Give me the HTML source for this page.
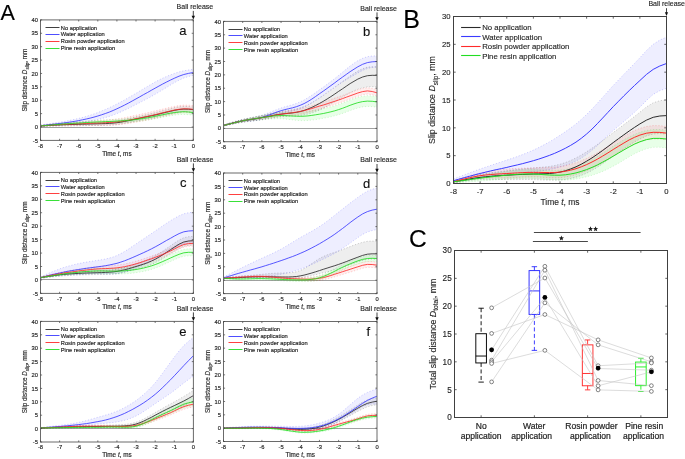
<!DOCTYPE html><html><head><meta charset="utf-8"><style>html,body{margin:0;padding:0;background:#fff;overflow:hidden}svg{display:block;will-change:transform}text{font-family:"Liberation Sans", sans-serif}</style></head><body>
<svg width="685" height="459" viewBox="0 0 685 459">
<rect width="685" height="459" fill="#fff"/>
<text x="0.60" y="19.50" font-size="21.50" text-anchor="start" fill="#000" stroke="#000" stroke-width="0.13">A</text>
<text x="403.20" y="27.80" font-size="25.00" text-anchor="start" fill="#000" stroke="#000" stroke-width="0.13">B</text>
<text x="409.00" y="246.50" font-size="24.50" text-anchor="start" fill="#000" stroke="#000" stroke-width="0.13">C</text>
<line x1="40.50" y1="127.50" x2="193.30" y2="127.50" stroke="#888" stroke-width="0.8"/>
<clipPath id="clipa"><rect x="40.50" y="19.90" width="152.80" height="120.50"/></clipPath>
<g clip-path="url(#clipa)">
<path d="M40.5,125.4 L44.3,125.0 L48.1,124.7 L52.0,124.4 L55.8,124.1 L59.6,123.8 L63.4,123.6 L67.2,123.4 L71.1,123.3 L74.9,123.1 L78.7,123.0 L82.5,122.8 L86.3,122.7 L90.2,122.5 L94.0,122.3 L97.8,122.2 L101.6,122.0 L105.4,121.9 L109.3,121.6 L113.1,121.3 L116.9,120.9 L120.7,120.2 L124.5,119.5 L128.4,118.6 L132.2,117.7 L136.0,116.8 L139.8,116.0 L143.6,115.2 L147.5,114.3 L151.3,113.5 L155.1,112.6 L158.9,111.6 L162.7,110.6 L166.6,109.6 L170.4,108.6 L174.2,107.7 L179.0,106.8 L183.8,106.4 L188.5,106.5 L193.3,106.9 L193.3,112.3 L188.5,111.8 L183.8,111.7 L179.0,112.2 L174.2,113.1 L170.4,113.9 L166.6,114.8 L162.7,115.6 L158.9,116.5 L155.1,117.4 L151.3,118.2 L147.5,118.9 L143.6,119.6 L139.8,120.4 L136.0,121.1 L132.2,121.9 L128.4,122.7 L124.5,123.4 L120.7,124.1 L116.9,124.6 L113.1,125.0 L109.3,125.2 L105.4,125.3 L101.6,125.4 L97.8,125.4 L94.0,125.4 L90.2,125.5 L86.3,125.6 L82.5,125.6 L78.7,125.7 L74.9,125.7 L71.1,125.8 L67.2,125.8 L63.4,125.9 L59.6,125.9 L55.8,126.0 L52.0,126.1 L48.1,126.2 L44.3,126.4 L40.5,126.5 Z" fill="rgba(0,0,0,0.065)" stroke="none"/>
<path d="M40.5,124.9 L44.3,124.4 L48.1,123.9 L52.0,123.3 L55.8,122.8 L59.6,122.2 L63.4,121.6 L67.2,120.9 L71.1,120.1 L74.9,119.3 L78.7,118.4 L82.5,117.5 L86.3,116.4 L90.2,115.2 L94.0,113.9 L97.8,112.6 L101.6,111.0 L105.4,109.4 L109.3,107.7 L113.1,105.9 L116.9,104.0 L120.7,102.0 L124.5,99.9 L128.4,97.7 L132.2,95.5 L136.0,93.3 L139.8,91.0 L143.6,88.7 L147.5,86.4 L151.3,84.2 L155.1,82.0 L158.9,80.0 L162.7,78.2 L166.6,76.4 L170.4,74.9 L174.2,73.5 L179.0,71.9 L183.8,70.8 L188.5,70.0 L193.3,69.4 L193.3,75.3 L188.5,76.5 L183.8,78.0 L179.0,80.2 L174.2,82.8 L170.4,85.1 L166.6,87.4 L162.7,89.8 L158.9,92.1 L155.1,94.3 L151.3,96.5 L147.5,98.6 L143.6,100.6 L139.8,102.6 L136.0,104.5 L132.2,106.5 L128.4,108.4 L124.5,110.2 L120.7,112.0 L116.9,113.6 L113.1,115.1 L109.3,116.4 L105.4,117.6 L101.6,118.6 L97.8,119.5 L94.0,120.3 L90.2,121.0 L86.3,121.6 L82.5,122.2 L78.7,122.7 L74.9,123.2 L71.1,123.7 L67.2,124.1 L63.4,124.5 L59.6,124.9 L55.8,125.2 L52.0,125.6 L48.1,125.9 L44.3,126.2 L40.5,126.5 Z" fill="rgba(0,0,255,0.065)" stroke="none"/>
<path d="M40.5,125.4 L44.3,124.9 L48.1,124.5 L52.0,124.0 L55.8,123.6 L59.6,123.3 L63.4,122.9 L67.2,122.7 L71.1,122.4 L74.9,122.2 L78.7,121.9 L82.5,121.7 L86.3,121.4 L90.2,121.1 L94.0,120.8 L97.8,120.6 L101.6,120.3 L105.4,120.1 L109.3,119.8 L113.1,119.4 L116.9,119.0 L120.7,118.4 L124.5,117.7 L128.4,116.9 L132.2,116.1 L136.0,115.2 L139.8,114.4 L143.6,113.6 L147.5,112.7 L151.3,111.8 L155.1,110.9 L158.9,110.0 L162.7,109.1 L166.6,108.1 L170.4,107.2 L174.2,106.4 L179.0,105.5 L183.8,105.1 L188.5,105.2 L193.3,105.6 L193.3,113.1 L188.5,112.7 L183.8,112.6 L179.0,113.0 L174.2,113.9 L170.4,114.7 L166.6,115.6 L162.7,116.6 L158.9,117.5 L155.1,118.4 L151.3,119.3 L147.5,120.1 L143.6,120.8 L139.8,121.5 L136.0,122.2 L132.2,122.8 L128.4,123.5 L124.5,124.0 L120.7,124.5 L116.9,124.9 L113.1,125.1 L109.3,125.3 L105.4,125.3 L101.6,125.4 L97.8,125.4 L94.0,125.4 L90.2,125.5 L86.3,125.6 L82.5,125.6 L78.7,125.7 L74.9,125.7 L71.1,125.8 L67.2,125.8 L63.4,125.9 L59.6,125.9 L55.8,126.0 L52.0,126.1 L48.1,126.2 L44.3,126.4 L40.5,126.5 Z" fill="rgba(255,0,0,0.065)" stroke="none"/>
<path d="M40.5,125.4 L44.3,125.0 L48.1,124.5 L52.0,124.1 L55.8,123.7 L59.6,123.3 L63.4,122.9 L67.2,122.6 L71.1,122.3 L74.9,121.9 L78.7,121.7 L82.5,121.4 L86.3,121.1 L90.2,120.8 L94.0,120.6 L97.8,120.3 L101.6,120.1 L105.4,119.9 L109.3,119.7 L113.1,119.5 L116.9,119.2 L120.7,119.0 L124.5,118.7 L128.4,118.3 L132.2,117.9 L136.0,117.4 L139.8,116.8 L143.6,116.2 L147.5,115.5 L151.3,114.7 L155.1,113.9 L158.9,113.0 L162.7,112.2 L166.6,111.3 L170.4,110.5 L174.2,109.9 L179.0,109.3 L183.8,109.1 L188.5,109.3 L193.3,109.9 L193.3,115.2 L188.5,114.7 L183.8,114.4 L179.0,114.6 L174.2,115.2 L170.4,115.8 L166.6,116.5 L162.7,117.2 L158.9,118.0 L155.1,118.7 L151.3,119.4 L147.5,120.1 L143.6,120.7 L139.8,121.2 L136.0,121.7 L132.2,122.0 L128.4,122.4 L124.5,122.6 L120.7,122.8 L116.9,123.0 L113.1,123.1 L109.3,123.2 L105.4,123.3 L101.6,123.4 L97.8,123.5 L94.0,123.7 L90.2,123.8 L86.3,124.0 L82.5,124.1 L78.7,124.3 L74.9,124.5 L71.1,124.7 L67.2,125.0 L63.4,125.2 L59.6,125.4 L55.8,125.6 L52.0,125.8 L48.1,126.1 L44.3,126.3 L40.5,126.5 Z" fill="rgba(0,255,0,0.09)" stroke="none"/>
<path d="M40.5,125.4 L44.3,125.0 L48.1,124.7 L52.0,124.4 L55.8,124.1 L59.6,123.8 L63.4,123.6 L67.2,123.4 L71.1,123.3 L74.9,123.1 L78.7,123.0 L82.5,122.8 L86.3,122.7 L90.2,122.5 L94.0,122.3 L97.8,122.2 L101.6,122.0 L105.4,121.9 L109.3,121.6 L113.1,121.3 L116.9,120.9 L120.7,120.2 L124.5,119.5 L128.4,118.6 L132.2,117.7 L136.0,116.8 L139.8,116.0 L143.6,115.2 L147.5,114.3 L151.3,113.5 L155.1,112.6 L158.9,111.6 L162.7,110.6 L166.6,109.6 L170.4,108.6 L174.2,107.7 L179.0,106.8 L183.8,106.4 L188.5,106.5 L193.3,106.9" fill="none" stroke="rgba(0,0,0,0.3)" stroke-width="0.6" stroke-dasharray="1.2,1.8"/>
<path d="M40.5,126.5 L44.3,126.4 L48.1,126.2 L52.0,126.1 L55.8,126.0 L59.6,125.9 L63.4,125.9 L67.2,125.8 L71.1,125.8 L74.9,125.7 L78.7,125.7 L82.5,125.6 L86.3,125.6 L90.2,125.5 L94.0,125.4 L97.8,125.4 L101.6,125.4 L105.4,125.3 L109.3,125.2 L113.1,125.0 L116.9,124.6 L120.7,124.1 L124.5,123.4 L128.4,122.7 L132.2,121.9 L136.0,121.1 L139.8,120.4 L143.6,119.6 L147.5,118.9 L151.3,118.2 L155.1,117.4 L158.9,116.5 L162.7,115.6 L166.6,114.8 L170.4,113.9 L174.2,113.1 L179.0,112.2 L183.8,111.7 L188.5,111.8 L193.3,112.3" fill="none" stroke="rgba(0,0,0,0.3)" stroke-width="0.6" stroke-dasharray="1.2,1.8"/>
<path d="M40.5,124.9 L44.3,124.4 L48.1,123.9 L52.0,123.3 L55.8,122.8 L59.6,122.2 L63.4,121.6 L67.2,120.9 L71.1,120.1 L74.9,119.3 L78.7,118.4 L82.5,117.5 L86.3,116.4 L90.2,115.2 L94.0,113.9 L97.8,112.6 L101.6,111.0 L105.4,109.4 L109.3,107.7 L113.1,105.9 L116.9,104.0 L120.7,102.0 L124.5,99.9 L128.4,97.7 L132.2,95.5 L136.0,93.3 L139.8,91.0 L143.6,88.7 L147.5,86.4 L151.3,84.2 L155.1,82.0 L158.9,80.0 L162.7,78.2 L166.6,76.4 L170.4,74.9 L174.2,73.5 L179.0,71.9 L183.8,70.8 L188.5,70.0 L193.3,69.4" fill="none" stroke="rgba(0,0,255,0.3)" stroke-width="0.6" stroke-dasharray="1.2,1.8"/>
<path d="M40.5,126.5 L44.3,126.2 L48.1,125.9 L52.0,125.6 L55.8,125.2 L59.6,124.9 L63.4,124.5 L67.2,124.1 L71.1,123.7 L74.9,123.2 L78.7,122.7 L82.5,122.2 L86.3,121.6 L90.2,121.0 L94.0,120.3 L97.8,119.5 L101.6,118.6 L105.4,117.6 L109.3,116.4 L113.1,115.1 L116.9,113.6 L120.7,112.0 L124.5,110.2 L128.4,108.4 L132.2,106.5 L136.0,104.5 L139.8,102.6 L143.6,100.6 L147.5,98.6 L151.3,96.5 L155.1,94.3 L158.9,92.1 L162.7,89.8 L166.6,87.4 L170.4,85.1 L174.2,82.8 L179.0,80.2 L183.8,78.0 L188.5,76.5 L193.3,75.3" fill="none" stroke="rgba(0,0,255,0.3)" stroke-width="0.6" stroke-dasharray="1.2,1.8"/>
<path d="M40.5,125.4 L44.3,124.9 L48.1,124.5 L52.0,124.0 L55.8,123.6 L59.6,123.3 L63.4,122.9 L67.2,122.7 L71.1,122.4 L74.9,122.2 L78.7,121.9 L82.5,121.7 L86.3,121.4 L90.2,121.1 L94.0,120.8 L97.8,120.6 L101.6,120.3 L105.4,120.1 L109.3,119.8 L113.1,119.4 L116.9,119.0 L120.7,118.4 L124.5,117.7 L128.4,116.9 L132.2,116.1 L136.0,115.2 L139.8,114.4 L143.6,113.6 L147.5,112.7 L151.3,111.8 L155.1,110.9 L158.9,110.0 L162.7,109.1 L166.6,108.1 L170.4,107.2 L174.2,106.4 L179.0,105.5 L183.8,105.1 L188.5,105.2 L193.3,105.6" fill="none" stroke="rgba(255,0,0,0.3)" stroke-width="0.6" stroke-dasharray="1.2,1.8"/>
<path d="M40.5,126.5 L44.3,126.4 L48.1,126.2 L52.0,126.1 L55.8,126.0 L59.6,125.9 L63.4,125.9 L67.2,125.8 L71.1,125.8 L74.9,125.7 L78.7,125.7 L82.5,125.6 L86.3,125.6 L90.2,125.5 L94.0,125.4 L97.8,125.4 L101.6,125.4 L105.4,125.3 L109.3,125.3 L113.1,125.1 L116.9,124.9 L120.7,124.5 L124.5,124.0 L128.4,123.5 L132.2,122.8 L136.0,122.2 L139.8,121.5 L143.6,120.8 L147.5,120.1 L151.3,119.3 L155.1,118.4 L158.9,117.5 L162.7,116.6 L166.6,115.6 L170.4,114.7 L174.2,113.9 L179.0,113.0 L183.8,112.6 L188.5,112.7 L193.3,113.1" fill="none" stroke="rgba(255,0,0,0.3)" stroke-width="0.6" stroke-dasharray="1.2,1.8"/>
<path d="M40.5,125.4 L44.3,125.0 L48.1,124.5 L52.0,124.1 L55.8,123.7 L59.6,123.3 L63.4,122.9 L67.2,122.6 L71.1,122.3 L74.9,121.9 L78.7,121.7 L82.5,121.4 L86.3,121.1 L90.2,120.8 L94.0,120.6 L97.8,120.3 L101.6,120.1 L105.4,119.9 L109.3,119.7 L113.1,119.5 L116.9,119.2 L120.7,119.0 L124.5,118.7 L128.4,118.3 L132.2,117.9 L136.0,117.4 L139.8,116.8 L143.6,116.2 L147.5,115.5 L151.3,114.7 L155.1,113.9 L158.9,113.0 L162.7,112.2 L166.6,111.3 L170.4,110.5 L174.2,109.9 L179.0,109.3 L183.8,109.1 L188.5,109.3 L193.3,109.9" fill="none" stroke="rgba(0,200,0,0.25)" stroke-width="0.6" stroke-dasharray="1.2,1.8"/>
<path d="M40.5,126.5 L44.3,126.3 L48.1,126.1 L52.0,125.8 L55.8,125.6 L59.6,125.4 L63.4,125.2 L67.2,125.0 L71.1,124.7 L74.9,124.5 L78.7,124.3 L82.5,124.1 L86.3,124.0 L90.2,123.8 L94.0,123.7 L97.8,123.5 L101.6,123.4 L105.4,123.3 L109.3,123.2 L113.1,123.1 L116.9,123.0 L120.7,122.8 L124.5,122.6 L128.4,122.4 L132.2,122.0 L136.0,121.7 L139.8,121.2 L143.6,120.7 L147.5,120.1 L151.3,119.4 L155.1,118.7 L158.9,118.0 L162.7,117.2 L166.6,116.5 L170.4,115.8 L174.2,115.2 L179.0,114.6 L183.8,114.4 L188.5,114.7 L193.3,115.2" fill="none" stroke="rgba(0,200,0,0.25)" stroke-width="0.6" stroke-dasharray="1.2,1.8"/>
<path d="M40.5,125.9 L44.3,125.7 L48.1,125.5 L52.0,125.2 L55.8,125.0 L59.6,124.9 L63.4,124.7 L67.2,124.6 L71.1,124.5 L74.9,124.4 L78.7,124.3 L82.5,124.2 L86.3,124.1 L90.2,124.0 L94.0,123.9 L97.8,123.8 L101.6,123.7 L105.4,123.6 L109.3,123.4 L113.1,123.1 L116.9,122.7 L120.7,122.2 L124.5,121.4 L128.4,120.7 L132.2,119.8 L136.0,119.0 L139.8,118.2 L143.6,117.4 L147.5,116.6 L151.3,115.8 L155.1,115.0 L158.9,114.1 L162.7,113.1 L166.6,112.2 L170.4,111.3 L174.2,110.4 L179.0,109.5 L183.8,109.1 L188.5,109.2 L193.3,109.6" fill="none" stroke="#2a2a2a" stroke-width="0.85" stroke-linejoin="round"/>
<path d="M40.5,125.7 L44.3,125.3 L48.1,124.9 L52.0,124.4 L55.8,124.0 L59.6,123.5 L63.4,123.0 L67.2,122.5 L71.1,121.9 L74.9,121.3 L78.7,120.6 L82.5,119.8 L86.3,119.0 L90.2,118.1 L94.0,117.1 L97.8,116.0 L101.6,114.8 L105.4,113.5 L109.3,112.1 L113.1,110.5 L116.9,108.8 L120.7,107.0 L124.5,105.1 L128.4,103.1 L132.2,101.0 L136.0,98.9 L139.8,96.8 L143.6,94.6 L147.5,92.5 L151.3,90.3 L155.1,88.2 L158.9,86.1 L162.7,84.0 L166.6,82.0 L170.4,80.1 L174.2,78.3 L179.0,76.2 L183.8,74.5 L188.5,73.4 L193.3,72.5" fill="none" stroke="#3a3aff" stroke-width="0.85" stroke-linejoin="round"/>
<path d="M40.5,125.9 L44.3,125.6 L48.1,125.4 L52.0,125.1 L55.8,124.8 L59.6,124.6 L63.4,124.4 L67.2,124.2 L71.1,124.1 L74.9,123.9 L78.7,123.8 L82.5,123.6 L86.3,123.5 L90.2,123.3 L94.0,123.1 L97.8,123.0 L101.6,122.9 L105.4,122.7 L109.3,122.5 L113.1,122.3 L116.9,121.9 L120.7,121.4 L124.5,120.9 L128.4,120.2 L132.2,119.5 L136.0,118.7 L139.8,118.0 L143.6,117.2 L147.5,116.4 L151.3,115.6 L155.1,114.7 L158.9,113.8 L162.7,112.8 L166.6,111.9 L170.4,111.0 L174.2,110.1 L179.0,109.3 L183.8,108.8 L188.5,108.9 L193.3,109.3" fill="none" stroke="#ff2a2a" stroke-width="0.85" stroke-linejoin="round"/>
<path d="M40.5,125.9 L44.3,125.6 L48.1,125.3 L52.0,125.0 L55.8,124.6 L59.6,124.3 L63.4,124.0 L67.2,123.8 L71.1,123.5 L74.9,123.2 L78.7,123.0 L82.5,122.8 L86.3,122.5 L90.2,122.3 L94.0,122.1 L97.8,121.9 L101.6,121.8 L105.4,121.6 L109.3,121.5 L113.1,121.3 L116.9,121.1 L120.7,120.9 L124.5,120.6 L128.4,120.3 L132.2,120.0 L136.0,119.5 L139.8,119.0 L143.6,118.4 L147.5,117.8 L151.3,117.1 L155.1,116.3 L158.9,115.5 L162.7,114.7 L166.6,113.9 L170.4,113.2 L174.2,112.6 L179.0,112.0 L183.8,111.7 L188.5,112.0 L193.3,112.6" fill="none" stroke="#22dd22" stroke-width="0.85" stroke-linejoin="round"/>
</g>
<line x1="45.50" y1="27.50" x2="59.50" y2="27.50" stroke="#2a2a2a" stroke-width="0.9"/>
<text x="60.80" y="29.60" font-size="5.72" text-anchor="start" fill="#262626" stroke="#262626" stroke-width="0.16">No application</text>
<line x1="45.50" y1="34.50" x2="59.50" y2="34.50" stroke="#3a3aff" stroke-width="0.9"/>
<text x="60.80" y="36.45" font-size="5.72" text-anchor="start" fill="#262626" stroke="#262626" stroke-width="0.16">Water application</text>
<line x1="45.50" y1="41.50" x2="59.50" y2="41.50" stroke="#ff2a2a" stroke-width="0.9"/>
<text x="60.80" y="43.30" font-size="5.72" text-anchor="start" fill="#262626" stroke="#262626" stroke-width="0.16">Rosin powder application</text>
<line x1="45.50" y1="48.50" x2="59.50" y2="48.50" stroke="#22dd22" stroke-width="0.9"/>
<text x="60.80" y="50.15" font-size="5.72" text-anchor="start" fill="#262626" stroke="#262626" stroke-width="0.16">Pine resin application</text>
<rect x="40.50" y="19.90" width="152.80" height="120.50" fill="none" stroke="#6a6a6a" stroke-width="1.0"/>
<line x1="40.50" y1="140.40" x2="40.50" y2="138.80" stroke="#404040" stroke-width="0.7"/>
<line x1="40.50" y1="19.90" x2="40.50" y2="21.50" stroke="#404040" stroke-width="0.7"/>
<text x="40.50" y="147.80" font-size="5.80" text-anchor="middle" fill="#262626" stroke="#262626" stroke-width="0.16">-8</text>
<line x1="59.60" y1="140.40" x2="59.60" y2="138.80" stroke="#404040" stroke-width="0.7"/>
<line x1="59.60" y1="19.90" x2="59.60" y2="21.50" stroke="#404040" stroke-width="0.7"/>
<text x="59.60" y="147.80" font-size="5.80" text-anchor="middle" fill="#262626" stroke="#262626" stroke-width="0.16">-7</text>
<line x1="78.70" y1="140.40" x2="78.70" y2="138.80" stroke="#404040" stroke-width="0.7"/>
<line x1="78.70" y1="19.90" x2="78.70" y2="21.50" stroke="#404040" stroke-width="0.7"/>
<text x="78.70" y="147.80" font-size="5.80" text-anchor="middle" fill="#262626" stroke="#262626" stroke-width="0.16">-6</text>
<line x1="97.80" y1="140.40" x2="97.80" y2="138.80" stroke="#404040" stroke-width="0.7"/>
<line x1="97.80" y1="19.90" x2="97.80" y2="21.50" stroke="#404040" stroke-width="0.7"/>
<text x="97.80" y="147.80" font-size="5.80" text-anchor="middle" fill="#262626" stroke="#262626" stroke-width="0.16">-5</text>
<line x1="116.90" y1="140.40" x2="116.90" y2="138.80" stroke="#404040" stroke-width="0.7"/>
<line x1="116.90" y1="19.90" x2="116.90" y2="21.50" stroke="#404040" stroke-width="0.7"/>
<text x="116.90" y="147.80" font-size="5.80" text-anchor="middle" fill="#262626" stroke="#262626" stroke-width="0.16">-4</text>
<line x1="136.00" y1="140.40" x2="136.00" y2="138.80" stroke="#404040" stroke-width="0.7"/>
<line x1="136.00" y1="19.90" x2="136.00" y2="21.50" stroke="#404040" stroke-width="0.7"/>
<text x="136.00" y="147.80" font-size="5.80" text-anchor="middle" fill="#262626" stroke="#262626" stroke-width="0.16">-3</text>
<line x1="155.10" y1="140.40" x2="155.10" y2="138.80" stroke="#404040" stroke-width="0.7"/>
<line x1="155.10" y1="19.90" x2="155.10" y2="21.50" stroke="#404040" stroke-width="0.7"/>
<text x="155.10" y="147.80" font-size="5.80" text-anchor="middle" fill="#262626" stroke="#262626" stroke-width="0.16">-2</text>
<line x1="174.20" y1="140.40" x2="174.20" y2="138.80" stroke="#404040" stroke-width="0.7"/>
<line x1="174.20" y1="19.90" x2="174.20" y2="21.50" stroke="#404040" stroke-width="0.7"/>
<text x="174.20" y="147.80" font-size="5.80" text-anchor="middle" fill="#262626" stroke="#262626" stroke-width="0.16">-1</text>
<line x1="193.30" y1="140.40" x2="193.30" y2="138.80" stroke="#404040" stroke-width="0.7"/>
<line x1="193.30" y1="19.90" x2="193.30" y2="21.50" stroke="#404040" stroke-width="0.7"/>
<text x="193.30" y="147.80" font-size="5.80" text-anchor="middle" fill="#262626" stroke="#262626" stroke-width="0.16">0</text>
<line x1="40.50" y1="140.40" x2="42.10" y2="140.40" stroke="#404040" stroke-width="0.7"/>
<line x1="193.30" y1="140.40" x2="191.70" y2="140.40" stroke="#404040" stroke-width="0.7"/>
<text x="38.00" y="142.50" font-size="5.80" text-anchor="end" fill="#262626" stroke="#262626" stroke-width="0.16">-5</text>
<line x1="40.50" y1="127.01" x2="42.10" y2="127.01" stroke="#404040" stroke-width="0.7"/>
<line x1="193.30" y1="127.01" x2="191.70" y2="127.01" stroke="#404040" stroke-width="0.7"/>
<text x="38.00" y="129.11" font-size="5.80" text-anchor="end" fill="#262626" stroke="#262626" stroke-width="0.16">0</text>
<line x1="40.50" y1="113.62" x2="42.10" y2="113.62" stroke="#404040" stroke-width="0.7"/>
<line x1="193.30" y1="113.62" x2="191.70" y2="113.62" stroke="#404040" stroke-width="0.7"/>
<text x="38.00" y="115.72" font-size="5.80" text-anchor="end" fill="#262626" stroke="#262626" stroke-width="0.16">5</text>
<line x1="40.50" y1="100.23" x2="42.10" y2="100.23" stroke="#404040" stroke-width="0.7"/>
<line x1="193.30" y1="100.23" x2="191.70" y2="100.23" stroke="#404040" stroke-width="0.7"/>
<text x="38.00" y="102.33" font-size="5.80" text-anchor="end" fill="#262626" stroke="#262626" stroke-width="0.16">10</text>
<line x1="40.50" y1="86.84" x2="42.10" y2="86.84" stroke="#404040" stroke-width="0.7"/>
<line x1="193.30" y1="86.84" x2="191.70" y2="86.84" stroke="#404040" stroke-width="0.7"/>
<text x="38.00" y="88.94" font-size="5.80" text-anchor="end" fill="#262626" stroke="#262626" stroke-width="0.16">15</text>
<line x1="40.50" y1="73.46" x2="42.10" y2="73.46" stroke="#404040" stroke-width="0.7"/>
<line x1="193.30" y1="73.46" x2="191.70" y2="73.46" stroke="#404040" stroke-width="0.7"/>
<text x="38.00" y="75.56" font-size="5.80" text-anchor="end" fill="#262626" stroke="#262626" stroke-width="0.16">20</text>
<line x1="40.50" y1="60.07" x2="42.10" y2="60.07" stroke="#404040" stroke-width="0.7"/>
<line x1="193.30" y1="60.07" x2="191.70" y2="60.07" stroke="#404040" stroke-width="0.7"/>
<text x="38.00" y="62.17" font-size="5.80" text-anchor="end" fill="#262626" stroke="#262626" stroke-width="0.16">25</text>
<line x1="40.50" y1="46.68" x2="42.10" y2="46.68" stroke="#404040" stroke-width="0.7"/>
<line x1="193.30" y1="46.68" x2="191.70" y2="46.68" stroke="#404040" stroke-width="0.7"/>
<text x="38.00" y="48.78" font-size="5.80" text-anchor="end" fill="#262626" stroke="#262626" stroke-width="0.16">30</text>
<line x1="40.50" y1="33.29" x2="42.10" y2="33.29" stroke="#404040" stroke-width="0.7"/>
<line x1="193.30" y1="33.29" x2="191.70" y2="33.29" stroke="#404040" stroke-width="0.7"/>
<text x="38.00" y="35.39" font-size="5.80" text-anchor="end" fill="#262626" stroke="#262626" stroke-width="0.16">35</text>
<line x1="40.50" y1="19.90" x2="42.10" y2="19.90" stroke="#404040" stroke-width="0.7"/>
<line x1="193.30" y1="19.90" x2="191.70" y2="19.90" stroke="#404040" stroke-width="0.7"/>
<text x="38.00" y="22.00" font-size="5.80" text-anchor="end" fill="#262626" stroke="#262626" stroke-width="0.16">40</text>
<text x="116.90" y="155.80" font-size="6.35" text-anchor="middle" fill="#262626" stroke="#262626" stroke-width="0.16">Time <tspan font-style="italic">t</tspan>, ms</text>
<text transform="translate(26.70,80.15) rotate(-90)" font-size="6.3" text-anchor="middle" fill="#262626" stroke="#262626" stroke-width="0.13">Slip distance <tspan font-style="italic">D</tspan><tspan font-size="4.6" dy="2.0">slip</tspan><tspan dy="-2.0">, mm</tspan></text>
<text x="186.50" y="34.50" font-size="13.00" text-anchor="end" fill="#111" stroke="#111" stroke-width="0.13">a</text>
<text x="194.90" y="9.20" font-size="7.00" text-anchor="middle" fill="#262626" stroke="#262626" stroke-width="0.13">Ball release</text>
<line x1="193.30" y1="10.90" x2="193.30" y2="16.90" stroke="#111" stroke-width="0.8"/>
<path d="M191.60,15.70 L195.00,15.70 L193.30,19.60 Z" fill="#111"/>
<line x1="223.50" y1="128.50" x2="377.00" y2="128.50" stroke="#888" stroke-width="0.8"/>
<clipPath id="clipb"><rect x="223.50" y="21.40" width="153.50" height="120.30"/></clipPath>
<g clip-path="url(#clipb)">
<path d="M223.5,125.0 L227.3,123.8 L231.2,122.7 L235.0,121.5 L238.8,120.5 L242.7,119.5 L246.5,118.6 L250.4,117.8 L254.2,117.0 L258.0,116.3 L261.9,115.5 L265.7,114.7 L269.6,113.8 L273.4,113.0 L277.2,112.2 L281.1,111.5 L284.9,110.9 L288.7,110.3 L292.6,109.6 L296.4,108.8 L300.2,107.7 L304.1,106.4 L307.9,104.7 L311.8,102.7 L315.6,100.5 L319.4,98.1 L323.3,95.6 L327.1,92.9 L330.9,90.2 L334.8,87.4 L338.6,84.5 L342.5,81.6 L346.3,78.8 L350.1,76.0 L354.0,73.5 L357.8,71.1 L362.6,68.7 L367.4,67.1 L372.2,66.7 L377.0,66.8 L377.0,86.9 L372.2,86.7 L367.4,86.9 L362.6,87.8 L357.8,89.3 L354.0,90.9 L350.1,92.8 L346.3,94.9 L342.5,97.1 L338.6,99.5 L334.8,101.8 L330.9,104.1 L327.1,106.3 L323.3,108.3 L319.4,110.2 L315.6,111.7 L311.8,113.0 L307.9,114.1 L304.1,114.9 L300.2,115.5 L296.4,115.9 L292.6,116.1 L288.7,116.3 L284.9,116.5 L281.1,116.8 L277.2,117.3 L273.4,117.9 L269.6,118.5 L265.7,119.2 L261.9,119.8 L258.0,120.3 L254.2,120.7 L250.4,121.2 L246.5,121.7 L242.7,122.2 L238.8,122.8 L235.0,123.6 L231.2,124.4 L227.3,125.2 L223.5,126.1 Z" fill="rgba(0,0,0,0.065)" stroke="none"/>
<path d="M223.5,125.0 L227.3,123.8 L231.2,122.6 L235.0,121.5 L238.8,120.4 L242.7,119.5 L246.5,118.7 L250.4,118.0 L254.2,117.2 L258.0,116.3 L261.9,115.2 L265.7,113.9 L269.6,112.5 L273.4,110.9 L277.2,109.4 L281.1,108.0 L284.9,106.8 L288.7,105.8 L292.6,104.7 L296.4,103.4 L300.2,101.9 L304.1,100.0 L307.9,97.7 L311.8,95.2 L315.6,92.6 L319.4,89.8 L323.3,87.1 L327.1,84.3 L330.9,81.4 L334.8,78.5 L338.6,75.4 L342.5,72.2 L346.3,69.1 L350.1,66.0 L354.0,63.2 L357.8,60.7 L362.6,58.3 L367.4,56.7 L372.2,56.0 L377.0,55.9 L377.0,67.1 L372.2,67.5 L367.4,68.5 L362.6,70.4 L357.8,73.0 L354.0,75.2 L350.1,77.4 L346.3,79.7 L342.5,82.0 L338.6,84.5 L334.8,87.1 L330.9,89.7 L327.1,92.4 L323.3,95.2 L319.4,97.9 L315.6,100.5 L311.8,103.0 L307.9,105.2 L304.1,107.2 L300.2,108.8 L296.4,110.0 L292.6,110.9 L288.7,111.7 L284.9,112.5 L281.1,113.4 L277.2,114.5 L273.4,115.8 L269.6,117.2 L265.7,118.4 L261.9,119.5 L258.0,120.3 L254.2,120.9 L250.4,121.3 L246.5,121.7 L242.7,122.2 L238.8,122.8 L235.0,123.5 L231.2,124.3 L227.3,125.2 L223.5,126.1 Z" fill="rgba(0,0,255,0.065)" stroke="none"/>
<path d="M223.5,125.0 L227.3,123.9 L231.2,122.8 L235.0,121.7 L238.8,120.7 L242.7,119.8 L246.5,119.0 L250.4,118.2 L254.2,117.5 L258.0,116.8 L261.9,116.0 L265.7,115.2 L269.6,114.4 L273.4,113.6 L277.2,112.8 L281.1,112.0 L284.9,111.4 L288.7,110.8 L292.6,110.2 L296.4,109.6 L300.2,108.8 L304.1,107.9 L307.9,106.8 L311.8,105.7 L315.6,104.5 L319.4,103.2 L323.3,102.0 L327.1,100.7 L330.9,99.4 L334.8,98.1 L338.6,96.8 L342.5,95.4 L346.3,94.0 L350.1,92.6 L354.0,91.2 L357.8,89.8 L362.6,88.4 L367.4,87.7 L372.2,88.3 L377.0,89.6 L377.0,96.0 L372.2,94.7 L367.4,94.1 L362.6,94.8 L357.8,96.3 L354.0,97.6 L350.1,99.0 L346.3,100.4 L342.5,101.9 L338.6,103.2 L334.8,104.5 L330.9,105.7 L327.1,106.8 L323.3,107.9 L319.4,109.1 L315.6,110.2 L311.8,111.4 L307.9,112.4 L304.1,113.4 L300.2,114.2 L296.4,114.8 L292.6,115.2 L288.7,115.6 L284.9,115.9 L281.1,116.3 L277.2,116.8 L273.4,117.4 L269.6,118.0 L265.7,118.6 L261.9,119.2 L258.0,119.8 L254.2,120.3 L250.4,120.8 L246.5,121.3 L242.7,121.9 L238.8,122.6 L235.0,123.4 L231.2,124.3 L227.3,125.1 L223.5,126.1 Z" fill="rgba(255,0,0,0.065)" stroke="none"/>
<path d="M223.5,125.0 L227.3,123.8 L231.2,122.7 L235.0,121.5 L238.8,120.5 L242.7,119.5 L246.5,118.6 L250.4,117.8 L254.2,117.0 L258.0,116.3 L261.9,115.5 L265.7,114.7 L269.6,113.9 L273.4,113.3 L277.2,112.7 L281.1,112.3 L284.9,112.1 L288.7,112.1 L292.6,112.1 L296.4,112.1 L300.2,112.0 L304.1,111.7 L307.9,111.3 L311.8,110.7 L315.6,110.1 L319.4,109.4 L323.3,108.6 L327.1,107.8 L330.9,106.8 L334.8,105.8 L338.6,104.5 L342.5,103.1 L346.3,101.6 L350.1,100.0 L354.0,98.6 L357.8,97.3 L362.6,96.2 L367.4,95.7 L372.2,95.9 L377.0,96.5 L377.0,107.2 L372.2,106.6 L367.4,106.4 L362.6,106.9 L357.8,108.0 L354.0,109.2 L350.1,110.6 L346.3,112.0 L342.5,113.4 L338.6,114.7 L334.8,115.8 L330.9,116.8 L327.1,117.6 L323.3,118.3 L319.4,119.0 L315.6,119.6 L311.8,120.1 L307.9,120.4 L304.1,120.6 L300.2,120.6 L296.4,120.3 L292.6,119.9 L288.7,119.4 L284.9,119.0 L281.1,118.7 L277.2,118.6 L273.4,118.8 L269.6,119.0 L265.7,119.4 L261.9,119.8 L258.0,120.2 L254.2,120.6 L250.4,121.1 L246.5,121.6 L242.7,122.2 L238.8,122.9 L235.0,123.6 L231.2,124.4 L227.3,125.2 L223.5,126.1 Z" fill="rgba(0,255,0,0.09)" stroke="none"/>
<path d="M223.5,125.0 L227.3,123.8 L231.2,122.7 L235.0,121.5 L238.8,120.5 L242.7,119.5 L246.5,118.6 L250.4,117.8 L254.2,117.0 L258.0,116.3 L261.9,115.5 L265.7,114.7 L269.6,113.8 L273.4,113.0 L277.2,112.2 L281.1,111.5 L284.9,110.9 L288.7,110.3 L292.6,109.6 L296.4,108.8 L300.2,107.7 L304.1,106.4 L307.9,104.7 L311.8,102.7 L315.6,100.5 L319.4,98.1 L323.3,95.6 L327.1,92.9 L330.9,90.2 L334.8,87.4 L338.6,84.5 L342.5,81.6 L346.3,78.8 L350.1,76.0 L354.0,73.5 L357.8,71.1 L362.6,68.7 L367.4,67.1 L372.2,66.7 L377.0,66.8" fill="none" stroke="rgba(0,0,0,0.3)" stroke-width="0.6" stroke-dasharray="1.2,1.8"/>
<path d="M223.5,126.1 L227.3,125.2 L231.2,124.4 L235.0,123.6 L238.8,122.8 L242.7,122.2 L246.5,121.7 L250.4,121.2 L254.2,120.7 L258.0,120.3 L261.9,119.8 L265.7,119.2 L269.6,118.5 L273.4,117.9 L277.2,117.3 L281.1,116.8 L284.9,116.5 L288.7,116.3 L292.6,116.1 L296.4,115.9 L300.2,115.5 L304.1,114.9 L307.9,114.1 L311.8,113.0 L315.6,111.7 L319.4,110.2 L323.3,108.3 L327.1,106.3 L330.9,104.1 L334.8,101.8 L338.6,99.5 L342.5,97.1 L346.3,94.9 L350.1,92.8 L354.0,90.9 L357.8,89.3 L362.6,87.8 L367.4,86.9 L372.2,86.7 L377.0,86.9" fill="none" stroke="rgba(0,0,0,0.3)" stroke-width="0.6" stroke-dasharray="1.2,1.8"/>
<path d="M223.5,125.0 L227.3,123.8 L231.2,122.6 L235.0,121.5 L238.8,120.4 L242.7,119.5 L246.5,118.7 L250.4,118.0 L254.2,117.2 L258.0,116.3 L261.9,115.2 L265.7,113.9 L269.6,112.5 L273.4,110.9 L277.2,109.4 L281.1,108.0 L284.9,106.8 L288.7,105.8 L292.6,104.7 L296.4,103.4 L300.2,101.9 L304.1,100.0 L307.9,97.7 L311.8,95.2 L315.6,92.6 L319.4,89.8 L323.3,87.1 L327.1,84.3 L330.9,81.4 L334.8,78.5 L338.6,75.4 L342.5,72.2 L346.3,69.1 L350.1,66.0 L354.0,63.2 L357.8,60.7 L362.6,58.3 L367.4,56.7 L372.2,56.0 L377.0,55.9" fill="none" stroke="rgba(0,0,255,0.3)" stroke-width="0.6" stroke-dasharray="1.2,1.8"/>
<path d="M223.5,126.1 L227.3,125.2 L231.2,124.3 L235.0,123.5 L238.8,122.8 L242.7,122.2 L246.5,121.7 L250.4,121.3 L254.2,120.9 L258.0,120.3 L261.9,119.5 L265.7,118.4 L269.6,117.2 L273.4,115.8 L277.2,114.5 L281.1,113.4 L284.9,112.5 L288.7,111.7 L292.6,110.9 L296.4,110.0 L300.2,108.8 L304.1,107.2 L307.9,105.2 L311.8,103.0 L315.6,100.5 L319.4,97.9 L323.3,95.2 L327.1,92.4 L330.9,89.7 L334.8,87.1 L338.6,84.5 L342.5,82.0 L346.3,79.7 L350.1,77.4 L354.0,75.2 L357.8,73.0 L362.6,70.4 L367.4,68.5 L372.2,67.5 L377.0,67.1" fill="none" stroke="rgba(0,0,255,0.3)" stroke-width="0.6" stroke-dasharray="1.2,1.8"/>
<path d="M223.5,125.0 L227.3,123.9 L231.2,122.8 L235.0,121.7 L238.8,120.7 L242.7,119.8 L246.5,119.0 L250.4,118.2 L254.2,117.5 L258.0,116.8 L261.9,116.0 L265.7,115.2 L269.6,114.4 L273.4,113.6 L277.2,112.8 L281.1,112.0 L284.9,111.4 L288.7,110.8 L292.6,110.2 L296.4,109.6 L300.2,108.8 L304.1,107.9 L307.9,106.8 L311.8,105.7 L315.6,104.5 L319.4,103.2 L323.3,102.0 L327.1,100.7 L330.9,99.4 L334.8,98.1 L338.6,96.8 L342.5,95.4 L346.3,94.0 L350.1,92.6 L354.0,91.2 L357.8,89.8 L362.6,88.4 L367.4,87.7 L372.2,88.3 L377.0,89.6" fill="none" stroke="rgba(255,0,0,0.3)" stroke-width="0.6" stroke-dasharray="1.2,1.8"/>
<path d="M223.5,126.1 L227.3,125.1 L231.2,124.3 L235.0,123.4 L238.8,122.6 L242.7,121.9 L246.5,121.3 L250.4,120.8 L254.2,120.3 L258.0,119.8 L261.9,119.2 L265.7,118.6 L269.6,118.0 L273.4,117.4 L277.2,116.8 L281.1,116.3 L284.9,115.9 L288.7,115.6 L292.6,115.2 L296.4,114.8 L300.2,114.2 L304.1,113.4 L307.9,112.4 L311.8,111.4 L315.6,110.2 L319.4,109.1 L323.3,107.9 L327.1,106.8 L330.9,105.7 L334.8,104.5 L338.6,103.2 L342.5,101.9 L346.3,100.4 L350.1,99.0 L354.0,97.6 L357.8,96.3 L362.6,94.8 L367.4,94.1 L372.2,94.7 L377.0,96.0" fill="none" stroke="rgba(255,0,0,0.3)" stroke-width="0.6" stroke-dasharray="1.2,1.8"/>
<path d="M223.5,125.0 L227.3,123.8 L231.2,122.7 L235.0,121.5 L238.8,120.5 L242.7,119.5 L246.5,118.6 L250.4,117.8 L254.2,117.0 L258.0,116.3 L261.9,115.5 L265.7,114.7 L269.6,113.9 L273.4,113.3 L277.2,112.7 L281.1,112.3 L284.9,112.1 L288.7,112.1 L292.6,112.1 L296.4,112.1 L300.2,112.0 L304.1,111.7 L307.9,111.3 L311.8,110.7 L315.6,110.1 L319.4,109.4 L323.3,108.6 L327.1,107.8 L330.9,106.8 L334.8,105.8 L338.6,104.5 L342.5,103.1 L346.3,101.6 L350.1,100.0 L354.0,98.6 L357.8,97.3 L362.6,96.2 L367.4,95.7 L372.2,95.9 L377.0,96.5" fill="none" stroke="rgba(0,200,0,0.25)" stroke-width="0.6" stroke-dasharray="1.2,1.8"/>
<path d="M223.5,126.1 L227.3,125.2 L231.2,124.4 L235.0,123.6 L238.8,122.9 L242.7,122.2 L246.5,121.6 L250.4,121.1 L254.2,120.6 L258.0,120.2 L261.9,119.8 L265.7,119.4 L269.6,119.0 L273.4,118.8 L277.2,118.6 L281.1,118.7 L284.9,119.0 L288.7,119.4 L292.6,119.9 L296.4,120.3 L300.2,120.6 L304.1,120.6 L307.9,120.4 L311.8,120.1 L315.6,119.6 L319.4,119.0 L323.3,118.3 L327.1,117.6 L330.9,116.8 L334.8,115.8 L338.6,114.7 L342.5,113.4 L346.3,112.0 L350.1,110.6 L354.0,109.2 L357.8,108.0 L362.6,106.9 L367.4,106.4 L372.2,106.6 L377.0,107.2" fill="none" stroke="rgba(0,200,0,0.25)" stroke-width="0.6" stroke-dasharray="1.2,1.8"/>
<path d="M223.5,125.5 L227.3,124.5 L231.2,123.5 L235.0,122.5 L238.8,121.7 L242.7,120.8 L246.5,120.1 L250.4,119.5 L254.2,118.9 L258.0,118.3 L261.9,117.6 L265.7,116.9 L269.6,116.2 L273.4,115.4 L277.2,114.7 L281.1,114.2 L284.9,113.7 L288.7,113.3 L292.6,112.9 L296.4,112.3 L300.2,111.5 L304.1,110.4 L307.9,109.0 L311.8,107.4 L315.6,105.5 L319.4,103.5 L323.3,101.3 L327.1,99.0 L330.9,96.6 L334.8,94.0 L338.6,91.4 L342.5,88.8 L346.3,86.2 L350.1,83.6 L354.0,81.3 L357.8,79.1 L362.6,77.0 L367.4,75.7 L372.2,75.3 L377.0,75.4" fill="none" stroke="#2a2a2a" stroke-width="0.85" stroke-linejoin="round"/>
<path d="M223.5,125.5 L227.3,124.5 L231.2,123.5 L235.0,122.5 L238.8,121.6 L242.7,120.8 L246.5,120.2 L250.4,119.6 L254.2,119.0 L258.0,118.3 L261.9,117.4 L265.7,116.2 L269.6,114.8 L273.4,113.4 L277.2,111.9 L281.1,110.7 L284.9,109.6 L288.7,108.7 L292.6,107.8 L296.4,106.7 L300.2,105.3 L304.1,103.6 L307.9,101.5 L311.8,99.1 L315.6,96.5 L319.4,93.8 L323.3,91.1 L327.1,88.4 L330.9,85.6 L334.8,82.8 L338.6,79.9 L342.5,77.1 L346.3,74.4 L350.1,71.7 L354.0,69.2 L357.8,66.8 L362.6,64.3 L367.4,62.6 L372.2,61.8 L377.0,61.5" fill="none" stroke="#3a3aff" stroke-width="0.85" stroke-linejoin="round"/>
<path d="M223.5,125.5 L227.3,124.5 L231.2,123.5 L235.0,122.5 L238.8,121.7 L242.7,120.8 L246.5,120.1 L250.4,119.5 L254.2,118.9 L258.0,118.3 L261.9,117.6 L265.7,116.9 L269.6,116.2 L273.4,115.5 L277.2,114.8 L281.1,114.2 L284.9,113.6 L288.7,113.2 L292.6,112.7 L296.4,112.2 L300.2,111.5 L304.1,110.6 L307.9,109.6 L311.8,108.5 L315.6,107.3 L319.4,106.1 L323.3,105.0 L327.1,103.8 L330.9,102.5 L334.8,101.3 L338.6,100.0 L342.5,98.6 L346.3,97.2 L350.1,95.8 L354.0,94.4 L357.8,93.0 L362.6,91.6 L367.4,90.9 L372.2,91.5 L377.0,92.8" fill="none" stroke="#ff2a2a" stroke-width="0.85" stroke-linejoin="round"/>
<path d="M223.5,125.5 L227.3,124.5 L231.2,123.5 L235.0,122.6 L238.8,121.7 L242.7,120.8 L246.5,120.1 L250.4,119.4 L254.2,118.8 L258.0,118.2 L261.9,117.6 L265.7,117.0 L269.6,116.5 L273.4,116.0 L277.2,115.7 L281.1,115.5 L284.9,115.6 L288.7,115.8 L292.6,116.0 L296.4,116.2 L300.2,116.3 L304.1,116.2 L307.9,115.9 L311.8,115.4 L315.6,114.8 L319.4,114.2 L323.3,113.5 L327.1,112.7 L330.9,111.8 L334.8,110.8 L338.6,109.6 L342.5,108.3 L346.3,106.8 L350.1,105.3 L354.0,103.9 L357.8,102.7 L362.6,101.6 L367.4,101.1 L372.2,101.3 L377.0,101.9" fill="none" stroke="#22dd22" stroke-width="0.85" stroke-linejoin="round"/>
</g>
<line x1="228.50" y1="29.50" x2="242.50" y2="29.50" stroke="#2a2a2a" stroke-width="0.9"/>
<text x="243.80" y="31.10" font-size="5.72" text-anchor="start" fill="#262626" stroke="#262626" stroke-width="0.16">No application</text>
<line x1="228.50" y1="35.50" x2="242.50" y2="35.50" stroke="#3a3aff" stroke-width="0.9"/>
<text x="243.80" y="37.95" font-size="5.72" text-anchor="start" fill="#262626" stroke="#262626" stroke-width="0.16">Water application</text>
<line x1="228.50" y1="42.50" x2="242.50" y2="42.50" stroke="#ff2a2a" stroke-width="0.9"/>
<text x="243.80" y="44.80" font-size="5.72" text-anchor="start" fill="#262626" stroke="#262626" stroke-width="0.16">Rosin powder application</text>
<line x1="228.50" y1="49.50" x2="242.50" y2="49.50" stroke="#22dd22" stroke-width="0.9"/>
<text x="243.80" y="51.65" font-size="5.72" text-anchor="start" fill="#262626" stroke="#262626" stroke-width="0.16">Pine resin application</text>
<rect x="223.50" y="21.40" width="153.50" height="120.30" fill="none" stroke="#6a6a6a" stroke-width="1.0"/>
<line x1="223.50" y1="141.70" x2="223.50" y2="140.10" stroke="#404040" stroke-width="0.7"/>
<line x1="223.50" y1="21.40" x2="223.50" y2="23.00" stroke="#404040" stroke-width="0.7"/>
<text x="223.50" y="149.10" font-size="5.80" text-anchor="middle" fill="#262626" stroke="#262626" stroke-width="0.16">-8</text>
<line x1="242.69" y1="141.70" x2="242.69" y2="140.10" stroke="#404040" stroke-width="0.7"/>
<line x1="242.69" y1="21.40" x2="242.69" y2="23.00" stroke="#404040" stroke-width="0.7"/>
<text x="242.69" y="149.10" font-size="5.80" text-anchor="middle" fill="#262626" stroke="#262626" stroke-width="0.16">-7</text>
<line x1="261.88" y1="141.70" x2="261.88" y2="140.10" stroke="#404040" stroke-width="0.7"/>
<line x1="261.88" y1="21.40" x2="261.88" y2="23.00" stroke="#404040" stroke-width="0.7"/>
<text x="261.88" y="149.10" font-size="5.80" text-anchor="middle" fill="#262626" stroke="#262626" stroke-width="0.16">-6</text>
<line x1="281.06" y1="141.70" x2="281.06" y2="140.10" stroke="#404040" stroke-width="0.7"/>
<line x1="281.06" y1="21.40" x2="281.06" y2="23.00" stroke="#404040" stroke-width="0.7"/>
<text x="281.06" y="149.10" font-size="5.80" text-anchor="middle" fill="#262626" stroke="#262626" stroke-width="0.16">-5</text>
<line x1="300.25" y1="141.70" x2="300.25" y2="140.10" stroke="#404040" stroke-width="0.7"/>
<line x1="300.25" y1="21.40" x2="300.25" y2="23.00" stroke="#404040" stroke-width="0.7"/>
<text x="300.25" y="149.10" font-size="5.80" text-anchor="middle" fill="#262626" stroke="#262626" stroke-width="0.16">-4</text>
<line x1="319.44" y1="141.70" x2="319.44" y2="140.10" stroke="#404040" stroke-width="0.7"/>
<line x1="319.44" y1="21.40" x2="319.44" y2="23.00" stroke="#404040" stroke-width="0.7"/>
<text x="319.44" y="149.10" font-size="5.80" text-anchor="middle" fill="#262626" stroke="#262626" stroke-width="0.16">-3</text>
<line x1="338.62" y1="141.70" x2="338.62" y2="140.10" stroke="#404040" stroke-width="0.7"/>
<line x1="338.62" y1="21.40" x2="338.62" y2="23.00" stroke="#404040" stroke-width="0.7"/>
<text x="338.62" y="149.10" font-size="5.80" text-anchor="middle" fill="#262626" stroke="#262626" stroke-width="0.16">-2</text>
<line x1="357.81" y1="141.70" x2="357.81" y2="140.10" stroke="#404040" stroke-width="0.7"/>
<line x1="357.81" y1="21.40" x2="357.81" y2="23.00" stroke="#404040" stroke-width="0.7"/>
<text x="357.81" y="149.10" font-size="5.80" text-anchor="middle" fill="#262626" stroke="#262626" stroke-width="0.16">-1</text>
<line x1="377.00" y1="141.70" x2="377.00" y2="140.10" stroke="#404040" stroke-width="0.7"/>
<line x1="377.00" y1="21.40" x2="377.00" y2="23.00" stroke="#404040" stroke-width="0.7"/>
<text x="377.00" y="149.10" font-size="5.80" text-anchor="middle" fill="#262626" stroke="#262626" stroke-width="0.16">0</text>
<line x1="223.50" y1="141.70" x2="225.10" y2="141.70" stroke="#404040" stroke-width="0.7"/>
<line x1="377.00" y1="141.70" x2="375.40" y2="141.70" stroke="#404040" stroke-width="0.7"/>
<text x="221.00" y="143.80" font-size="5.80" text-anchor="end" fill="#262626" stroke="#262626" stroke-width="0.16">-5</text>
<line x1="223.50" y1="128.33" x2="225.10" y2="128.33" stroke="#404040" stroke-width="0.7"/>
<line x1="377.00" y1="128.33" x2="375.40" y2="128.33" stroke="#404040" stroke-width="0.7"/>
<text x="221.00" y="130.43" font-size="5.80" text-anchor="end" fill="#262626" stroke="#262626" stroke-width="0.16">0</text>
<line x1="223.50" y1="114.97" x2="225.10" y2="114.97" stroke="#404040" stroke-width="0.7"/>
<line x1="377.00" y1="114.97" x2="375.40" y2="114.97" stroke="#404040" stroke-width="0.7"/>
<text x="221.00" y="117.07" font-size="5.80" text-anchor="end" fill="#262626" stroke="#262626" stroke-width="0.16">5</text>
<line x1="223.50" y1="101.60" x2="225.10" y2="101.60" stroke="#404040" stroke-width="0.7"/>
<line x1="377.00" y1="101.60" x2="375.40" y2="101.60" stroke="#404040" stroke-width="0.7"/>
<text x="221.00" y="103.70" font-size="5.80" text-anchor="end" fill="#262626" stroke="#262626" stroke-width="0.16">10</text>
<line x1="223.50" y1="88.23" x2="225.10" y2="88.23" stroke="#404040" stroke-width="0.7"/>
<line x1="377.00" y1="88.23" x2="375.40" y2="88.23" stroke="#404040" stroke-width="0.7"/>
<text x="221.00" y="90.33" font-size="5.80" text-anchor="end" fill="#262626" stroke="#262626" stroke-width="0.16">15</text>
<line x1="223.50" y1="74.87" x2="225.10" y2="74.87" stroke="#404040" stroke-width="0.7"/>
<line x1="377.00" y1="74.87" x2="375.40" y2="74.87" stroke="#404040" stroke-width="0.7"/>
<text x="221.00" y="76.97" font-size="5.80" text-anchor="end" fill="#262626" stroke="#262626" stroke-width="0.16">20</text>
<line x1="223.50" y1="61.50" x2="225.10" y2="61.50" stroke="#404040" stroke-width="0.7"/>
<line x1="377.00" y1="61.50" x2="375.40" y2="61.50" stroke="#404040" stroke-width="0.7"/>
<text x="221.00" y="63.60" font-size="5.80" text-anchor="end" fill="#262626" stroke="#262626" stroke-width="0.16">25</text>
<line x1="223.50" y1="48.13" x2="225.10" y2="48.13" stroke="#404040" stroke-width="0.7"/>
<line x1="377.00" y1="48.13" x2="375.40" y2="48.13" stroke="#404040" stroke-width="0.7"/>
<text x="221.00" y="50.23" font-size="5.80" text-anchor="end" fill="#262626" stroke="#262626" stroke-width="0.16">30</text>
<line x1="223.50" y1="34.77" x2="225.10" y2="34.77" stroke="#404040" stroke-width="0.7"/>
<line x1="377.00" y1="34.77" x2="375.40" y2="34.77" stroke="#404040" stroke-width="0.7"/>
<text x="221.00" y="36.87" font-size="5.80" text-anchor="end" fill="#262626" stroke="#262626" stroke-width="0.16">35</text>
<line x1="223.50" y1="21.40" x2="225.10" y2="21.40" stroke="#404040" stroke-width="0.7"/>
<line x1="377.00" y1="21.40" x2="375.40" y2="21.40" stroke="#404040" stroke-width="0.7"/>
<text x="221.00" y="23.50" font-size="5.80" text-anchor="end" fill="#262626" stroke="#262626" stroke-width="0.16">40</text>
<text x="300.25" y="157.10" font-size="6.35" text-anchor="middle" fill="#262626" stroke="#262626" stroke-width="0.16">Time <tspan font-style="italic">t</tspan>, ms</text>
<text transform="translate(209.70,81.55) rotate(-90)" font-size="6.3" text-anchor="middle" fill="#262626" stroke="#262626" stroke-width="0.13">Slip distance <tspan font-style="italic">D</tspan><tspan font-size="4.6" dy="2.0">slip</tspan><tspan dy="-2.0">, mm</tspan></text>
<text x="370.20" y="36.00" font-size="13.00" text-anchor="end" fill="#111" stroke="#111" stroke-width="0.13">b</text>
<text x="378.60" y="10.70" font-size="7.00" text-anchor="middle" fill="#262626" stroke="#262626" stroke-width="0.13">Ball release</text>
<line x1="377.00" y1="12.40" x2="377.00" y2="18.40" stroke="#111" stroke-width="0.8"/>
<path d="M375.30,17.20 L378.70,17.20 L377.00,21.10 Z" fill="#111"/>
<line x1="40.50" y1="279.50" x2="193.40" y2="279.50" stroke="#888" stroke-width="0.8"/>
<clipPath id="clipc"><rect x="40.50" y="172.40" width="152.90" height="121.00"/></clipPath>
<g clip-path="url(#clipc)">
<path d="M40.5,277.1 L44.3,276.3 L48.1,275.5 L52.0,274.8 L55.8,274.1 L59.6,273.5 L63.4,273.0 L67.3,272.6 L71.1,272.3 L74.9,272.0 L78.7,271.8 L82.5,271.5 L86.4,271.3 L90.2,271.1 L94.0,271.0 L97.8,270.8 L101.7,270.7 L105.5,270.5 L109.3,270.2 L113.1,269.8 L117.0,269.2 L120.8,268.4 L124.6,267.4 L128.4,266.3 L132.2,265.1 L136.1,263.8 L139.9,262.5 L143.7,261.1 L147.5,259.5 L151.4,257.7 L155.2,255.8 L159.0,253.5 L162.8,251.0 L166.6,248.4 L170.5,245.8 L174.3,243.1 L179.1,240.0 L183.8,237.7 L188.6,236.7 L193.4,236.4 L193.4,245.0 L188.6,245.4 L183.8,246.3 L179.1,248.4 L174.3,251.2 L170.5,253.6 L166.6,256.1 L162.8,258.5 L159.0,260.7 L155.2,262.7 L151.4,264.4 L147.5,265.9 L143.7,267.1 L139.9,268.2 L136.1,269.2 L132.2,270.2 L128.4,271.2 L124.6,272.1 L120.8,272.9 L117.0,273.5 L113.1,274.0 L109.3,274.2 L105.5,274.4 L101.7,274.5 L97.8,274.6 L94.0,274.6 L90.2,274.7 L86.4,274.8 L82.5,274.9 L78.7,275.0 L74.9,275.1 L71.1,275.3 L67.3,275.6 L63.4,275.9 L59.6,276.2 L55.8,276.5 L52.0,276.9 L48.1,277.3 L44.3,277.8 L40.5,278.2 Z" fill="rgba(0,0,0,0.065)" stroke="none"/>
<path d="M40.5,276.9 L44.3,275.2 L48.1,273.5 L52.0,271.9 L55.8,270.4 L59.6,268.9 L63.4,267.6 L67.3,266.4 L71.1,265.4 L74.9,264.4 L78.7,263.6 L82.5,262.8 L86.4,262.1 L90.2,261.5 L94.0,260.9 L97.8,260.3 L101.7,259.7 L105.5,259.0 L109.3,258.1 L113.1,257.0 L117.0,255.5 L120.8,253.6 L124.6,251.5 L128.4,249.1 L132.2,246.5 L136.1,243.9 L139.9,241.3 L143.7,238.8 L147.5,236.2 L151.4,233.6 L155.2,231.0 L159.0,228.4 L162.8,225.8 L166.6,223.2 L170.5,220.7 L174.3,218.4 L179.1,215.8 L183.8,213.8 L188.6,212.7 L193.4,212.2 L193.4,242.8 L188.6,243.1 L183.8,243.9 L179.1,245.8 L174.3,248.2 L170.5,250.4 L166.6,252.5 L162.8,254.7 L159.0,256.9 L155.2,259.0 L151.4,261.0 L147.5,262.9 L143.7,264.8 L139.9,266.5 L136.1,268.1 L132.2,269.7 L128.4,271.0 L124.6,272.2 L120.8,273.1 L117.0,273.8 L113.1,274.1 L109.3,274.1 L105.5,274.0 L101.7,273.9 L97.8,273.8 L94.0,273.8 L90.2,273.9 L86.4,274.1 L82.5,274.4 L78.7,274.6 L74.9,274.8 L71.1,274.9 L67.3,275.1 L63.4,275.3 L59.6,275.7 L55.8,276.1 L52.0,276.6 L48.1,277.2 L44.3,277.8 L40.5,278.5 Z" fill="rgba(0,0,255,0.065)" stroke="none"/>
<path d="M40.5,277.1 L44.3,276.1 L48.1,275.1 L52.0,274.2 L55.8,273.3 L59.6,272.4 L63.4,271.7 L67.3,271.0 L71.1,270.3 L74.9,269.7 L78.7,269.1 L82.5,268.5 L86.4,267.9 L90.2,267.4 L94.0,266.9 L97.8,266.5 L101.7,266.2 L105.5,266.0 L109.3,265.8 L113.1,265.5 L117.0,265.2 L120.8,264.6 L124.6,264.0 L128.4,263.1 L132.2,262.2 L136.1,261.1 L139.9,260.0 L143.7,258.8 L147.5,257.5 L151.4,256.1 L155.2,254.7 L159.0,253.2 L162.8,251.7 L166.6,250.1 L170.5,248.3 L174.3,246.3 L179.1,243.8 L183.8,241.8 L188.6,240.9 L193.4,240.7 L193.4,246.1 L188.6,246.3 L183.8,247.2 L179.1,249.2 L174.3,251.7 L170.5,253.7 L166.6,255.4 L162.8,257.1 L159.0,258.6 L155.2,260.1 L151.4,261.5 L147.5,262.8 L143.7,264.1 L139.9,265.4 L136.1,266.5 L132.2,267.6 L128.4,268.5 L124.6,269.4 L120.8,270.0 L117.0,270.5 L113.1,270.9 L109.3,271.1 L105.5,271.2 L101.7,271.2 L97.8,271.4 L94.0,271.5 L90.2,271.8 L86.4,272.1 L82.5,272.4 L78.7,272.8 L74.9,273.2 L71.1,273.7 L67.3,274.1 L63.4,274.6 L59.6,275.1 L55.8,275.7 L52.0,276.3 L48.1,276.9 L44.3,277.6 L40.5,278.2 Z" fill="rgba(255,0,0,0.065)" stroke="none"/>
<path d="M40.5,277.1 L44.3,276.3 L48.1,275.5 L52.0,274.8 L55.8,274.0 L59.6,273.2 L63.4,272.5 L67.3,271.8 L71.1,271.2 L74.9,270.6 L78.7,270.0 L82.5,269.5 L86.4,269.1 L90.2,268.7 L94.0,268.4 L97.8,268.3 L101.7,268.2 L105.5,268.2 L109.3,268.2 L113.1,268.2 L117.0,268.1 L120.8,268.0 L124.6,267.7 L128.4,267.3 L132.2,266.8 L136.1,266.2 L139.9,265.5 L143.7,264.6 L147.5,263.6 L151.4,262.5 L155.2,261.1 L159.0,259.6 L162.8,258.0 L166.6,256.3 L170.5,254.5 L174.3,252.8 L179.1,250.8 L183.8,249.3 L188.6,248.8 L193.4,248.8 L193.4,255.8 L188.6,255.8 L183.8,256.3 L179.1,257.7 L174.3,259.8 L170.5,261.6 L166.6,263.3 L162.8,265.0 L159.0,266.7 L155.2,268.1 L151.4,269.4 L147.5,270.5 L143.7,271.4 L139.9,272.1 L136.1,272.7 L132.2,273.2 L128.4,273.6 L124.6,273.8 L120.8,274.0 L117.0,274.0 L113.1,274.0 L109.3,273.9 L105.5,273.8 L101.7,273.7 L97.8,273.6 L94.0,273.7 L90.2,273.7 L86.4,273.9 L82.5,274.1 L78.7,274.3 L74.9,274.6 L71.1,274.9 L67.3,275.2 L63.4,275.5 L59.6,275.9 L55.8,276.3 L52.0,276.8 L48.1,277.2 L44.3,277.7 L40.5,278.2 Z" fill="rgba(0,255,0,0.09)" stroke="none"/>
<path d="M40.5,277.1 L44.3,276.3 L48.1,275.5 L52.0,274.8 L55.8,274.1 L59.6,273.5 L63.4,273.0 L67.3,272.6 L71.1,272.3 L74.9,272.0 L78.7,271.8 L82.5,271.5 L86.4,271.3 L90.2,271.1 L94.0,271.0 L97.8,270.8 L101.7,270.7 L105.5,270.5 L109.3,270.2 L113.1,269.8 L117.0,269.2 L120.8,268.4 L124.6,267.4 L128.4,266.3 L132.2,265.1 L136.1,263.8 L139.9,262.5 L143.7,261.1 L147.5,259.5 L151.4,257.7 L155.2,255.8 L159.0,253.5 L162.8,251.0 L166.6,248.4 L170.5,245.8 L174.3,243.1 L179.1,240.0 L183.8,237.7 L188.6,236.7 L193.4,236.4" fill="none" stroke="rgba(0,0,0,0.3)" stroke-width="0.6" stroke-dasharray="1.2,1.8"/>
<path d="M40.5,278.2 L44.3,277.8 L48.1,277.3 L52.0,276.9 L55.8,276.5 L59.6,276.2 L63.4,275.9 L67.3,275.6 L71.1,275.3 L74.9,275.1 L78.7,275.0 L82.5,274.9 L86.4,274.8 L90.2,274.7 L94.0,274.6 L97.8,274.6 L101.7,274.5 L105.5,274.4 L109.3,274.2 L113.1,274.0 L117.0,273.5 L120.8,272.9 L124.6,272.1 L128.4,271.2 L132.2,270.2 L136.1,269.2 L139.9,268.2 L143.7,267.1 L147.5,265.9 L151.4,264.4 L155.2,262.7 L159.0,260.7 L162.8,258.5 L166.6,256.1 L170.5,253.6 L174.3,251.2 L179.1,248.4 L183.8,246.3 L188.6,245.4 L193.4,245.0" fill="none" stroke="rgba(0,0,0,0.3)" stroke-width="0.6" stroke-dasharray="1.2,1.8"/>
<path d="M40.5,276.9 L44.3,275.2 L48.1,273.5 L52.0,271.9 L55.8,270.4 L59.6,268.9 L63.4,267.6 L67.3,266.4 L71.1,265.4 L74.9,264.4 L78.7,263.6 L82.5,262.8 L86.4,262.1 L90.2,261.5 L94.0,260.9 L97.8,260.3 L101.7,259.7 L105.5,259.0 L109.3,258.1 L113.1,257.0 L117.0,255.5 L120.8,253.6 L124.6,251.5 L128.4,249.1 L132.2,246.5 L136.1,243.9 L139.9,241.3 L143.7,238.8 L147.5,236.2 L151.4,233.6 L155.2,231.0 L159.0,228.4 L162.8,225.8 L166.6,223.2 L170.5,220.7 L174.3,218.4 L179.1,215.8 L183.8,213.8 L188.6,212.7 L193.4,212.2" fill="none" stroke="rgba(0,0,255,0.3)" stroke-width="0.6" stroke-dasharray="1.2,1.8"/>
<path d="M40.5,278.5 L44.3,277.8 L48.1,277.2 L52.0,276.6 L55.8,276.1 L59.6,275.7 L63.4,275.3 L67.3,275.1 L71.1,274.9 L74.9,274.8 L78.7,274.6 L82.5,274.4 L86.4,274.1 L90.2,273.9 L94.0,273.8 L97.8,273.8 L101.7,273.9 L105.5,274.0 L109.3,274.1 L113.1,274.1 L117.0,273.8 L120.8,273.1 L124.6,272.2 L128.4,271.0 L132.2,269.7 L136.1,268.1 L139.9,266.5 L143.7,264.8 L147.5,262.9 L151.4,261.0 L155.2,259.0 L159.0,256.9 L162.8,254.7 L166.6,252.5 L170.5,250.4 L174.3,248.2 L179.1,245.8 L183.8,243.9 L188.6,243.1 L193.4,242.8" fill="none" stroke="rgba(0,0,255,0.3)" stroke-width="0.6" stroke-dasharray="1.2,1.8"/>
<path d="M40.5,277.1 L44.3,276.1 L48.1,275.1 L52.0,274.2 L55.8,273.3 L59.6,272.4 L63.4,271.7 L67.3,271.0 L71.1,270.3 L74.9,269.7 L78.7,269.1 L82.5,268.5 L86.4,267.9 L90.2,267.4 L94.0,266.9 L97.8,266.5 L101.7,266.2 L105.5,266.0 L109.3,265.8 L113.1,265.5 L117.0,265.2 L120.8,264.6 L124.6,264.0 L128.4,263.1 L132.2,262.2 L136.1,261.1 L139.9,260.0 L143.7,258.8 L147.5,257.5 L151.4,256.1 L155.2,254.7 L159.0,253.2 L162.8,251.7 L166.6,250.1 L170.5,248.3 L174.3,246.3 L179.1,243.8 L183.8,241.8 L188.6,240.9 L193.4,240.7" fill="none" stroke="rgba(255,0,0,0.3)" stroke-width="0.6" stroke-dasharray="1.2,1.8"/>
<path d="M40.5,278.2 L44.3,277.6 L48.1,276.9 L52.0,276.3 L55.8,275.7 L59.6,275.1 L63.4,274.6 L67.3,274.1 L71.1,273.7 L74.9,273.2 L78.7,272.8 L82.5,272.4 L86.4,272.1 L90.2,271.8 L94.0,271.5 L97.8,271.4 L101.7,271.2 L105.5,271.2 L109.3,271.1 L113.1,270.9 L117.0,270.5 L120.8,270.0 L124.6,269.4 L128.4,268.5 L132.2,267.6 L136.1,266.5 L139.9,265.4 L143.7,264.1 L147.5,262.8 L151.4,261.5 L155.2,260.1 L159.0,258.6 L162.8,257.1 L166.6,255.4 L170.5,253.7 L174.3,251.7 L179.1,249.2 L183.8,247.2 L188.6,246.3 L193.4,246.1" fill="none" stroke="rgba(255,0,0,0.3)" stroke-width="0.6" stroke-dasharray="1.2,1.8"/>
<path d="M40.5,277.1 L44.3,276.3 L48.1,275.5 L52.0,274.8 L55.8,274.0 L59.6,273.2 L63.4,272.5 L67.3,271.8 L71.1,271.2 L74.9,270.6 L78.7,270.0 L82.5,269.5 L86.4,269.1 L90.2,268.7 L94.0,268.4 L97.8,268.3 L101.7,268.2 L105.5,268.2 L109.3,268.2 L113.1,268.2 L117.0,268.1 L120.8,268.0 L124.6,267.7 L128.4,267.3 L132.2,266.8 L136.1,266.2 L139.9,265.5 L143.7,264.6 L147.5,263.6 L151.4,262.5 L155.2,261.1 L159.0,259.6 L162.8,258.0 L166.6,256.3 L170.5,254.5 L174.3,252.8 L179.1,250.8 L183.8,249.3 L188.6,248.8 L193.4,248.8" fill="none" stroke="rgba(0,200,0,0.25)" stroke-width="0.6" stroke-dasharray="1.2,1.8"/>
<path d="M40.5,278.2 L44.3,277.7 L48.1,277.2 L52.0,276.8 L55.8,276.3 L59.6,275.9 L63.4,275.5 L67.3,275.2 L71.1,274.9 L74.9,274.6 L78.7,274.3 L82.5,274.1 L86.4,273.9 L90.2,273.7 L94.0,273.7 L97.8,273.6 L101.7,273.7 L105.5,273.8 L109.3,273.9 L113.1,274.0 L117.0,274.0 L120.8,274.0 L124.6,273.8 L128.4,273.6 L132.2,273.2 L136.1,272.7 L139.9,272.1 L143.7,271.4 L147.5,270.5 L151.4,269.4 L155.2,268.1 L159.0,266.7 L162.8,265.0 L166.6,263.3 L170.5,261.6 L174.3,259.8 L179.1,257.7 L183.8,256.3 L188.6,255.8 L193.4,255.8" fill="none" stroke="rgba(0,200,0,0.25)" stroke-width="0.6" stroke-dasharray="1.2,1.8"/>
<path d="M40.5,277.7 L44.3,277.0 L48.1,276.4 L52.0,275.9 L55.8,275.3 L59.6,274.8 L63.4,274.4 L67.3,274.1 L71.1,273.8 L74.9,273.6 L78.7,273.4 L82.5,273.2 L86.4,273.0 L90.2,272.9 L94.0,272.8 L97.8,272.7 L101.7,272.6 L105.5,272.4 L109.3,272.2 L113.1,271.9 L117.0,271.4 L120.8,270.6 L124.6,269.8 L128.4,268.8 L132.2,267.7 L136.1,266.5 L139.9,265.3 L143.7,264.1 L147.5,262.7 L151.4,261.1 L155.2,259.3 L159.0,257.1 L162.8,254.8 L166.6,252.3 L170.5,249.7 L174.3,247.2 L179.1,244.2 L183.8,242.0 L188.6,241.0 L193.4,240.7" fill="none" stroke="#2a2a2a" stroke-width="0.85" stroke-linejoin="round"/>
<path d="M40.5,277.7 L44.3,276.7 L48.1,275.7 L52.0,274.7 L55.8,273.8 L59.6,273.0 L63.4,272.2 L67.3,271.4 L71.1,270.7 L74.9,270.1 L78.7,269.5 L82.5,268.9 L86.4,268.3 L90.2,267.8 L94.0,267.3 L97.8,266.8 L101.7,266.3 L105.5,265.7 L109.3,265.0 L113.1,264.2 L117.0,263.3 L120.8,262.1 L124.6,260.8 L128.4,259.3 L132.2,257.7 L136.1,256.0 L139.9,254.3 L143.7,252.6 L147.5,250.8 L151.4,248.9 L155.2,246.9 L159.0,244.8 L162.8,242.6 L166.6,240.4 L170.5,238.3 L174.3,236.1 L179.1,233.6 L183.8,231.8 L188.6,231.0 L193.4,230.7" fill="none" stroke="#3a3aff" stroke-width="0.85" stroke-linejoin="round"/>
<path d="M40.5,277.7 L44.3,276.8 L48.1,276.0 L52.0,275.2 L55.8,274.5 L59.6,273.8 L63.4,273.1 L67.3,272.5 L71.1,272.0 L74.9,271.5 L78.7,270.9 L82.5,270.5 L86.4,270.0 L90.2,269.6 L94.0,269.2 L97.8,268.9 L101.7,268.7 L105.5,268.6 L109.3,268.4 L113.1,268.2 L117.0,267.9 L120.8,267.3 L124.6,266.7 L128.4,265.8 L132.2,264.9 L136.1,263.8 L139.9,262.7 L143.7,261.4 L147.5,260.1 L151.4,258.8 L155.2,257.4 L159.0,255.9 L162.8,254.4 L166.6,252.7 L170.5,251.0 L174.3,249.0 L179.1,246.5 L183.8,244.5 L188.6,243.6 L193.4,243.4" fill="none" stroke="#ff2a2a" stroke-width="0.85" stroke-linejoin="round"/>
<path d="M40.5,277.7 L44.3,277.0 L48.1,276.4 L52.0,275.8 L55.8,275.2 L59.6,274.6 L63.4,274.0 L67.3,273.5 L71.1,273.0 L74.9,272.6 L78.7,272.2 L82.5,271.8 L86.4,271.5 L90.2,271.2 L94.0,271.0 L97.8,270.9 L101.7,270.9 L105.5,271.0 L109.3,271.1 L113.1,271.1 L117.0,271.1 L120.8,271.0 L124.6,270.8 L128.4,270.4 L132.2,270.0 L136.1,269.5 L139.9,268.8 L143.7,268.0 L147.5,267.0 L151.4,265.9 L155.2,264.6 L159.0,263.1 L162.8,261.5 L166.6,259.8 L170.5,258.0 L174.3,256.3 L179.1,254.3 L183.8,252.8 L188.6,252.3 L193.4,252.3" fill="none" stroke="#22dd22" stroke-width="0.85" stroke-linejoin="round"/>
</g>
<line x1="45.50" y1="180.50" x2="59.50" y2="180.50" stroke="#2a2a2a" stroke-width="0.9"/>
<text x="60.80" y="182.10" font-size="5.72" text-anchor="start" fill="#262626" stroke="#262626" stroke-width="0.16">No application</text>
<line x1="45.50" y1="186.50" x2="59.50" y2="186.50" stroke="#3a3aff" stroke-width="0.9"/>
<text x="60.80" y="188.95" font-size="5.72" text-anchor="start" fill="#262626" stroke="#262626" stroke-width="0.16">Water application</text>
<line x1="45.50" y1="193.50" x2="59.50" y2="193.50" stroke="#ff2a2a" stroke-width="0.9"/>
<text x="60.80" y="195.80" font-size="5.72" text-anchor="start" fill="#262626" stroke="#262626" stroke-width="0.16">Rosin powder application</text>
<line x1="45.50" y1="200.50" x2="59.50" y2="200.50" stroke="#22dd22" stroke-width="0.9"/>
<text x="60.80" y="202.65" font-size="5.72" text-anchor="start" fill="#262626" stroke="#262626" stroke-width="0.16">Pine resin application</text>
<rect x="40.50" y="172.40" width="152.90" height="121.00" fill="none" stroke="#6a6a6a" stroke-width="1.0"/>
<line x1="40.50" y1="293.40" x2="40.50" y2="291.80" stroke="#404040" stroke-width="0.7"/>
<line x1="40.50" y1="172.40" x2="40.50" y2="174.00" stroke="#404040" stroke-width="0.7"/>
<text x="40.50" y="300.80" font-size="5.80" text-anchor="middle" fill="#262626" stroke="#262626" stroke-width="0.16">-8</text>
<line x1="59.61" y1="293.40" x2="59.61" y2="291.80" stroke="#404040" stroke-width="0.7"/>
<line x1="59.61" y1="172.40" x2="59.61" y2="174.00" stroke="#404040" stroke-width="0.7"/>
<text x="59.61" y="300.80" font-size="5.80" text-anchor="middle" fill="#262626" stroke="#262626" stroke-width="0.16">-7</text>
<line x1="78.72" y1="293.40" x2="78.72" y2="291.80" stroke="#404040" stroke-width="0.7"/>
<line x1="78.72" y1="172.40" x2="78.72" y2="174.00" stroke="#404040" stroke-width="0.7"/>
<text x="78.72" y="300.80" font-size="5.80" text-anchor="middle" fill="#262626" stroke="#262626" stroke-width="0.16">-6</text>
<line x1="97.84" y1="293.40" x2="97.84" y2="291.80" stroke="#404040" stroke-width="0.7"/>
<line x1="97.84" y1="172.40" x2="97.84" y2="174.00" stroke="#404040" stroke-width="0.7"/>
<text x="97.84" y="300.80" font-size="5.80" text-anchor="middle" fill="#262626" stroke="#262626" stroke-width="0.16">-5</text>
<line x1="116.95" y1="293.40" x2="116.95" y2="291.80" stroke="#404040" stroke-width="0.7"/>
<line x1="116.95" y1="172.40" x2="116.95" y2="174.00" stroke="#404040" stroke-width="0.7"/>
<text x="116.95" y="300.80" font-size="5.80" text-anchor="middle" fill="#262626" stroke="#262626" stroke-width="0.16">-4</text>
<line x1="136.06" y1="293.40" x2="136.06" y2="291.80" stroke="#404040" stroke-width="0.7"/>
<line x1="136.06" y1="172.40" x2="136.06" y2="174.00" stroke="#404040" stroke-width="0.7"/>
<text x="136.06" y="300.80" font-size="5.80" text-anchor="middle" fill="#262626" stroke="#262626" stroke-width="0.16">-3</text>
<line x1="155.18" y1="293.40" x2="155.18" y2="291.80" stroke="#404040" stroke-width="0.7"/>
<line x1="155.18" y1="172.40" x2="155.18" y2="174.00" stroke="#404040" stroke-width="0.7"/>
<text x="155.18" y="300.80" font-size="5.80" text-anchor="middle" fill="#262626" stroke="#262626" stroke-width="0.16">-2</text>
<line x1="174.29" y1="293.40" x2="174.29" y2="291.80" stroke="#404040" stroke-width="0.7"/>
<line x1="174.29" y1="172.40" x2="174.29" y2="174.00" stroke="#404040" stroke-width="0.7"/>
<text x="174.29" y="300.80" font-size="5.80" text-anchor="middle" fill="#262626" stroke="#262626" stroke-width="0.16">-1</text>
<line x1="193.40" y1="293.40" x2="193.40" y2="291.80" stroke="#404040" stroke-width="0.7"/>
<line x1="193.40" y1="172.40" x2="193.40" y2="174.00" stroke="#404040" stroke-width="0.7"/>
<text x="193.40" y="300.80" font-size="5.80" text-anchor="middle" fill="#262626" stroke="#262626" stroke-width="0.16">0</text>
<line x1="40.50" y1="293.40" x2="42.10" y2="293.40" stroke="#404040" stroke-width="0.7"/>
<line x1="193.40" y1="293.40" x2="191.80" y2="293.40" stroke="#404040" stroke-width="0.7"/>
<text x="38.00" y="295.50" font-size="5.80" text-anchor="end" fill="#262626" stroke="#262626" stroke-width="0.16">-5</text>
<line x1="40.50" y1="279.96" x2="42.10" y2="279.96" stroke="#404040" stroke-width="0.7"/>
<line x1="193.40" y1="279.96" x2="191.80" y2="279.96" stroke="#404040" stroke-width="0.7"/>
<text x="38.00" y="282.06" font-size="5.80" text-anchor="end" fill="#262626" stroke="#262626" stroke-width="0.16">0</text>
<line x1="40.50" y1="266.51" x2="42.10" y2="266.51" stroke="#404040" stroke-width="0.7"/>
<line x1="193.40" y1="266.51" x2="191.80" y2="266.51" stroke="#404040" stroke-width="0.7"/>
<text x="38.00" y="268.61" font-size="5.80" text-anchor="end" fill="#262626" stroke="#262626" stroke-width="0.16">5</text>
<line x1="40.50" y1="253.07" x2="42.10" y2="253.07" stroke="#404040" stroke-width="0.7"/>
<line x1="193.40" y1="253.07" x2="191.80" y2="253.07" stroke="#404040" stroke-width="0.7"/>
<text x="38.00" y="255.17" font-size="5.80" text-anchor="end" fill="#262626" stroke="#262626" stroke-width="0.16">10</text>
<line x1="40.50" y1="239.62" x2="42.10" y2="239.62" stroke="#404040" stroke-width="0.7"/>
<line x1="193.40" y1="239.62" x2="191.80" y2="239.62" stroke="#404040" stroke-width="0.7"/>
<text x="38.00" y="241.72" font-size="5.80" text-anchor="end" fill="#262626" stroke="#262626" stroke-width="0.16">15</text>
<line x1="40.50" y1="226.18" x2="42.10" y2="226.18" stroke="#404040" stroke-width="0.7"/>
<line x1="193.40" y1="226.18" x2="191.80" y2="226.18" stroke="#404040" stroke-width="0.7"/>
<text x="38.00" y="228.28" font-size="5.80" text-anchor="end" fill="#262626" stroke="#262626" stroke-width="0.16">20</text>
<line x1="40.50" y1="212.73" x2="42.10" y2="212.73" stroke="#404040" stroke-width="0.7"/>
<line x1="193.40" y1="212.73" x2="191.80" y2="212.73" stroke="#404040" stroke-width="0.7"/>
<text x="38.00" y="214.83" font-size="5.80" text-anchor="end" fill="#262626" stroke="#262626" stroke-width="0.16">25</text>
<line x1="40.50" y1="199.29" x2="42.10" y2="199.29" stroke="#404040" stroke-width="0.7"/>
<line x1="193.40" y1="199.29" x2="191.80" y2="199.29" stroke="#404040" stroke-width="0.7"/>
<text x="38.00" y="201.39" font-size="5.80" text-anchor="end" fill="#262626" stroke="#262626" stroke-width="0.16">30</text>
<line x1="40.50" y1="185.84" x2="42.10" y2="185.84" stroke="#404040" stroke-width="0.7"/>
<line x1="193.40" y1="185.84" x2="191.80" y2="185.84" stroke="#404040" stroke-width="0.7"/>
<text x="38.00" y="187.94" font-size="5.80" text-anchor="end" fill="#262626" stroke="#262626" stroke-width="0.16">35</text>
<line x1="40.50" y1="172.40" x2="42.10" y2="172.40" stroke="#404040" stroke-width="0.7"/>
<line x1="193.40" y1="172.40" x2="191.80" y2="172.40" stroke="#404040" stroke-width="0.7"/>
<text x="38.00" y="174.50" font-size="5.80" text-anchor="end" fill="#262626" stroke="#262626" stroke-width="0.16">40</text>
<text x="116.95" y="308.80" font-size="6.35" text-anchor="middle" fill="#262626" stroke="#262626" stroke-width="0.16">Time <tspan font-style="italic">t</tspan>, ms</text>
<text transform="translate(26.70,232.90) rotate(-90)" font-size="6.3" text-anchor="middle" fill="#262626" stroke="#262626" stroke-width="0.13">Slip distance <tspan font-style="italic">D</tspan><tspan font-size="4.6" dy="2.0">slip</tspan><tspan dy="-2.0">, mm</tspan></text>
<text x="186.60" y="187.00" font-size="13.00" text-anchor="end" fill="#111" stroke="#111" stroke-width="0.13">c</text>
<text x="195.00" y="161.70" font-size="7.00" text-anchor="middle" fill="#262626" stroke="#262626" stroke-width="0.13">Ball release</text>
<line x1="193.40" y1="163.40" x2="193.40" y2="169.40" stroke="#111" stroke-width="0.8"/>
<path d="M191.70,168.20 L195.10,168.20 L193.40,172.10 Z" fill="#111"/>
<line x1="223.50" y1="280.50" x2="377.00" y2="280.50" stroke="#888" stroke-width="0.8"/>
<clipPath id="clipd"><rect x="223.50" y="173.00" width="153.50" height="120.60"/></clipPath>
<g clip-path="url(#clipd)">
<path d="M223.5,277.8 L227.3,277.4 L231.2,277.1 L235.0,276.7 L238.8,276.4 L242.7,276.0 L246.5,275.7 L250.4,275.4 L254.2,275.0 L258.0,274.7 L261.9,274.3 L265.7,273.9 L269.6,273.6 L273.4,273.3 L277.2,273.1 L281.1,273.0 L284.9,272.9 L288.7,272.8 L292.6,272.5 L296.4,271.8 L300.2,270.6 L304.1,268.6 L307.9,266.2 L311.8,263.6 L315.6,260.9 L319.4,258.5 L323.3,256.5 L327.1,254.9 L330.9,253.5 L334.8,252.3 L338.6,251.0 L342.5,249.6 L346.3,248.1 L350.1,246.6 L354.0,245.1 L357.8,243.8 L362.6,242.3 L367.4,241.3 L372.2,241.1 L377.0,241.3 L377.0,259.3 L372.2,259.0 L367.4,259.3 L362.6,260.4 L357.8,262.0 L354.0,263.4 L350.1,264.7 L346.3,266.1 L342.5,267.4 L338.6,268.7 L334.8,269.8 L330.9,270.9 L327.1,271.9 L323.3,272.8 L319.4,273.8 L315.6,274.7 L311.8,275.6 L307.9,276.5 L304.1,277.2 L300.2,277.8 L296.4,278.2 L292.6,278.4 L288.7,278.4 L284.9,278.4 L281.1,278.3 L277.2,278.2 L273.4,278.1 L269.6,277.9 L265.7,277.8 L261.9,277.8 L258.0,277.8 L254.2,277.8 L250.4,277.9 L246.5,278.1 L242.7,278.2 L238.8,278.3 L235.0,278.5 L231.2,278.6 L227.3,278.7 L223.5,278.9 Z" fill="rgba(0,0,0,0.065)" stroke="none"/>
<path d="M223.5,277.1 L227.3,275.1 L231.2,273.2 L235.0,271.2 L238.8,269.3 L242.7,267.3 L246.5,265.4 L250.4,263.6 L254.2,261.8 L258.0,260.0 L261.9,258.2 L265.7,256.5 L269.6,254.8 L273.4,253.0 L277.2,251.1 L281.1,249.1 L284.9,246.9 L288.7,244.6 L292.6,242.2 L296.4,239.9 L300.2,237.6 L304.1,235.4 L307.9,233.3 L311.8,231.2 L315.6,229.0 L319.4,226.6 L323.3,224.0 L327.1,221.2 L330.9,218.2 L334.8,215.2 L338.6,212.1 L342.5,209.1 L346.3,206.1 L350.1,203.1 L354.0,200.2 L357.8,197.4 L362.6,194.0 L367.4,191.2 L372.2,189.3 L377.0,188.0 L377.0,229.5 L372.2,230.5 L367.4,232.0 L362.6,234.4 L357.8,237.6 L354.0,240.3 L350.1,243.1 L346.3,245.8 L342.5,248.5 L338.6,251.0 L334.8,253.3 L330.9,255.3 L327.1,257.3 L323.3,259.1 L319.4,260.9 L315.6,262.7 L311.8,264.5 L307.9,266.2 L304.1,267.8 L300.2,269.2 L296.4,270.5 L292.6,271.6 L288.7,272.6 L284.9,273.5 L281.1,274.3 L277.2,275.0 L273.4,275.7 L269.6,276.2 L265.7,276.5 L261.9,276.7 L258.0,276.7 L254.2,276.5 L250.4,276.3 L246.5,276.2 L242.7,276.2 L238.8,276.4 L235.0,276.8 L231.2,277.4 L227.3,278.0 L223.5,278.7 Z" fill="rgba(0,0,255,0.065)" stroke="none"/>
<path d="M223.5,277.8 L227.3,277.5 L231.2,277.1 L235.0,276.8 L238.8,276.5 L242.7,276.2 L246.5,275.9 L250.4,275.7 L254.2,275.5 L258.0,275.4 L261.9,275.4 L265.7,275.5 L269.6,275.7 L273.4,276.0 L277.2,276.3 L281.1,276.6 L284.9,276.8 L288.7,277.0 L292.6,277.2 L296.4,277.3 L300.2,277.4 L304.1,277.4 L307.9,277.4 L311.8,277.2 L315.6,276.8 L319.4,276.2 L323.3,275.3 L327.1,274.2 L330.9,273.0 L334.8,271.6 L338.6,270.3 L342.5,269.0 L346.3,267.7 L350.1,266.4 L354.0,265.1 L357.8,263.9 L362.6,262.3 L367.4,261.4 L372.2,261.5 L377.0,262.2 L377.0,268.1 L372.2,267.4 L367.4,267.3 L362.6,268.3 L357.8,269.7 L354.0,271.0 L350.1,272.2 L346.3,273.3 L342.5,274.5 L338.6,275.6 L334.8,276.8 L330.9,277.9 L327.1,279.0 L323.3,279.8 L319.4,280.5 L315.6,280.8 L311.8,281.0 L307.9,281.0 L304.1,280.8 L300.2,280.6 L296.4,280.4 L292.6,280.1 L288.7,279.9 L284.9,279.6 L281.1,279.3 L277.2,278.9 L273.4,278.5 L269.6,278.1 L265.7,277.8 L261.9,277.5 L258.0,277.4 L254.2,277.4 L250.4,277.5 L246.5,277.6 L242.7,277.8 L238.8,278.0 L235.0,278.2 L231.2,278.4 L227.3,278.6 L223.5,278.9 Z" fill="rgba(255,0,0,0.065)" stroke="none"/>
<path d="M223.5,277.8 L227.3,277.9 L231.2,278.1 L235.0,278.2 L238.8,278.2 L242.7,278.2 L246.5,278.1 L250.4,277.9 L254.2,277.8 L258.0,277.6 L261.9,277.5 L265.7,277.5 L269.6,277.6 L273.4,277.7 L277.2,277.9 L281.1,278.1 L284.9,278.2 L288.7,278.3 L292.6,278.4 L296.4,278.4 L300.2,278.3 L304.1,278.2 L307.9,277.9 L311.8,277.4 L315.6,276.7 L319.4,275.6 L323.3,274.2 L327.1,272.5 L330.9,270.6 L334.8,268.6 L338.6,266.5 L342.5,264.6 L346.3,262.7 L350.1,261.0 L354.0,259.4 L357.8,258.0 L362.6,256.5 L367.4,255.5 L372.2,255.3 L377.0,255.5 L377.0,261.4 L372.2,261.2 L367.4,261.4 L362.6,262.4 L357.8,263.9 L354.0,265.2 L350.1,266.7 L346.3,268.4 L342.5,270.1 L338.6,271.9 L334.8,273.7 L330.9,275.6 L327.1,277.3 L323.3,278.7 L319.4,279.9 L315.6,280.8 L311.8,281.3 L307.9,281.5 L304.1,281.6 L300.2,281.5 L296.4,281.5 L292.6,281.3 L288.7,281.2 L284.9,281.0 L281.1,280.7 L277.2,280.5 L273.4,280.2 L269.6,280.0 L265.7,279.8 L261.9,279.7 L258.0,279.6 L254.2,279.7 L250.4,279.7 L246.5,279.8 L242.7,279.8 L238.8,279.7 L235.0,279.6 L231.2,279.4 L227.3,279.1 L223.5,278.9 Z" fill="rgba(0,255,0,0.09)" stroke="none"/>
<path d="M223.5,277.8 L227.3,277.4 L231.2,277.1 L235.0,276.7 L238.8,276.4 L242.7,276.0 L246.5,275.7 L250.4,275.4 L254.2,275.0 L258.0,274.7 L261.9,274.3 L265.7,273.9 L269.6,273.6 L273.4,273.3 L277.2,273.1 L281.1,273.0 L284.9,272.9 L288.7,272.8 L292.6,272.5 L296.4,271.8 L300.2,270.6 L304.1,268.6 L307.9,266.2 L311.8,263.6 L315.6,260.9 L319.4,258.5 L323.3,256.5 L327.1,254.9 L330.9,253.5 L334.8,252.3 L338.6,251.0 L342.5,249.6 L346.3,248.1 L350.1,246.6 L354.0,245.1 L357.8,243.8 L362.6,242.3 L367.4,241.3 L372.2,241.1 L377.0,241.3" fill="none" stroke="rgba(0,0,0,0.3)" stroke-width="0.6" stroke-dasharray="1.2,1.8"/>
<path d="M223.5,278.9 L227.3,278.7 L231.2,278.6 L235.0,278.5 L238.8,278.3 L242.7,278.2 L246.5,278.1 L250.4,277.9 L254.2,277.8 L258.0,277.8 L261.9,277.8 L265.7,277.8 L269.6,277.9 L273.4,278.1 L277.2,278.2 L281.1,278.3 L284.9,278.4 L288.7,278.4 L292.6,278.4 L296.4,278.2 L300.2,277.8 L304.1,277.2 L307.9,276.5 L311.8,275.6 L315.6,274.7 L319.4,273.8 L323.3,272.8 L327.1,271.9 L330.9,270.9 L334.8,269.8 L338.6,268.7 L342.5,267.4 L346.3,266.1 L350.1,264.7 L354.0,263.4 L357.8,262.0 L362.6,260.4 L367.4,259.3 L372.2,259.0 L377.0,259.3" fill="none" stroke="rgba(0,0,0,0.3)" stroke-width="0.6" stroke-dasharray="1.2,1.8"/>
<path d="M223.5,277.1 L227.3,275.1 L231.2,273.2 L235.0,271.2 L238.8,269.3 L242.7,267.3 L246.5,265.4 L250.4,263.6 L254.2,261.8 L258.0,260.0 L261.9,258.2 L265.7,256.5 L269.6,254.8 L273.4,253.0 L277.2,251.1 L281.1,249.1 L284.9,246.9 L288.7,244.6 L292.6,242.2 L296.4,239.9 L300.2,237.6 L304.1,235.4 L307.9,233.3 L311.8,231.2 L315.6,229.0 L319.4,226.6 L323.3,224.0 L327.1,221.2 L330.9,218.2 L334.8,215.2 L338.6,212.1 L342.5,209.1 L346.3,206.1 L350.1,203.1 L354.0,200.2 L357.8,197.4 L362.6,194.0 L367.4,191.2 L372.2,189.3 L377.0,188.0" fill="none" stroke="rgba(0,0,255,0.3)" stroke-width="0.6" stroke-dasharray="1.2,1.8"/>
<path d="M223.5,278.7 L227.3,278.0 L231.2,277.4 L235.0,276.8 L238.8,276.4 L242.7,276.2 L246.5,276.2 L250.4,276.3 L254.2,276.5 L258.0,276.7 L261.9,276.7 L265.7,276.5 L269.6,276.2 L273.4,275.7 L277.2,275.0 L281.1,274.3 L284.9,273.5 L288.7,272.6 L292.6,271.6 L296.4,270.5 L300.2,269.2 L304.1,267.8 L307.9,266.2 L311.8,264.5 L315.6,262.7 L319.4,260.9 L323.3,259.1 L327.1,257.3 L330.9,255.3 L334.8,253.3 L338.6,251.0 L342.5,248.5 L346.3,245.8 L350.1,243.1 L354.0,240.3 L357.8,237.6 L362.6,234.4 L367.4,232.0 L372.2,230.5 L377.0,229.5" fill="none" stroke="rgba(0,0,255,0.3)" stroke-width="0.6" stroke-dasharray="1.2,1.8"/>
<path d="M223.5,277.8 L227.3,277.5 L231.2,277.1 L235.0,276.8 L238.8,276.5 L242.7,276.2 L246.5,275.9 L250.4,275.7 L254.2,275.5 L258.0,275.4 L261.9,275.4 L265.7,275.5 L269.6,275.7 L273.4,276.0 L277.2,276.3 L281.1,276.6 L284.9,276.8 L288.7,277.0 L292.6,277.2 L296.4,277.3 L300.2,277.4 L304.1,277.4 L307.9,277.4 L311.8,277.2 L315.6,276.8 L319.4,276.2 L323.3,275.3 L327.1,274.2 L330.9,273.0 L334.8,271.6 L338.6,270.3 L342.5,269.0 L346.3,267.7 L350.1,266.4 L354.0,265.1 L357.8,263.9 L362.6,262.3 L367.4,261.4 L372.2,261.5 L377.0,262.2" fill="none" stroke="rgba(255,0,0,0.3)" stroke-width="0.6" stroke-dasharray="1.2,1.8"/>
<path d="M223.5,278.9 L227.3,278.6 L231.2,278.4 L235.0,278.2 L238.8,278.0 L242.7,277.8 L246.5,277.6 L250.4,277.5 L254.2,277.4 L258.0,277.4 L261.9,277.5 L265.7,277.8 L269.6,278.1 L273.4,278.5 L277.2,278.9 L281.1,279.3 L284.9,279.6 L288.7,279.9 L292.6,280.1 L296.4,280.4 L300.2,280.6 L304.1,280.8 L307.9,281.0 L311.8,281.0 L315.6,280.8 L319.4,280.5 L323.3,279.8 L327.1,279.0 L330.9,277.9 L334.8,276.8 L338.6,275.6 L342.5,274.5 L346.3,273.3 L350.1,272.2 L354.0,271.0 L357.8,269.7 L362.6,268.3 L367.4,267.3 L372.2,267.4 L377.0,268.1" fill="none" stroke="rgba(255,0,0,0.3)" stroke-width="0.6" stroke-dasharray="1.2,1.8"/>
<path d="M223.5,277.8 L227.3,277.9 L231.2,278.1 L235.0,278.2 L238.8,278.2 L242.7,278.2 L246.5,278.1 L250.4,277.9 L254.2,277.8 L258.0,277.6 L261.9,277.5 L265.7,277.5 L269.6,277.6 L273.4,277.7 L277.2,277.9 L281.1,278.1 L284.9,278.2 L288.7,278.3 L292.6,278.4 L296.4,278.4 L300.2,278.3 L304.1,278.2 L307.9,277.9 L311.8,277.4 L315.6,276.7 L319.4,275.6 L323.3,274.2 L327.1,272.5 L330.9,270.6 L334.8,268.6 L338.6,266.5 L342.5,264.6 L346.3,262.7 L350.1,261.0 L354.0,259.4 L357.8,258.0 L362.6,256.5 L367.4,255.5 L372.2,255.3 L377.0,255.5" fill="none" stroke="rgba(0,200,0,0.25)" stroke-width="0.6" stroke-dasharray="1.2,1.8"/>
<path d="M223.5,278.9 L227.3,279.1 L231.2,279.4 L235.0,279.6 L238.8,279.7 L242.7,279.8 L246.5,279.8 L250.4,279.7 L254.2,279.7 L258.0,279.6 L261.9,279.7 L265.7,279.8 L269.6,280.0 L273.4,280.2 L277.2,280.5 L281.1,280.7 L284.9,281.0 L288.7,281.2 L292.6,281.3 L296.4,281.5 L300.2,281.5 L304.1,281.6 L307.9,281.5 L311.8,281.3 L315.6,280.8 L319.4,279.9 L323.3,278.7 L327.1,277.3 L330.9,275.6 L334.8,273.7 L338.6,271.9 L342.5,270.1 L346.3,268.4 L350.1,266.7 L354.0,265.2 L357.8,263.9 L362.6,262.4 L367.4,261.4 L372.2,261.2 L377.0,261.4" fill="none" stroke="rgba(0,200,0,0.25)" stroke-width="0.6" stroke-dasharray="1.2,1.8"/>
<path d="M223.5,278.3 L227.3,278.1 L231.2,277.9 L235.0,277.8 L238.8,277.6 L242.7,277.4 L246.5,277.2 L250.4,277.0 L254.2,276.9 L258.0,276.8 L261.9,276.7 L265.7,276.7 L269.6,276.8 L273.4,276.8 L277.2,276.9 L281.1,277.0 L284.9,277.0 L288.7,277.0 L292.6,276.8 L296.4,276.5 L300.2,275.9 L304.1,275.1 L307.9,274.1 L311.8,273.0 L315.6,271.8 L319.4,270.6 L323.3,269.3 L327.1,268.1 L330.9,266.9 L334.8,265.7 L338.6,264.4 L342.5,263.0 L346.3,261.6 L350.1,260.1 L354.0,258.6 L357.8,257.2 L362.6,255.4 L367.4,254.2 L372.2,253.8 L377.0,253.9" fill="none" stroke="#2a2a2a" stroke-width="0.85" stroke-linejoin="round"/>
<path d="M223.5,277.9 L227.3,276.7 L231.2,275.6 L235.0,274.4 L238.8,273.3 L242.7,272.2 L246.5,271.1 L250.4,270.0 L254.2,269.0 L258.0,267.9 L261.9,266.8 L265.7,265.6 L269.6,264.4 L273.4,263.2 L277.2,261.9 L281.1,260.6 L284.9,259.3 L288.7,257.9 L292.6,256.5 L296.4,255.0 L300.2,253.4 L304.1,251.7 L307.9,249.9 L311.8,247.9 L315.6,245.9 L319.4,243.8 L323.3,241.5 L327.1,239.2 L330.9,236.8 L334.8,234.2 L338.6,231.4 L342.5,228.5 L346.3,225.6 L350.1,222.6 L354.0,219.7 L357.8,217.0 L362.6,213.9 L367.4,211.6 L372.2,210.1 L377.0,209.2" fill="none" stroke="#3a3aff" stroke-width="0.85" stroke-linejoin="round"/>
<path d="M223.5,278.3 L227.3,278.0 L231.2,277.8 L235.0,277.5 L238.8,277.2 L242.7,277.0 L246.5,276.8 L250.4,276.6 L254.2,276.4 L258.0,276.4 L261.9,276.4 L265.7,276.6 L269.6,276.9 L273.4,277.2 L277.2,277.6 L281.1,277.9 L284.9,278.2 L288.7,278.5 L292.6,278.7 L296.4,278.8 L300.2,279.0 L304.1,279.1 L307.9,279.2 L311.8,279.1 L315.6,278.8 L319.4,278.3 L323.3,277.6 L327.1,276.6 L330.9,275.5 L334.8,274.2 L338.6,273.0 L342.5,271.7 L346.3,270.5 L350.1,269.3 L354.0,268.0 L357.8,266.8 L362.6,265.3 L367.4,264.4 L372.2,264.5 L377.0,265.2" fill="none" stroke="#ff2a2a" stroke-width="0.85" stroke-linejoin="round"/>
<path d="M223.5,278.3 L227.3,278.5 L231.2,278.7 L235.0,278.9 L238.8,279.0 L242.7,279.0 L246.5,278.9 L250.4,278.8 L254.2,278.7 L258.0,278.6 L261.9,278.6 L265.7,278.7 L269.6,278.8 L273.4,279.0 L277.2,279.2 L281.1,279.4 L284.9,279.6 L288.7,279.7 L292.6,279.8 L296.4,279.9 L300.2,279.9 L304.1,279.9 L307.9,279.7 L311.8,279.3 L315.6,278.7 L319.4,277.8 L323.3,276.5 L327.1,274.9 L330.9,273.1 L334.8,271.2 L338.6,269.2 L342.5,267.3 L346.3,265.5 L350.1,263.9 L354.0,262.3 L357.8,260.9 L362.6,259.4 L367.4,258.5 L372.2,258.3 L377.0,258.5" fill="none" stroke="#22dd22" stroke-width="0.85" stroke-linejoin="round"/>
</g>
<line x1="228.50" y1="180.50" x2="242.50" y2="180.50" stroke="#2a2a2a" stroke-width="0.9"/>
<text x="243.80" y="182.70" font-size="5.72" text-anchor="start" fill="#262626" stroke="#262626" stroke-width="0.16">No application</text>
<line x1="228.50" y1="187.50" x2="242.50" y2="187.50" stroke="#3a3aff" stroke-width="0.9"/>
<text x="243.80" y="189.55" font-size="5.72" text-anchor="start" fill="#262626" stroke="#262626" stroke-width="0.16">Water application</text>
<line x1="228.50" y1="194.50" x2="242.50" y2="194.50" stroke="#ff2a2a" stroke-width="0.9"/>
<text x="243.80" y="196.40" font-size="5.72" text-anchor="start" fill="#262626" stroke="#262626" stroke-width="0.16">Rosin powder application</text>
<line x1="228.50" y1="201.50" x2="242.50" y2="201.50" stroke="#22dd22" stroke-width="0.9"/>
<text x="243.80" y="203.25" font-size="5.72" text-anchor="start" fill="#262626" stroke="#262626" stroke-width="0.16">Pine resin application</text>
<rect x="223.50" y="173.00" width="153.50" height="120.60" fill="none" stroke="#6a6a6a" stroke-width="1.0"/>
<line x1="223.50" y1="293.60" x2="223.50" y2="292.00" stroke="#404040" stroke-width="0.7"/>
<line x1="223.50" y1="173.00" x2="223.50" y2="174.60" stroke="#404040" stroke-width="0.7"/>
<text x="223.50" y="301.00" font-size="5.80" text-anchor="middle" fill="#262626" stroke="#262626" stroke-width="0.16">-8</text>
<line x1="242.69" y1="293.60" x2="242.69" y2="292.00" stroke="#404040" stroke-width="0.7"/>
<line x1="242.69" y1="173.00" x2="242.69" y2="174.60" stroke="#404040" stroke-width="0.7"/>
<text x="242.69" y="301.00" font-size="5.80" text-anchor="middle" fill="#262626" stroke="#262626" stroke-width="0.16">-7</text>
<line x1="261.88" y1="293.60" x2="261.88" y2="292.00" stroke="#404040" stroke-width="0.7"/>
<line x1="261.88" y1="173.00" x2="261.88" y2="174.60" stroke="#404040" stroke-width="0.7"/>
<text x="261.88" y="301.00" font-size="5.80" text-anchor="middle" fill="#262626" stroke="#262626" stroke-width="0.16">-6</text>
<line x1="281.06" y1="293.60" x2="281.06" y2="292.00" stroke="#404040" stroke-width="0.7"/>
<line x1="281.06" y1="173.00" x2="281.06" y2="174.60" stroke="#404040" stroke-width="0.7"/>
<text x="281.06" y="301.00" font-size="5.80" text-anchor="middle" fill="#262626" stroke="#262626" stroke-width="0.16">-5</text>
<line x1="300.25" y1="293.60" x2="300.25" y2="292.00" stroke="#404040" stroke-width="0.7"/>
<line x1="300.25" y1="173.00" x2="300.25" y2="174.60" stroke="#404040" stroke-width="0.7"/>
<text x="300.25" y="301.00" font-size="5.80" text-anchor="middle" fill="#262626" stroke="#262626" stroke-width="0.16">-4</text>
<line x1="319.44" y1="293.60" x2="319.44" y2="292.00" stroke="#404040" stroke-width="0.7"/>
<line x1="319.44" y1="173.00" x2="319.44" y2="174.60" stroke="#404040" stroke-width="0.7"/>
<text x="319.44" y="301.00" font-size="5.80" text-anchor="middle" fill="#262626" stroke="#262626" stroke-width="0.16">-3</text>
<line x1="338.62" y1="293.60" x2="338.62" y2="292.00" stroke="#404040" stroke-width="0.7"/>
<line x1="338.62" y1="173.00" x2="338.62" y2="174.60" stroke="#404040" stroke-width="0.7"/>
<text x="338.62" y="301.00" font-size="5.80" text-anchor="middle" fill="#262626" stroke="#262626" stroke-width="0.16">-2</text>
<line x1="357.81" y1="293.60" x2="357.81" y2="292.00" stroke="#404040" stroke-width="0.7"/>
<line x1="357.81" y1="173.00" x2="357.81" y2="174.60" stroke="#404040" stroke-width="0.7"/>
<text x="357.81" y="301.00" font-size="5.80" text-anchor="middle" fill="#262626" stroke="#262626" stroke-width="0.16">-1</text>
<line x1="377.00" y1="293.60" x2="377.00" y2="292.00" stroke="#404040" stroke-width="0.7"/>
<line x1="377.00" y1="173.00" x2="377.00" y2="174.60" stroke="#404040" stroke-width="0.7"/>
<text x="377.00" y="301.00" font-size="5.80" text-anchor="middle" fill="#262626" stroke="#262626" stroke-width="0.16">0</text>
<line x1="223.50" y1="293.60" x2="225.10" y2="293.60" stroke="#404040" stroke-width="0.7"/>
<line x1="377.00" y1="293.60" x2="375.40" y2="293.60" stroke="#404040" stroke-width="0.7"/>
<text x="221.00" y="295.70" font-size="5.80" text-anchor="end" fill="#262626" stroke="#262626" stroke-width="0.16">-5</text>
<line x1="223.50" y1="280.20" x2="225.10" y2="280.20" stroke="#404040" stroke-width="0.7"/>
<line x1="377.00" y1="280.20" x2="375.40" y2="280.20" stroke="#404040" stroke-width="0.7"/>
<text x="221.00" y="282.30" font-size="5.80" text-anchor="end" fill="#262626" stroke="#262626" stroke-width="0.16">0</text>
<line x1="223.50" y1="266.80" x2="225.10" y2="266.80" stroke="#404040" stroke-width="0.7"/>
<line x1="377.00" y1="266.80" x2="375.40" y2="266.80" stroke="#404040" stroke-width="0.7"/>
<text x="221.00" y="268.90" font-size="5.80" text-anchor="end" fill="#262626" stroke="#262626" stroke-width="0.16">5</text>
<line x1="223.50" y1="253.40" x2="225.10" y2="253.40" stroke="#404040" stroke-width="0.7"/>
<line x1="377.00" y1="253.40" x2="375.40" y2="253.40" stroke="#404040" stroke-width="0.7"/>
<text x="221.00" y="255.50" font-size="5.80" text-anchor="end" fill="#262626" stroke="#262626" stroke-width="0.16">10</text>
<line x1="223.50" y1="240.00" x2="225.10" y2="240.00" stroke="#404040" stroke-width="0.7"/>
<line x1="377.00" y1="240.00" x2="375.40" y2="240.00" stroke="#404040" stroke-width="0.7"/>
<text x="221.00" y="242.10" font-size="5.80" text-anchor="end" fill="#262626" stroke="#262626" stroke-width="0.16">15</text>
<line x1="223.50" y1="226.60" x2="225.10" y2="226.60" stroke="#404040" stroke-width="0.7"/>
<line x1="377.00" y1="226.60" x2="375.40" y2="226.60" stroke="#404040" stroke-width="0.7"/>
<text x="221.00" y="228.70" font-size="5.80" text-anchor="end" fill="#262626" stroke="#262626" stroke-width="0.16">20</text>
<line x1="223.50" y1="213.20" x2="225.10" y2="213.20" stroke="#404040" stroke-width="0.7"/>
<line x1="377.00" y1="213.20" x2="375.40" y2="213.20" stroke="#404040" stroke-width="0.7"/>
<text x="221.00" y="215.30" font-size="5.80" text-anchor="end" fill="#262626" stroke="#262626" stroke-width="0.16">25</text>
<line x1="223.50" y1="199.80" x2="225.10" y2="199.80" stroke="#404040" stroke-width="0.7"/>
<line x1="377.00" y1="199.80" x2="375.40" y2="199.80" stroke="#404040" stroke-width="0.7"/>
<text x="221.00" y="201.90" font-size="5.80" text-anchor="end" fill="#262626" stroke="#262626" stroke-width="0.16">30</text>
<line x1="223.50" y1="186.40" x2="225.10" y2="186.40" stroke="#404040" stroke-width="0.7"/>
<line x1="377.00" y1="186.40" x2="375.40" y2="186.40" stroke="#404040" stroke-width="0.7"/>
<text x="221.00" y="188.50" font-size="5.80" text-anchor="end" fill="#262626" stroke="#262626" stroke-width="0.16">35</text>
<line x1="223.50" y1="173.00" x2="225.10" y2="173.00" stroke="#404040" stroke-width="0.7"/>
<line x1="377.00" y1="173.00" x2="375.40" y2="173.00" stroke="#404040" stroke-width="0.7"/>
<text x="221.00" y="175.10" font-size="5.80" text-anchor="end" fill="#262626" stroke="#262626" stroke-width="0.16">40</text>
<text x="300.25" y="309.00" font-size="6.35" text-anchor="middle" fill="#262626" stroke="#262626" stroke-width="0.16">Time <tspan font-style="italic">t</tspan>, ms</text>
<text transform="translate(209.70,233.30) rotate(-90)" font-size="6.3" text-anchor="middle" fill="#262626" stroke="#262626" stroke-width="0.13">Slip distance <tspan font-style="italic">D</tspan><tspan font-size="4.6" dy="2.0">slip</tspan><tspan dy="-2.0">, mm</tspan></text>
<text x="370.20" y="187.60" font-size="13.00" text-anchor="end" fill="#111" stroke="#111" stroke-width="0.13">d</text>
<text x="378.60" y="162.30" font-size="7.00" text-anchor="middle" fill="#262626" stroke="#262626" stroke-width="0.13">Ball release</text>
<line x1="377.00" y1="164.00" x2="377.00" y2="170.00" stroke="#111" stroke-width="0.8"/>
<path d="M375.30,168.80 L378.70,168.80 L377.00,172.70 Z" fill="#111"/>
<line x1="40.50" y1="428.50" x2="193.40" y2="428.50" stroke="#888" stroke-width="0.8"/>
<clipPath id="clipe"><rect x="40.50" y="321.40" width="152.90" height="120.60"/></clipPath>
<g clip-path="url(#clipe)">
<path d="M40.5,427.7 L44.3,427.5 L48.1,427.3 L52.0,427.1 L55.8,426.9 L59.6,426.7 L63.4,426.5 L67.3,426.4 L71.1,426.2 L74.9,426.1 L78.7,425.9 L82.5,425.8 L86.4,425.7 L90.2,425.6 L94.0,425.5 L97.8,425.4 L101.7,425.3 L105.5,425.2 L109.3,425.1 L113.1,425.0 L117.0,424.8 L120.8,424.7 L124.6,424.4 L128.4,423.9 L132.2,423.2 L136.1,422.2 L139.9,420.7 L143.7,418.9 L147.5,416.9 L151.4,414.7 L155.2,412.5 L159.0,410.3 L162.8,408.2 L166.6,406.0 L170.5,403.9 L174.3,401.8 L179.1,399.2 L183.8,396.4 L188.6,393.5 L193.4,390.5 L193.4,400.7 L188.6,403.3 L183.8,405.6 L179.1,407.5 L174.3,409.3 L170.5,410.8 L166.6,412.5 L162.8,414.2 L159.0,416.0 L155.2,417.9 L151.4,419.8 L147.5,421.6 L143.7,423.3 L139.9,424.8 L136.1,425.9 L132.2,426.7 L128.4,427.2 L124.6,427.4 L120.8,427.5 L117.0,427.5 L113.1,427.5 L109.3,427.5 L105.5,427.5 L101.7,427.5 L97.8,427.5 L94.0,427.5 L90.2,427.5 L86.4,427.5 L82.5,427.5 L78.7,427.5 L74.9,427.6 L71.1,427.6 L67.3,427.7 L63.4,427.7 L59.6,427.8 L55.8,427.9 L52.0,428.0 L48.1,428.0 L44.3,428.1 L40.5,428.2 Z" fill="rgba(0,0,0,0.065)" stroke="none"/>
<path d="M40.5,427.6 L44.3,427.2 L48.1,426.7 L52.0,426.3 L55.8,425.8 L59.6,425.4 L63.4,424.9 L67.3,424.4 L71.1,423.8 L74.9,423.2 L78.7,422.4 L82.5,421.6 L86.4,420.6 L90.2,419.5 L94.0,418.4 L97.8,417.3 L101.7,416.3 L105.5,415.1 L109.3,414.0 L113.1,412.7 L117.0,411.2 L120.8,409.5 L124.6,407.6 L128.4,405.4 L132.2,403.1 L136.1,400.5 L139.9,397.6 L143.7,394.4 L147.5,391.0 L151.4,387.1 L155.2,382.8 L159.0,378.0 L162.8,372.9 L166.6,367.6 L170.5,362.3 L174.3,357.0 L179.1,350.9 L183.8,345.5 L188.6,341.2 L193.4,337.5 L193.4,376.1 L188.6,379.5 L183.8,383.0 L179.1,386.8 L174.3,390.5 L170.5,393.3 L166.6,396.0 L162.8,398.6 L159.0,401.1 L155.2,403.7 L151.4,406.3 L147.5,409.0 L143.7,411.5 L139.9,413.9 L136.1,416.0 L132.2,417.7 L128.4,419.2 L124.6,420.3 L120.8,421.2 L117.0,421.9 L113.1,422.5 L109.3,422.9 L105.5,423.3 L101.7,423.7 L97.8,424.0 L94.0,424.4 L90.2,424.8 L86.4,425.2 L82.5,425.6 L78.7,425.9 L74.9,426.2 L71.1,426.5 L67.3,426.8 L63.4,427.0 L59.6,427.3 L55.8,427.5 L52.0,427.7 L48.1,427.8 L44.3,428.0 L40.5,428.2 Z" fill="rgba(0,0,255,0.065)" stroke="none"/>
<path d="M40.5,427.7 L44.3,427.5 L48.1,427.3 L52.0,427.0 L55.8,426.8 L59.6,426.6 L63.4,426.3 L67.3,426.1 L71.1,425.9 L74.9,425.7 L78.7,425.5 L82.5,425.4 L86.4,425.4 L90.2,425.4 L94.0,425.4 L97.8,425.4 L101.7,425.4 L105.5,425.4 L109.3,425.4 L113.1,425.4 L117.0,425.4 L120.8,425.4 L124.6,425.3 L128.4,425.1 L132.2,424.7 L136.1,424.0 L139.9,423.0 L143.7,421.8 L147.5,420.3 L151.4,418.7 L155.2,417.1 L159.0,415.4 L162.8,413.8 L166.6,412.1 L170.5,410.4 L174.3,408.5 L179.1,406.1 L183.8,403.9 L188.6,402.5 L193.4,401.5 L193.4,406.9 L188.6,407.9 L183.8,409.3 L179.1,411.2 L174.3,413.3 L170.5,415.0 L166.6,416.5 L162.8,418.0 L159.0,419.4 L155.2,420.8 L151.4,422.2 L147.5,423.6 L143.7,424.8 L139.9,425.9 L136.1,426.7 L132.2,427.3 L128.4,427.6 L124.6,427.7 L120.8,427.6 L117.0,427.5 L113.1,427.4 L109.3,427.3 L105.5,427.2 L101.7,427.1 L97.8,427.0 L94.0,427.0 L90.2,427.0 L86.4,427.0 L82.5,427.0 L78.7,427.1 L74.9,427.2 L71.1,427.3 L67.3,427.4 L63.4,427.5 L59.6,427.7 L55.8,427.8 L52.0,427.9 L48.1,428.0 L44.3,428.1 L40.5,428.2 Z" fill="rgba(255,0,0,0.065)" stroke="none"/>
<path d="M40.5,427.7 L44.3,427.6 L48.1,427.5 L52.0,427.4 L55.8,427.2 L59.6,427.1 L63.4,427.0 L67.3,426.9 L71.1,426.8 L74.9,426.7 L78.7,426.6 L82.5,426.6 L86.4,426.6 L90.2,426.5 L94.0,426.5 L97.8,426.5 L101.7,426.3 L105.5,426.2 L109.3,426.1 L113.1,426.0 L117.0,425.9 L120.8,426.0 L124.6,426.0 L128.4,425.8 L132.2,425.4 L136.1,424.6 L139.9,423.3 L143.7,421.6 L147.5,419.7 L151.4,417.6 L155.2,415.5 L159.0,413.4 L162.8,411.5 L166.6,409.5 L170.5,407.6 L174.3,405.6 L179.1,403.0 L183.8,400.7 L188.6,399.2 L193.4,398.0 L193.4,405.6 L188.6,406.4 L183.8,407.7 L179.1,409.7 L174.3,412.0 L170.5,413.7 L166.6,415.4 L162.8,417.0 L159.0,418.6 L155.2,420.3 L151.4,422.1 L147.5,423.8 L143.7,425.4 L139.9,426.8 L136.1,427.8 L132.2,428.3 L128.4,428.5 L124.6,428.5 L120.8,428.3 L117.0,428.1 L113.1,427.9 L109.3,427.9 L105.5,427.9 L101.7,428.0 L97.8,428.1 L94.0,428.1 L90.2,428.2 L86.4,428.2 L82.5,428.2 L78.7,428.2 L74.9,428.2 L71.1,428.2 L67.3,428.2 L63.4,428.2 L59.6,428.2 L55.8,428.2 L52.0,428.2 L48.1,428.2 L44.3,428.2 L40.5,428.2 Z" fill="rgba(0,255,0,0.09)" stroke="none"/>
<path d="M40.5,427.7 L44.3,427.5 L48.1,427.3 L52.0,427.1 L55.8,426.9 L59.6,426.7 L63.4,426.5 L67.3,426.4 L71.1,426.2 L74.9,426.1 L78.7,425.9 L82.5,425.8 L86.4,425.7 L90.2,425.6 L94.0,425.5 L97.8,425.4 L101.7,425.3 L105.5,425.2 L109.3,425.1 L113.1,425.0 L117.0,424.8 L120.8,424.7 L124.6,424.4 L128.4,423.9 L132.2,423.2 L136.1,422.2 L139.9,420.7 L143.7,418.9 L147.5,416.9 L151.4,414.7 L155.2,412.5 L159.0,410.3 L162.8,408.2 L166.6,406.0 L170.5,403.9 L174.3,401.8 L179.1,399.2 L183.8,396.4 L188.6,393.5 L193.4,390.5" fill="none" stroke="rgba(0,0,0,0.3)" stroke-width="0.6" stroke-dasharray="1.2,1.8"/>
<path d="M40.5,428.2 L44.3,428.1 L48.1,428.0 L52.0,428.0 L55.8,427.9 L59.6,427.8 L63.4,427.7 L67.3,427.7 L71.1,427.6 L74.9,427.6 L78.7,427.5 L82.5,427.5 L86.4,427.5 L90.2,427.5 L94.0,427.5 L97.8,427.5 L101.7,427.5 L105.5,427.5 L109.3,427.5 L113.1,427.5 L117.0,427.5 L120.8,427.5 L124.6,427.4 L128.4,427.2 L132.2,426.7 L136.1,425.9 L139.9,424.8 L143.7,423.3 L147.5,421.6 L151.4,419.8 L155.2,417.9 L159.0,416.0 L162.8,414.2 L166.6,412.5 L170.5,410.8 L174.3,409.3 L179.1,407.5 L183.8,405.6 L188.6,403.3 L193.4,400.7" fill="none" stroke="rgba(0,0,0,0.3)" stroke-width="0.6" stroke-dasharray="1.2,1.8"/>
<path d="M40.5,427.6 L44.3,427.2 L48.1,426.7 L52.0,426.3 L55.8,425.8 L59.6,425.4 L63.4,424.9 L67.3,424.4 L71.1,423.8 L74.9,423.2 L78.7,422.4 L82.5,421.6 L86.4,420.6 L90.2,419.5 L94.0,418.4 L97.8,417.3 L101.7,416.3 L105.5,415.1 L109.3,414.0 L113.1,412.7 L117.0,411.2 L120.8,409.5 L124.6,407.6 L128.4,405.4 L132.2,403.1 L136.1,400.5 L139.9,397.6 L143.7,394.4 L147.5,391.0 L151.4,387.1 L155.2,382.8 L159.0,378.0 L162.8,372.9 L166.6,367.6 L170.5,362.3 L174.3,357.0 L179.1,350.9 L183.8,345.5 L188.6,341.2 L193.4,337.5" fill="none" stroke="rgba(0,0,255,0.3)" stroke-width="0.6" stroke-dasharray="1.2,1.8"/>
<path d="M40.5,428.2 L44.3,428.0 L48.1,427.8 L52.0,427.7 L55.8,427.5 L59.6,427.3 L63.4,427.0 L67.3,426.8 L71.1,426.5 L74.9,426.2 L78.7,425.9 L82.5,425.6 L86.4,425.2 L90.2,424.8 L94.0,424.4 L97.8,424.0 L101.7,423.7 L105.5,423.3 L109.3,422.9 L113.1,422.5 L117.0,421.9 L120.8,421.2 L124.6,420.3 L128.4,419.2 L132.2,417.7 L136.1,416.0 L139.9,413.9 L143.7,411.5 L147.5,409.0 L151.4,406.3 L155.2,403.7 L159.0,401.1 L162.8,398.6 L166.6,396.0 L170.5,393.3 L174.3,390.5 L179.1,386.8 L183.8,383.0 L188.6,379.5 L193.4,376.1" fill="none" stroke="rgba(0,0,255,0.3)" stroke-width="0.6" stroke-dasharray="1.2,1.8"/>
<path d="M40.5,427.7 L44.3,427.5 L48.1,427.3 L52.0,427.0 L55.8,426.8 L59.6,426.6 L63.4,426.3 L67.3,426.1 L71.1,425.9 L74.9,425.7 L78.7,425.5 L82.5,425.4 L86.4,425.4 L90.2,425.4 L94.0,425.4 L97.8,425.4 L101.7,425.4 L105.5,425.4 L109.3,425.4 L113.1,425.4 L117.0,425.4 L120.8,425.4 L124.6,425.3 L128.4,425.1 L132.2,424.7 L136.1,424.0 L139.9,423.0 L143.7,421.8 L147.5,420.3 L151.4,418.7 L155.2,417.1 L159.0,415.4 L162.8,413.8 L166.6,412.1 L170.5,410.4 L174.3,408.5 L179.1,406.1 L183.8,403.9 L188.6,402.5 L193.4,401.5" fill="none" stroke="rgba(255,0,0,0.3)" stroke-width="0.6" stroke-dasharray="1.2,1.8"/>
<path d="M40.5,428.2 L44.3,428.1 L48.1,428.0 L52.0,427.9 L55.8,427.8 L59.6,427.7 L63.4,427.5 L67.3,427.4 L71.1,427.3 L74.9,427.2 L78.7,427.1 L82.5,427.0 L86.4,427.0 L90.2,427.0 L94.0,427.0 L97.8,427.0 L101.7,427.1 L105.5,427.2 L109.3,427.3 L113.1,427.4 L117.0,427.5 L120.8,427.6 L124.6,427.7 L128.4,427.6 L132.2,427.3 L136.1,426.7 L139.9,425.9 L143.7,424.8 L147.5,423.6 L151.4,422.2 L155.2,420.8 L159.0,419.4 L162.8,418.0 L166.6,416.5 L170.5,415.0 L174.3,413.3 L179.1,411.2 L183.8,409.3 L188.6,407.9 L193.4,406.9" fill="none" stroke="rgba(255,0,0,0.3)" stroke-width="0.6" stroke-dasharray="1.2,1.8"/>
<path d="M40.5,427.7 L44.3,427.6 L48.1,427.5 L52.0,427.4 L55.8,427.2 L59.6,427.1 L63.4,427.0 L67.3,426.9 L71.1,426.8 L74.9,426.7 L78.7,426.6 L82.5,426.6 L86.4,426.6 L90.2,426.5 L94.0,426.5 L97.8,426.5 L101.7,426.3 L105.5,426.2 L109.3,426.1 L113.1,426.0 L117.0,425.9 L120.8,426.0 L124.6,426.0 L128.4,425.8 L132.2,425.4 L136.1,424.6 L139.9,423.3 L143.7,421.6 L147.5,419.7 L151.4,417.6 L155.2,415.5 L159.0,413.4 L162.8,411.5 L166.6,409.5 L170.5,407.6 L174.3,405.6 L179.1,403.0 L183.8,400.7 L188.6,399.2 L193.4,398.0" fill="none" stroke="rgba(0,200,0,0.25)" stroke-width="0.6" stroke-dasharray="1.2,1.8"/>
<path d="M40.5,428.2 L44.3,428.2 L48.1,428.2 L52.0,428.2 L55.8,428.2 L59.6,428.2 L63.4,428.2 L67.3,428.2 L71.1,428.2 L74.9,428.2 L78.7,428.2 L82.5,428.2 L86.4,428.2 L90.2,428.2 L94.0,428.1 L97.8,428.1 L101.7,428.0 L105.5,427.9 L109.3,427.9 L113.1,427.9 L117.0,428.1 L120.8,428.3 L124.6,428.5 L128.4,428.5 L132.2,428.3 L136.1,427.8 L139.9,426.8 L143.7,425.4 L147.5,423.8 L151.4,422.1 L155.2,420.3 L159.0,418.6 L162.8,417.0 L166.6,415.4 L170.5,413.7 L174.3,412.0 L179.1,409.7 L183.8,407.7 L188.6,406.4 L193.4,405.6" fill="none" stroke="rgba(0,200,0,0.25)" stroke-width="0.6" stroke-dasharray="1.2,1.8"/>
<path d="M40.5,427.9 L44.3,427.8 L48.1,427.7 L52.0,427.5 L55.8,427.4 L59.6,427.3 L63.4,427.1 L67.3,427.0 L71.1,426.9 L74.9,426.8 L78.7,426.7 L82.5,426.7 L86.4,426.6 L90.2,426.5 L94.0,426.5 L97.8,426.5 L101.7,426.4 L105.5,426.4 L109.3,426.3 L113.1,426.3 L117.0,426.2 L120.8,426.1 L124.6,425.9 L128.4,425.6 L132.2,425.0 L136.1,424.0 L139.9,422.7 L143.7,421.1 L147.5,419.2 L151.4,417.3 L155.2,415.2 L159.0,413.2 L162.8,411.2 L166.6,409.3 L170.5,407.4 L174.3,405.6 L179.1,403.3 L183.8,401.0 L188.6,398.4 L193.4,395.6" fill="none" stroke="#2a2a2a" stroke-width="0.85" stroke-linejoin="round"/>
<path d="M40.5,427.9 L44.3,427.6 L48.1,427.3 L52.0,427.1 L55.8,426.8 L59.6,426.5 L63.4,426.1 L67.3,425.8 L71.1,425.4 L74.9,425.0 L78.7,424.6 L82.5,424.1 L86.4,423.6 L90.2,423.0 L94.0,422.3 L97.8,421.6 L101.7,420.9 L105.5,420.0 L109.3,419.0 L113.1,417.8 L117.0,416.5 L120.8,415.0 L124.6,413.4 L128.4,411.5 L132.2,409.6 L136.1,407.4 L139.9,405.2 L143.7,402.8 L147.5,400.2 L151.4,397.3 L155.2,394.3 L159.0,391.0 L162.8,387.4 L166.6,383.7 L170.5,379.8 L174.3,375.8 L179.1,370.7 L183.8,365.6 L188.6,360.6 L193.4,355.7" fill="none" stroke="#3a3aff" stroke-width="0.85" stroke-linejoin="round"/>
<path d="M40.5,427.9 L44.3,427.8 L48.1,427.6 L52.0,427.5 L55.8,427.3 L59.6,427.1 L63.4,426.9 L67.3,426.8 L71.1,426.6 L74.9,426.4 L78.7,426.3 L82.5,426.2 L86.4,426.2 L90.2,426.2 L94.0,426.2 L97.8,426.2 L101.7,426.2 L105.5,426.3 L109.3,426.3 L113.1,426.4 L117.0,426.5 L120.8,426.5 L124.6,426.5 L128.4,426.3 L132.2,426.0 L136.1,425.4 L139.9,424.5 L143.7,423.3 L147.5,422.0 L151.4,420.5 L155.2,419.0 L159.0,417.4 L162.8,415.9 L166.6,414.3 L170.5,412.7 L174.3,410.9 L179.1,408.6 L183.8,406.6 L188.6,405.2 L193.4,404.2" fill="none" stroke="#ff2a2a" stroke-width="0.85" stroke-linejoin="round"/>
<path d="M40.5,427.9 L44.3,427.9 L48.1,427.8 L52.0,427.8 L55.8,427.7 L59.6,427.7 L63.4,427.6 L67.3,427.5 L71.1,427.5 L74.9,427.4 L78.7,427.4 L82.5,427.4 L86.4,427.4 L90.2,427.3 L94.0,427.3 L97.8,427.3 L101.7,427.2 L105.5,427.1 L109.3,427.0 L113.1,427.0 L117.0,427.0 L120.8,427.1 L124.6,427.2 L128.4,427.2 L132.2,426.9 L136.1,426.2 L139.9,425.0 L143.7,423.5 L147.5,421.7 L151.4,419.8 L155.2,417.9 L159.0,416.0 L162.8,414.2 L166.6,412.5 L170.5,410.7 L174.3,408.8 L179.1,406.3 L183.8,404.2 L188.6,402.8 L193.4,401.8" fill="none" stroke="#22dd22" stroke-width="0.85" stroke-linejoin="round"/>
</g>
<line x1="45.50" y1="329.50" x2="59.50" y2="329.50" stroke="#2a2a2a" stroke-width="0.9"/>
<text x="60.80" y="331.10" font-size="5.72" text-anchor="start" fill="#262626" stroke="#262626" stroke-width="0.16">No application</text>
<line x1="45.50" y1="335.50" x2="59.50" y2="335.50" stroke="#3a3aff" stroke-width="0.9"/>
<text x="60.80" y="337.95" font-size="5.72" text-anchor="start" fill="#262626" stroke="#262626" stroke-width="0.16">Water application</text>
<line x1="45.50" y1="342.50" x2="59.50" y2="342.50" stroke="#ff2a2a" stroke-width="0.9"/>
<text x="60.80" y="344.80" font-size="5.72" text-anchor="start" fill="#262626" stroke="#262626" stroke-width="0.16">Rosin powder application</text>
<line x1="45.50" y1="349.50" x2="59.50" y2="349.50" stroke="#22dd22" stroke-width="0.9"/>
<text x="60.80" y="351.65" font-size="5.72" text-anchor="start" fill="#262626" stroke="#262626" stroke-width="0.16">Pine resin application</text>
<rect x="40.50" y="321.40" width="152.90" height="120.60" fill="none" stroke="#6a6a6a" stroke-width="1.0"/>
<line x1="40.50" y1="442.00" x2="40.50" y2="440.40" stroke="#404040" stroke-width="0.7"/>
<line x1="40.50" y1="321.40" x2="40.50" y2="323.00" stroke="#404040" stroke-width="0.7"/>
<text x="40.50" y="449.40" font-size="5.80" text-anchor="middle" fill="#262626" stroke="#262626" stroke-width="0.16">-8</text>
<line x1="59.61" y1="442.00" x2="59.61" y2="440.40" stroke="#404040" stroke-width="0.7"/>
<line x1="59.61" y1="321.40" x2="59.61" y2="323.00" stroke="#404040" stroke-width="0.7"/>
<text x="59.61" y="449.40" font-size="5.80" text-anchor="middle" fill="#262626" stroke="#262626" stroke-width="0.16">-7</text>
<line x1="78.72" y1="442.00" x2="78.72" y2="440.40" stroke="#404040" stroke-width="0.7"/>
<line x1="78.72" y1="321.40" x2="78.72" y2="323.00" stroke="#404040" stroke-width="0.7"/>
<text x="78.72" y="449.40" font-size="5.80" text-anchor="middle" fill="#262626" stroke="#262626" stroke-width="0.16">-6</text>
<line x1="97.84" y1="442.00" x2="97.84" y2="440.40" stroke="#404040" stroke-width="0.7"/>
<line x1="97.84" y1="321.40" x2="97.84" y2="323.00" stroke="#404040" stroke-width="0.7"/>
<text x="97.84" y="449.40" font-size="5.80" text-anchor="middle" fill="#262626" stroke="#262626" stroke-width="0.16">-5</text>
<line x1="116.95" y1="442.00" x2="116.95" y2="440.40" stroke="#404040" stroke-width="0.7"/>
<line x1="116.95" y1="321.40" x2="116.95" y2="323.00" stroke="#404040" stroke-width="0.7"/>
<text x="116.95" y="449.40" font-size="5.80" text-anchor="middle" fill="#262626" stroke="#262626" stroke-width="0.16">-4</text>
<line x1="136.06" y1="442.00" x2="136.06" y2="440.40" stroke="#404040" stroke-width="0.7"/>
<line x1="136.06" y1="321.40" x2="136.06" y2="323.00" stroke="#404040" stroke-width="0.7"/>
<text x="136.06" y="449.40" font-size="5.80" text-anchor="middle" fill="#262626" stroke="#262626" stroke-width="0.16">-3</text>
<line x1="155.18" y1="442.00" x2="155.18" y2="440.40" stroke="#404040" stroke-width="0.7"/>
<line x1="155.18" y1="321.40" x2="155.18" y2="323.00" stroke="#404040" stroke-width="0.7"/>
<text x="155.18" y="449.40" font-size="5.80" text-anchor="middle" fill="#262626" stroke="#262626" stroke-width="0.16">-2</text>
<line x1="174.29" y1="442.00" x2="174.29" y2="440.40" stroke="#404040" stroke-width="0.7"/>
<line x1="174.29" y1="321.40" x2="174.29" y2="323.00" stroke="#404040" stroke-width="0.7"/>
<text x="174.29" y="449.40" font-size="5.80" text-anchor="middle" fill="#262626" stroke="#262626" stroke-width="0.16">-1</text>
<line x1="193.40" y1="442.00" x2="193.40" y2="440.40" stroke="#404040" stroke-width="0.7"/>
<line x1="193.40" y1="321.40" x2="193.40" y2="323.00" stroke="#404040" stroke-width="0.7"/>
<text x="193.40" y="449.40" font-size="5.80" text-anchor="middle" fill="#262626" stroke="#262626" stroke-width="0.16">0</text>
<line x1="40.50" y1="442.00" x2="42.10" y2="442.00" stroke="#404040" stroke-width="0.7"/>
<line x1="193.40" y1="442.00" x2="191.80" y2="442.00" stroke="#404040" stroke-width="0.7"/>
<text x="38.00" y="444.10" font-size="5.80" text-anchor="end" fill="#262626" stroke="#262626" stroke-width="0.16">-5</text>
<line x1="40.50" y1="428.60" x2="42.10" y2="428.60" stroke="#404040" stroke-width="0.7"/>
<line x1="193.40" y1="428.60" x2="191.80" y2="428.60" stroke="#404040" stroke-width="0.7"/>
<text x="38.00" y="430.70" font-size="5.80" text-anchor="end" fill="#262626" stroke="#262626" stroke-width="0.16">0</text>
<line x1="40.50" y1="415.20" x2="42.10" y2="415.20" stroke="#404040" stroke-width="0.7"/>
<line x1="193.40" y1="415.20" x2="191.80" y2="415.20" stroke="#404040" stroke-width="0.7"/>
<text x="38.00" y="417.30" font-size="5.80" text-anchor="end" fill="#262626" stroke="#262626" stroke-width="0.16">5</text>
<line x1="40.50" y1="401.80" x2="42.10" y2="401.80" stroke="#404040" stroke-width="0.7"/>
<line x1="193.40" y1="401.80" x2="191.80" y2="401.80" stroke="#404040" stroke-width="0.7"/>
<text x="38.00" y="403.90" font-size="5.80" text-anchor="end" fill="#262626" stroke="#262626" stroke-width="0.16">10</text>
<line x1="40.50" y1="388.40" x2="42.10" y2="388.40" stroke="#404040" stroke-width="0.7"/>
<line x1="193.40" y1="388.40" x2="191.80" y2="388.40" stroke="#404040" stroke-width="0.7"/>
<text x="38.00" y="390.50" font-size="5.80" text-anchor="end" fill="#262626" stroke="#262626" stroke-width="0.16">15</text>
<line x1="40.50" y1="375.00" x2="42.10" y2="375.00" stroke="#404040" stroke-width="0.7"/>
<line x1="193.40" y1="375.00" x2="191.80" y2="375.00" stroke="#404040" stroke-width="0.7"/>
<text x="38.00" y="377.10" font-size="5.80" text-anchor="end" fill="#262626" stroke="#262626" stroke-width="0.16">20</text>
<line x1="40.50" y1="361.60" x2="42.10" y2="361.60" stroke="#404040" stroke-width="0.7"/>
<line x1="193.40" y1="361.60" x2="191.80" y2="361.60" stroke="#404040" stroke-width="0.7"/>
<text x="38.00" y="363.70" font-size="5.80" text-anchor="end" fill="#262626" stroke="#262626" stroke-width="0.16">25</text>
<line x1="40.50" y1="348.20" x2="42.10" y2="348.20" stroke="#404040" stroke-width="0.7"/>
<line x1="193.40" y1="348.20" x2="191.80" y2="348.20" stroke="#404040" stroke-width="0.7"/>
<text x="38.00" y="350.30" font-size="5.80" text-anchor="end" fill="#262626" stroke="#262626" stroke-width="0.16">30</text>
<line x1="40.50" y1="334.80" x2="42.10" y2="334.80" stroke="#404040" stroke-width="0.7"/>
<line x1="193.40" y1="334.80" x2="191.80" y2="334.80" stroke="#404040" stroke-width="0.7"/>
<text x="38.00" y="336.90" font-size="5.80" text-anchor="end" fill="#262626" stroke="#262626" stroke-width="0.16">35</text>
<line x1="40.50" y1="321.40" x2="42.10" y2="321.40" stroke="#404040" stroke-width="0.7"/>
<line x1="193.40" y1="321.40" x2="191.80" y2="321.40" stroke="#404040" stroke-width="0.7"/>
<text x="38.00" y="323.50" font-size="5.80" text-anchor="end" fill="#262626" stroke="#262626" stroke-width="0.16">40</text>
<text x="116.95" y="457.40" font-size="6.35" text-anchor="middle" fill="#262626" stroke="#262626" stroke-width="0.16">Time <tspan font-style="italic">t</tspan>, ms</text>
<text transform="translate(26.70,381.70) rotate(-90)" font-size="6.3" text-anchor="middle" fill="#262626" stroke="#262626" stroke-width="0.13">Slip distance <tspan font-style="italic">D</tspan><tspan font-size="4.6" dy="2.0">slip</tspan><tspan dy="-2.0">, mm</tspan></text>
<text x="186.60" y="336.00" font-size="13.00" text-anchor="end" fill="#111" stroke="#111" stroke-width="0.13">e</text>
<text x="195.00" y="310.70" font-size="7.00" text-anchor="middle" fill="#262626" stroke="#262626" stroke-width="0.13">Ball release</text>
<line x1="193.40" y1="312.40" x2="193.40" y2="318.40" stroke="#111" stroke-width="0.8"/>
<path d="M191.70,317.20 L195.10,317.20 L193.40,321.10 Z" fill="#111"/>
<line x1="223.50" y1="428.50" x2="377.00" y2="428.50" stroke="#888" stroke-width="0.8"/>
<clipPath id="clipf"><rect x="223.50" y="321.50" width="153.50" height="120.00"/></clipPath>
<g clip-path="url(#clipf)">
<path d="M223.5,427.9 L227.3,427.8 L231.2,427.6 L235.0,427.5 L238.8,427.4 L242.7,427.2 L246.5,427.1 L250.4,426.9 L254.2,426.8 L258.0,426.7 L261.9,426.7 L265.7,426.7 L269.6,426.8 L273.4,426.9 L277.2,427.1 L281.1,427.4 L284.9,427.6 L288.7,427.9 L292.6,428.1 L296.4,428.3 L300.2,428.3 L304.1,428.2 L307.9,427.8 L311.8,427.3 L315.6,426.5 L319.4,425.5 L323.3,424.2 L327.1,422.7 L330.9,421.0 L334.8,419.1 L338.6,417.0 L342.5,414.7 L346.3,412.3 L350.1,409.9 L354.0,407.4 L357.8,405.0 L362.6,402.1 L367.4,399.9 L372.2,398.6 L377.0,397.8 L377.0,404.7 L372.2,405.5 L367.4,406.8 L362.6,408.9 L357.8,411.4 L354.0,413.5 L350.1,415.7 L346.3,417.8 L342.5,419.8 L338.6,421.8 L334.8,423.5 L330.9,425.1 L327.1,426.5 L323.3,427.7 L319.4,428.7 L315.6,429.4 L311.8,430.0 L307.9,430.3 L304.1,430.5 L300.2,430.4 L296.4,430.3 L292.6,430.0 L288.7,429.6 L284.9,429.3 L281.1,429.0 L277.2,428.7 L273.4,428.5 L269.6,428.4 L265.7,428.3 L261.9,428.3 L258.0,428.3 L254.2,428.3 L250.4,428.3 L246.5,428.3 L242.7,428.3 L238.8,428.3 L235.0,428.3 L231.2,428.4 L227.3,428.4 L223.5,428.4 Z" fill="rgba(0,0,0,0.065)" stroke="none"/>
<path d="M223.5,427.9 L227.3,427.6 L231.2,427.3 L235.0,427.0 L238.8,426.8 L242.7,426.6 L246.5,426.4 L250.4,426.3 L254.2,426.2 L258.0,426.2 L261.9,426.2 L265.7,426.1 L269.6,426.1 L273.4,426.1 L277.2,426.2 L281.1,426.2 L284.9,426.3 L288.7,426.4 L292.6,426.5 L296.4,426.4 L300.2,426.3 L304.1,426.0 L307.9,425.5 L311.8,424.9 L315.6,424.1 L319.4,423.1 L323.3,421.9 L327.1,420.5 L330.9,418.9 L334.8,416.8 L338.6,414.3 L342.5,411.4 L346.3,408.1 L350.1,404.7 L354.0,401.4 L357.8,398.3 L362.6,395.0 L367.4,392.4 L372.2,390.5 L377.0,389.0 L377.0,404.2 L372.2,404.0 L367.4,404.7 L362.6,406.7 L357.8,409.5 L354.0,412.0 L350.1,414.5 L346.3,417.0 L342.5,419.3 L338.6,421.5 L334.8,423.4 L330.9,425.1 L327.1,426.4 L323.3,427.6 L319.4,428.4 L315.6,429.1 L311.8,429.5 L307.9,429.7 L304.1,429.8 L300.2,429.8 L296.4,429.7 L292.6,429.5 L288.7,429.3 L284.9,429.1 L281.1,428.9 L277.2,428.7 L273.4,428.5 L269.6,428.3 L265.7,428.2 L261.9,428.0 L258.0,427.9 L254.2,427.9 L250.4,427.9 L246.5,427.9 L242.7,427.9 L238.8,428.0 L235.0,428.1 L231.2,428.2 L227.3,428.3 L223.5,428.4 Z" fill="rgba(0,0,255,0.065)" stroke="none"/>
<path d="M223.5,427.9 L227.3,427.8 L231.2,427.7 L235.0,427.6 L238.8,427.5 L242.7,427.4 L246.5,427.3 L250.4,427.2 L254.2,427.2 L258.0,427.1 L261.9,427.1 L265.7,427.1 L269.6,427.1 L273.4,427.2 L277.2,427.4 L281.1,427.6 L284.9,428.0 L288.7,428.5 L292.6,428.9 L296.4,429.3 L300.2,429.6 L304.1,429.8 L307.9,429.7 L311.8,429.4 L315.6,429.0 L319.4,428.3 L323.3,427.4 L327.1,426.4 L330.9,425.2 L334.8,424.0 L338.6,422.8 L342.5,421.7 L346.3,420.7 L350.1,419.6 L354.0,418.5 L357.8,417.2 L362.6,415.6 L367.4,414.3 L372.2,413.8 L377.0,413.8 L377.0,417.0 L372.2,417.0 L367.4,417.5 L362.6,418.8 L357.8,420.4 L354.0,421.6 L350.1,422.6 L346.3,423.6 L342.5,424.5 L338.6,425.5 L334.8,426.6 L330.9,427.6 L327.1,428.7 L323.3,429.7 L319.4,430.4 L315.6,431.0 L311.8,431.3 L307.9,431.5 L304.1,431.4 L300.2,431.2 L296.4,430.9 L292.6,430.5 L288.7,430.1 L284.9,429.6 L281.1,429.2 L277.2,428.9 L273.4,428.6 L269.6,428.4 L265.7,428.2 L261.9,428.2 L258.0,428.2 L254.2,428.2 L250.4,428.3 L246.5,428.4 L242.7,428.4 L238.8,428.5 L235.0,428.5 L231.2,428.5 L227.3,428.5 L223.5,428.4 Z" fill="rgba(255,0,0,0.065)" stroke="none"/>
<path d="M223.5,427.9 L227.3,427.8 L231.2,427.8 L235.0,427.7 L238.8,427.7 L242.7,427.6 L246.5,427.6 L250.4,427.6 L254.2,427.6 L258.0,427.6 L261.9,427.6 L265.7,427.7 L269.6,427.8 L273.4,428.0 L277.2,428.3 L281.1,428.7 L284.9,429.3 L288.7,429.9 L292.6,430.5 L296.4,431.0 L300.2,431.4 L304.1,431.5 L307.9,431.3 L311.8,431.0 L315.6,430.5 L319.4,429.9 L323.3,429.2 L327.1,428.3 L330.9,427.4 L334.8,426.2 L338.6,425.0 L342.5,423.5 L346.3,422.0 L350.1,420.5 L354.0,419.0 L357.8,417.8 L362.6,416.5 L367.4,415.6 L372.2,415.1 L377.0,414.8 L377.0,418.0 L372.2,418.3 L367.4,418.8 L362.6,419.7 L357.8,421.0 L354.0,422.2 L350.1,423.5 L346.3,424.9 L342.5,426.3 L338.6,427.6 L334.8,428.8 L330.9,429.8 L327.1,430.7 L323.3,431.4 L319.4,432.0 L315.6,432.5 L311.8,432.9 L307.9,433.1 L304.1,433.1 L300.2,433.0 L296.4,432.6 L292.6,432.1 L288.7,431.5 L284.9,430.9 L281.1,430.3 L277.2,429.8 L273.4,429.4 L269.6,429.1 L265.7,428.8 L261.9,428.7 L258.0,428.6 L254.2,428.6 L250.4,428.6 L246.5,428.7 L242.7,428.7 L238.8,428.7 L235.0,428.7 L231.2,428.6 L227.3,428.5 L223.5,428.4 Z" fill="rgba(0,255,0,0.09)" stroke="none"/>
<path d="M223.5,427.9 L227.3,427.8 L231.2,427.6 L235.0,427.5 L238.8,427.4 L242.7,427.2 L246.5,427.1 L250.4,426.9 L254.2,426.8 L258.0,426.7 L261.9,426.7 L265.7,426.7 L269.6,426.8 L273.4,426.9 L277.2,427.1 L281.1,427.4 L284.9,427.6 L288.7,427.9 L292.6,428.1 L296.4,428.3 L300.2,428.3 L304.1,428.2 L307.9,427.8 L311.8,427.3 L315.6,426.5 L319.4,425.5 L323.3,424.2 L327.1,422.7 L330.9,421.0 L334.8,419.1 L338.6,417.0 L342.5,414.7 L346.3,412.3 L350.1,409.9 L354.0,407.4 L357.8,405.0 L362.6,402.1 L367.4,399.9 L372.2,398.6 L377.0,397.8" fill="none" stroke="rgba(0,0,0,0.3)" stroke-width="0.6" stroke-dasharray="1.2,1.8"/>
<path d="M223.5,428.4 L227.3,428.4 L231.2,428.4 L235.0,428.3 L238.8,428.3 L242.7,428.3 L246.5,428.3 L250.4,428.3 L254.2,428.3 L258.0,428.3 L261.9,428.3 L265.7,428.3 L269.6,428.4 L273.4,428.5 L277.2,428.7 L281.1,429.0 L284.9,429.3 L288.7,429.6 L292.6,430.0 L296.4,430.3 L300.2,430.4 L304.1,430.5 L307.9,430.3 L311.8,430.0 L315.6,429.4 L319.4,428.7 L323.3,427.7 L327.1,426.5 L330.9,425.1 L334.8,423.5 L338.6,421.8 L342.5,419.8 L346.3,417.8 L350.1,415.7 L354.0,413.5 L357.8,411.4 L362.6,408.9 L367.4,406.8 L372.2,405.5 L377.0,404.7" fill="none" stroke="rgba(0,0,0,0.3)" stroke-width="0.6" stroke-dasharray="1.2,1.8"/>
<path d="M223.5,427.9 L227.3,427.6 L231.2,427.3 L235.0,427.0 L238.8,426.8 L242.7,426.6 L246.5,426.4 L250.4,426.3 L254.2,426.2 L258.0,426.2 L261.9,426.2 L265.7,426.1 L269.6,426.1 L273.4,426.1 L277.2,426.2 L281.1,426.2 L284.9,426.3 L288.7,426.4 L292.6,426.5 L296.4,426.4 L300.2,426.3 L304.1,426.0 L307.9,425.5 L311.8,424.9 L315.6,424.1 L319.4,423.1 L323.3,421.9 L327.1,420.5 L330.9,418.9 L334.8,416.8 L338.6,414.3 L342.5,411.4 L346.3,408.1 L350.1,404.7 L354.0,401.4 L357.8,398.3 L362.6,395.0 L367.4,392.4 L372.2,390.5 L377.0,389.0" fill="none" stroke="rgba(0,0,255,0.3)" stroke-width="0.6" stroke-dasharray="1.2,1.8"/>
<path d="M223.5,428.4 L227.3,428.3 L231.2,428.2 L235.0,428.1 L238.8,428.0 L242.7,427.9 L246.5,427.9 L250.4,427.9 L254.2,427.9 L258.0,427.9 L261.9,428.0 L265.7,428.2 L269.6,428.3 L273.4,428.5 L277.2,428.7 L281.1,428.9 L284.9,429.1 L288.7,429.3 L292.6,429.5 L296.4,429.7 L300.2,429.8 L304.1,429.8 L307.9,429.7 L311.8,429.5 L315.6,429.1 L319.4,428.4 L323.3,427.6 L327.1,426.4 L330.9,425.1 L334.8,423.4 L338.6,421.5 L342.5,419.3 L346.3,417.0 L350.1,414.5 L354.0,412.0 L357.8,409.5 L362.6,406.7 L367.4,404.7 L372.2,404.0 L377.0,404.2" fill="none" stroke="rgba(0,0,255,0.3)" stroke-width="0.6" stroke-dasharray="1.2,1.8"/>
<path d="M223.5,427.9 L227.3,427.8 L231.2,427.7 L235.0,427.6 L238.8,427.5 L242.7,427.4 L246.5,427.3 L250.4,427.2 L254.2,427.2 L258.0,427.1 L261.9,427.1 L265.7,427.1 L269.6,427.1 L273.4,427.2 L277.2,427.4 L281.1,427.6 L284.9,428.0 L288.7,428.5 L292.6,428.9 L296.4,429.3 L300.2,429.6 L304.1,429.8 L307.9,429.7 L311.8,429.4 L315.6,429.0 L319.4,428.3 L323.3,427.4 L327.1,426.4 L330.9,425.2 L334.8,424.0 L338.6,422.8 L342.5,421.7 L346.3,420.7 L350.1,419.6 L354.0,418.5 L357.8,417.2 L362.6,415.6 L367.4,414.3 L372.2,413.8 L377.0,413.8" fill="none" stroke="rgba(255,0,0,0.3)" stroke-width="0.6" stroke-dasharray="1.2,1.8"/>
<path d="M223.5,428.4 L227.3,428.5 L231.2,428.5 L235.0,428.5 L238.8,428.5 L242.7,428.4 L246.5,428.4 L250.4,428.3 L254.2,428.2 L258.0,428.2 L261.9,428.2 L265.7,428.2 L269.6,428.4 L273.4,428.6 L277.2,428.9 L281.1,429.2 L284.9,429.6 L288.7,430.1 L292.6,430.5 L296.4,430.9 L300.2,431.2 L304.1,431.4 L307.9,431.5 L311.8,431.3 L315.6,431.0 L319.4,430.4 L323.3,429.7 L327.1,428.7 L330.9,427.6 L334.8,426.6 L338.6,425.5 L342.5,424.5 L346.3,423.6 L350.1,422.6 L354.0,421.6 L357.8,420.4 L362.6,418.8 L367.4,417.5 L372.2,417.0 L377.0,417.0" fill="none" stroke="rgba(255,0,0,0.3)" stroke-width="0.6" stroke-dasharray="1.2,1.8"/>
<path d="M223.5,427.9 L227.3,427.8 L231.2,427.8 L235.0,427.7 L238.8,427.7 L242.7,427.6 L246.5,427.6 L250.4,427.6 L254.2,427.6 L258.0,427.6 L261.9,427.6 L265.7,427.7 L269.6,427.8 L273.4,428.0 L277.2,428.3 L281.1,428.7 L284.9,429.3 L288.7,429.9 L292.6,430.5 L296.4,431.0 L300.2,431.4 L304.1,431.5 L307.9,431.3 L311.8,431.0 L315.6,430.5 L319.4,429.9 L323.3,429.2 L327.1,428.3 L330.9,427.4 L334.8,426.2 L338.6,425.0 L342.5,423.5 L346.3,422.0 L350.1,420.5 L354.0,419.0 L357.8,417.8 L362.6,416.5 L367.4,415.6 L372.2,415.1 L377.0,414.8" fill="none" stroke="rgba(0,200,0,0.25)" stroke-width="0.6" stroke-dasharray="1.2,1.8"/>
<path d="M223.5,428.4 L227.3,428.5 L231.2,428.6 L235.0,428.7 L238.8,428.7 L242.7,428.7 L246.5,428.7 L250.4,428.6 L254.2,428.6 L258.0,428.6 L261.9,428.7 L265.7,428.8 L269.6,429.1 L273.4,429.4 L277.2,429.8 L281.1,430.3 L284.9,430.9 L288.7,431.5 L292.6,432.1 L296.4,432.6 L300.2,433.0 L304.1,433.1 L307.9,433.1 L311.8,432.9 L315.6,432.5 L319.4,432.0 L323.3,431.4 L327.1,430.7 L330.9,429.8 L334.8,428.8 L338.6,427.6 L342.5,426.3 L346.3,424.9 L350.1,423.5 L354.0,422.2 L357.8,421.0 L362.6,419.7 L367.4,418.8 L372.2,418.3 L377.0,418.0" fill="none" stroke="rgba(0,200,0,0.25)" stroke-width="0.6" stroke-dasharray="1.2,1.8"/>
<path d="M223.5,428.2 L227.3,428.1 L231.2,428.0 L235.0,427.9 L238.8,427.8 L242.7,427.8 L246.5,427.7 L250.4,427.6 L254.2,427.5 L258.0,427.5 L261.9,427.5 L265.7,427.5 L269.6,427.6 L273.4,427.7 L277.2,427.9 L281.1,428.2 L284.9,428.5 L288.7,428.8 L292.6,429.1 L296.4,429.3 L300.2,429.4 L304.1,429.3 L307.9,429.1 L311.8,428.6 L315.6,428.0 L319.4,427.1 L323.3,426.0 L327.1,424.6 L330.9,423.1 L334.8,421.3 L338.6,419.4 L342.5,417.3 L346.3,415.0 L350.1,412.8 L354.0,410.4 L357.8,408.2 L362.6,405.5 L367.4,403.4 L372.2,402.1 L377.0,401.2" fill="none" stroke="#2a2a2a" stroke-width="0.85" stroke-linejoin="round"/>
<path d="M223.5,428.2 L227.3,428.0 L231.2,427.8 L235.0,427.6 L238.8,427.5 L242.7,427.4 L246.5,427.3 L250.4,427.2 L254.2,427.2 L258.0,427.2 L261.9,427.2 L265.7,427.3 L269.6,427.4 L273.4,427.5 L277.2,427.7 L281.1,427.8 L284.9,428.0 L288.7,428.2 L292.6,428.3 L296.4,428.4 L300.2,428.4 L304.1,428.3 L307.9,428.1 L311.8,427.7 L315.6,427.1 L319.4,426.3 L323.3,425.3 L327.1,424.0 L330.9,422.5 L334.8,420.8 L338.6,418.8 L342.5,416.7 L346.3,414.3 L350.1,411.8 L354.0,409.2 L357.8,406.6 L362.6,403.3 L367.4,400.4 L372.2,398.1 L377.0,396.2" fill="none" stroke="#3a3aff" stroke-width="0.85" stroke-linejoin="round"/>
<path d="M223.5,428.2 L227.3,428.1 L231.2,428.1 L235.0,428.0 L238.8,428.0 L242.7,427.9 L246.5,427.8 L250.4,427.8 L254.2,427.7 L258.0,427.6 L261.9,427.6 L265.7,427.7 L269.6,427.7 L273.4,427.9 L277.2,428.1 L281.1,428.4 L284.9,428.8 L288.7,429.3 L292.6,429.7 L296.4,430.1 L300.2,430.4 L304.1,430.6 L307.9,430.6 L311.8,430.4 L315.6,430.0 L319.4,429.4 L323.3,428.5 L327.1,427.5 L330.9,426.4 L334.8,425.3 L338.6,424.2 L342.5,423.1 L346.3,422.1 L350.1,421.1 L354.0,420.0 L357.8,418.8 L362.6,417.2 L367.4,415.9 L372.2,415.4 L377.0,415.4" fill="none" stroke="#ff2a2a" stroke-width="0.85" stroke-linejoin="round"/>
<path d="M223.5,428.2 L227.3,428.2 L231.2,428.2 L235.0,428.2 L238.8,428.2 L242.7,428.2 L246.5,428.1 L250.4,428.1 L254.2,428.1 L258.0,428.1 L261.9,428.2 L265.7,428.3 L269.6,428.4 L273.4,428.7 L277.2,429.0 L281.1,429.5 L284.9,430.1 L288.7,430.7 L292.6,431.3 L296.4,431.8 L300.2,432.2 L304.1,432.3 L307.9,432.2 L311.8,432.0 L315.6,431.5 L319.4,431.0 L323.3,430.3 L327.1,429.5 L330.9,428.6 L334.8,427.5 L338.6,426.3 L342.5,424.9 L346.3,423.5 L350.1,422.0 L354.0,420.6 L357.8,419.4 L362.6,418.1 L367.4,417.2 L372.2,416.7 L377.0,416.4" fill="none" stroke="#22dd22" stroke-width="0.85" stroke-linejoin="round"/>
</g>
<line x1="228.50" y1="329.50" x2="242.50" y2="329.50" stroke="#2a2a2a" stroke-width="0.9"/>
<text x="243.80" y="331.20" font-size="5.72" text-anchor="start" fill="#262626" stroke="#262626" stroke-width="0.16">No application</text>
<line x1="228.50" y1="336.50" x2="242.50" y2="336.50" stroke="#3a3aff" stroke-width="0.9"/>
<text x="243.80" y="338.05" font-size="5.72" text-anchor="start" fill="#262626" stroke="#262626" stroke-width="0.16">Water application</text>
<line x1="228.50" y1="342.50" x2="242.50" y2="342.50" stroke="#ff2a2a" stroke-width="0.9"/>
<text x="243.80" y="344.90" font-size="5.72" text-anchor="start" fill="#262626" stroke="#262626" stroke-width="0.16">Rosin powder application</text>
<line x1="228.50" y1="349.50" x2="242.50" y2="349.50" stroke="#22dd22" stroke-width="0.9"/>
<text x="243.80" y="351.75" font-size="5.72" text-anchor="start" fill="#262626" stroke="#262626" stroke-width="0.16">Pine resin application</text>
<rect x="223.50" y="321.50" width="153.50" height="120.00" fill="none" stroke="#6a6a6a" stroke-width="1.0"/>
<line x1="223.50" y1="441.50" x2="223.50" y2="439.90" stroke="#404040" stroke-width="0.7"/>
<line x1="223.50" y1="321.50" x2="223.50" y2="323.10" stroke="#404040" stroke-width="0.7"/>
<text x="223.50" y="448.90" font-size="5.80" text-anchor="middle" fill="#262626" stroke="#262626" stroke-width="0.16">-8</text>
<line x1="242.69" y1="441.50" x2="242.69" y2="439.90" stroke="#404040" stroke-width="0.7"/>
<line x1="242.69" y1="321.50" x2="242.69" y2="323.10" stroke="#404040" stroke-width="0.7"/>
<text x="242.69" y="448.90" font-size="5.80" text-anchor="middle" fill="#262626" stroke="#262626" stroke-width="0.16">-7</text>
<line x1="261.88" y1="441.50" x2="261.88" y2="439.90" stroke="#404040" stroke-width="0.7"/>
<line x1="261.88" y1="321.50" x2="261.88" y2="323.10" stroke="#404040" stroke-width="0.7"/>
<text x="261.88" y="448.90" font-size="5.80" text-anchor="middle" fill="#262626" stroke="#262626" stroke-width="0.16">-6</text>
<line x1="281.06" y1="441.50" x2="281.06" y2="439.90" stroke="#404040" stroke-width="0.7"/>
<line x1="281.06" y1="321.50" x2="281.06" y2="323.10" stroke="#404040" stroke-width="0.7"/>
<text x="281.06" y="448.90" font-size="5.80" text-anchor="middle" fill="#262626" stroke="#262626" stroke-width="0.16">-5</text>
<line x1="300.25" y1="441.50" x2="300.25" y2="439.90" stroke="#404040" stroke-width="0.7"/>
<line x1="300.25" y1="321.50" x2="300.25" y2="323.10" stroke="#404040" stroke-width="0.7"/>
<text x="300.25" y="448.90" font-size="5.80" text-anchor="middle" fill="#262626" stroke="#262626" stroke-width="0.16">-4</text>
<line x1="319.44" y1="441.50" x2="319.44" y2="439.90" stroke="#404040" stroke-width="0.7"/>
<line x1="319.44" y1="321.50" x2="319.44" y2="323.10" stroke="#404040" stroke-width="0.7"/>
<text x="319.44" y="448.90" font-size="5.80" text-anchor="middle" fill="#262626" stroke="#262626" stroke-width="0.16">-3</text>
<line x1="338.62" y1="441.50" x2="338.62" y2="439.90" stroke="#404040" stroke-width="0.7"/>
<line x1="338.62" y1="321.50" x2="338.62" y2="323.10" stroke="#404040" stroke-width="0.7"/>
<text x="338.62" y="448.90" font-size="5.80" text-anchor="middle" fill="#262626" stroke="#262626" stroke-width="0.16">-2</text>
<line x1="357.81" y1="441.50" x2="357.81" y2="439.90" stroke="#404040" stroke-width="0.7"/>
<line x1="357.81" y1="321.50" x2="357.81" y2="323.10" stroke="#404040" stroke-width="0.7"/>
<text x="357.81" y="448.90" font-size="5.80" text-anchor="middle" fill="#262626" stroke="#262626" stroke-width="0.16">-1</text>
<line x1="377.00" y1="441.50" x2="377.00" y2="439.90" stroke="#404040" stroke-width="0.7"/>
<line x1="377.00" y1="321.50" x2="377.00" y2="323.10" stroke="#404040" stroke-width="0.7"/>
<text x="377.00" y="448.90" font-size="5.80" text-anchor="middle" fill="#262626" stroke="#262626" stroke-width="0.16">0</text>
<line x1="223.50" y1="441.50" x2="225.10" y2="441.50" stroke="#404040" stroke-width="0.7"/>
<line x1="377.00" y1="441.50" x2="375.40" y2="441.50" stroke="#404040" stroke-width="0.7"/>
<text x="221.00" y="443.60" font-size="5.80" text-anchor="end" fill="#262626" stroke="#262626" stroke-width="0.16">-5</text>
<line x1="223.50" y1="428.17" x2="225.10" y2="428.17" stroke="#404040" stroke-width="0.7"/>
<line x1="377.00" y1="428.17" x2="375.40" y2="428.17" stroke="#404040" stroke-width="0.7"/>
<text x="221.00" y="430.27" font-size="5.80" text-anchor="end" fill="#262626" stroke="#262626" stroke-width="0.16">0</text>
<line x1="223.50" y1="414.83" x2="225.10" y2="414.83" stroke="#404040" stroke-width="0.7"/>
<line x1="377.00" y1="414.83" x2="375.40" y2="414.83" stroke="#404040" stroke-width="0.7"/>
<text x="221.00" y="416.93" font-size="5.80" text-anchor="end" fill="#262626" stroke="#262626" stroke-width="0.16">5</text>
<line x1="223.50" y1="401.50" x2="225.10" y2="401.50" stroke="#404040" stroke-width="0.7"/>
<line x1="377.00" y1="401.50" x2="375.40" y2="401.50" stroke="#404040" stroke-width="0.7"/>
<text x="221.00" y="403.60" font-size="5.80" text-anchor="end" fill="#262626" stroke="#262626" stroke-width="0.16">10</text>
<line x1="223.50" y1="388.17" x2="225.10" y2="388.17" stroke="#404040" stroke-width="0.7"/>
<line x1="377.00" y1="388.17" x2="375.40" y2="388.17" stroke="#404040" stroke-width="0.7"/>
<text x="221.00" y="390.27" font-size="5.80" text-anchor="end" fill="#262626" stroke="#262626" stroke-width="0.16">15</text>
<line x1="223.50" y1="374.83" x2="225.10" y2="374.83" stroke="#404040" stroke-width="0.7"/>
<line x1="377.00" y1="374.83" x2="375.40" y2="374.83" stroke="#404040" stroke-width="0.7"/>
<text x="221.00" y="376.93" font-size="5.80" text-anchor="end" fill="#262626" stroke="#262626" stroke-width="0.16">20</text>
<line x1="223.50" y1="361.50" x2="225.10" y2="361.50" stroke="#404040" stroke-width="0.7"/>
<line x1="377.00" y1="361.50" x2="375.40" y2="361.50" stroke="#404040" stroke-width="0.7"/>
<text x="221.00" y="363.60" font-size="5.80" text-anchor="end" fill="#262626" stroke="#262626" stroke-width="0.16">25</text>
<line x1="223.50" y1="348.17" x2="225.10" y2="348.17" stroke="#404040" stroke-width="0.7"/>
<line x1="377.00" y1="348.17" x2="375.40" y2="348.17" stroke="#404040" stroke-width="0.7"/>
<text x="221.00" y="350.27" font-size="5.80" text-anchor="end" fill="#262626" stroke="#262626" stroke-width="0.16">30</text>
<line x1="223.50" y1="334.83" x2="225.10" y2="334.83" stroke="#404040" stroke-width="0.7"/>
<line x1="377.00" y1="334.83" x2="375.40" y2="334.83" stroke="#404040" stroke-width="0.7"/>
<text x="221.00" y="336.93" font-size="5.80" text-anchor="end" fill="#262626" stroke="#262626" stroke-width="0.16">35</text>
<line x1="223.50" y1="321.50" x2="225.10" y2="321.50" stroke="#404040" stroke-width="0.7"/>
<line x1="377.00" y1="321.50" x2="375.40" y2="321.50" stroke="#404040" stroke-width="0.7"/>
<text x="221.00" y="323.60" font-size="5.80" text-anchor="end" fill="#262626" stroke="#262626" stroke-width="0.16">40</text>
<text x="300.25" y="456.90" font-size="6.35" text-anchor="middle" fill="#262626" stroke="#262626" stroke-width="0.16">Time <tspan font-style="italic">t</tspan>, ms</text>
<text transform="translate(209.70,381.50) rotate(-90)" font-size="6.3" text-anchor="middle" fill="#262626" stroke="#262626" stroke-width="0.13">Slip distance <tspan font-style="italic">D</tspan><tspan font-size="4.6" dy="2.0">slip</tspan><tspan dy="-2.0">, mm</tspan></text>
<text x="370.20" y="336.10" font-size="13.00" text-anchor="end" fill="#111" stroke="#111" stroke-width="0.13">f</text>
<text x="378.60" y="310.80" font-size="7.00" text-anchor="middle" fill="#262626" stroke="#262626" stroke-width="0.13">Ball release</text>
<line x1="377.00" y1="312.50" x2="377.00" y2="318.50" stroke="#111" stroke-width="0.8"/>
<path d="M375.30,317.30 L378.70,317.30 L377.00,321.20 Z" fill="#111"/>
<clipPath id="clipB"><rect x="453.50" y="16.50" width="213.00" height="167.00"/></clipPath>
<g clip-path="url(#clipB)">
<path d="M453.5,180.7 L458.8,179.4 L464.2,178.1 L469.5,176.8 L474.8,175.7 L480.1,174.6 L485.4,173.6 L490.8,172.8 L496.1,172.0 L501.4,171.4 L506.8,170.7 L512.1,170.1 L517.4,169.5 L522.7,168.9 L528.0,168.4 L533.4,167.9 L538.7,167.5 L544.0,167.0 L549.4,166.4 L554.7,165.5 L560.0,164.3 L565.3,162.6 L570.6,160.5 L576.0,157.9 L581.3,155.0 L586.6,151.8 L592.0,148.2 L597.3,144.5 L602.6,140.6 L607.9,136.6 L613.2,132.6 L618.6,128.6 L623.9,124.6 L629.2,120.6 L634.5,116.5 L639.9,112.2 L646.5,106.9 L653.2,102.8 L659.8,100.7 L666.5,100.0 L666.5,134.0 L659.8,133.5 L653.2,134.0 L646.5,135.9 L639.9,139.0 L634.5,141.9 L629.2,145.2 L623.9,148.7 L618.6,152.4 L613.2,156.2 L607.9,160.0 L602.6,163.7 L597.3,167.3 L592.0,170.4 L586.6,173.2 L581.3,175.4 L576.0,177.2 L570.6,178.5 L565.3,179.4 L560.0,179.9 L554.7,180.1 L549.4,180.1 L544.0,180.0 L538.7,179.8 L533.4,179.6 L528.0,179.5 L522.7,179.5 L517.4,179.6 L512.1,179.6 L506.8,179.6 L501.4,179.5 L496.1,179.4 L490.8,179.4 L485.4,179.4 L480.1,179.6 L474.8,180.0 L469.5,180.6 L464.2,181.3 L458.8,182.1 L453.5,182.9 Z" fill="rgba(0,0,0,0.065)" stroke="none"/>
<path d="M453.5,179.0 L458.8,177.0 L464.2,174.9 L469.5,172.9 L474.8,170.9 L480.1,169.0 L485.4,167.2 L490.8,165.4 L496.1,163.6 L501.4,161.9 L506.8,160.1 L512.1,158.3 L517.4,156.5 L522.7,154.5 L528.0,152.4 L533.4,150.1 L538.7,147.6 L544.0,144.8 L549.4,141.9 L554.7,138.7 L560.0,135.3 L565.3,131.8 L570.6,128.0 L576.0,123.9 L581.3,119.4 L586.6,114.5 L592.0,109.1 L597.3,103.3 L602.6,97.4 L607.9,91.4 L613.2,85.5 L618.6,79.9 L623.9,74.3 L629.2,68.9 L634.5,63.4 L639.9,57.7 L646.5,50.5 L653.2,44.3 L659.8,40.1 L666.5,37.1 L666.5,88.3 L659.8,90.7 L653.2,94.4 L646.5,100.4 L639.9,107.2 L634.5,112.3 L629.2,117.0 L623.9,121.5 L618.6,126.0 L613.2,130.6 L607.9,135.5 L602.6,140.6 L597.3,145.6 L592.0,150.3 L586.6,154.6 L581.3,158.1 L576.0,161.1 L570.6,163.5 L565.3,165.5 L560.0,167.1 L554.7,168.4 L549.4,169.6 L544.0,170.5 L538.7,171.2 L533.4,171.8 L528.0,172.3 L522.7,172.7 L517.4,173.1 L512.1,173.5 L506.8,174.0 L501.4,174.7 L496.1,175.4 L490.8,176.2 L485.4,177.0 L480.1,177.9 L474.8,178.8 L469.5,179.7 L464.2,180.6 L458.8,181.5 L453.5,182.4 Z" fill="rgba(0,0,255,0.065)" stroke="none"/>
<path d="M453.5,180.7 L458.8,179.0 L464.2,177.3 L469.5,175.7 L474.8,174.2 L480.1,172.9 L485.4,171.8 L490.8,170.9 L496.1,170.1 L501.4,169.5 L506.8,169.0 L512.1,168.6 L517.4,168.4 L522.7,168.2 L528.0,168.0 L533.4,167.9 L538.7,167.8 L544.0,167.7 L549.4,167.5 L554.7,167.2 L560.0,166.5 L565.3,165.6 L570.6,164.3 L576.0,162.7 L581.3,160.8 L586.6,158.4 L592.0,155.8 L597.3,152.8 L602.6,149.6 L607.9,146.3 L613.2,142.9 L618.6,139.5 L623.9,136.2 L629.2,133.2 L634.5,130.6 L639.9,128.4 L646.5,126.5 L653.2,125.6 L659.8,125.7 L666.5,126.4 L666.5,139.8 L659.8,139.1 L653.2,139.0 L646.5,139.8 L639.9,141.8 L634.5,144.0 L629.2,146.7 L623.9,149.7 L618.6,152.9 L613.2,156.2 L607.9,159.5 L602.6,162.6 L597.3,165.5 L592.0,168.2 L586.6,170.7 L581.3,172.8 L576.0,174.6 L570.6,176.0 L565.3,177.1 L560.0,177.7 L554.7,177.8 L549.4,177.7 L544.0,177.4 L538.7,177.0 L533.4,176.8 L528.0,176.9 L522.7,177.1 L517.4,177.4 L512.1,177.7 L506.8,177.9 L501.4,178.0 L496.1,178.0 L490.8,178.1 L485.4,178.2 L480.1,178.5 L474.8,179.0 L469.5,179.8 L464.2,180.8 L458.8,181.8 L453.5,182.9 Z" fill="rgba(255,0,0,0.065)" stroke="none"/>
<path d="M453.5,180.7 L458.8,179.6 L464.2,178.5 L469.5,177.5 L474.8,176.4 L480.1,175.4 L485.4,174.5 L490.8,173.6 L496.1,172.7 L501.4,172.0 L506.8,171.3 L512.1,170.6 L517.4,170.1 L522.7,169.8 L528.0,169.6 L533.4,169.6 L538.7,169.8 L544.0,170.1 L549.4,170.3 L554.7,170.4 L560.0,170.1 L565.3,169.5 L570.6,168.3 L576.0,166.8 L581.3,164.8 L586.6,162.3 L592.0,159.5 L597.3,156.4 L602.6,153.1 L607.9,149.6 L613.2,146.2 L618.6,142.9 L623.9,139.7 L629.2,136.9 L634.5,134.4 L639.9,132.3 L646.5,130.4 L653.2,129.5 L659.8,129.5 L666.5,130.1 L666.5,147.9 L659.8,147.2 L653.2,147.3 L646.5,148.7 L639.9,151.2 L634.5,153.8 L629.2,156.8 L623.9,160.0 L618.6,163.2 L613.2,166.2 L607.9,169.0 L602.6,171.4 L597.3,173.5 L592.0,175.3 L586.6,176.8 L581.3,178.0 L576.0,179.0 L570.6,179.7 L565.3,180.1 L560.0,180.2 L554.7,180.0 L549.4,179.7 L544.0,179.2 L538.7,178.8 L533.4,178.5 L528.0,178.3 L522.7,178.4 L517.4,178.5 L512.1,178.7 L506.8,179.0 L501.4,179.4 L496.1,179.8 L490.8,180.2 L485.4,180.6 L480.1,181.0 L474.8,181.4 L469.5,181.8 L464.2,182.2 L458.8,182.6 L453.5,182.9 Z" fill="rgba(0,255,0,0.09)" stroke="none"/>
<path d="M453.5,180.7 L458.8,179.4 L464.2,178.1 L469.5,176.8 L474.8,175.7 L480.1,174.6 L485.4,173.6 L490.8,172.8 L496.1,172.0 L501.4,171.4 L506.8,170.7 L512.1,170.1 L517.4,169.5 L522.7,168.9 L528.0,168.4 L533.4,167.9 L538.7,167.5 L544.0,167.0 L549.4,166.4 L554.7,165.5 L560.0,164.3 L565.3,162.6 L570.6,160.5 L576.0,157.9 L581.3,155.0 L586.6,151.8 L592.0,148.2 L597.3,144.5 L602.6,140.6 L607.9,136.6 L613.2,132.6 L618.6,128.6 L623.9,124.6 L629.2,120.6 L634.5,116.5 L639.9,112.2 L646.5,106.9 L653.2,102.8 L659.8,100.7 L666.5,100.0" fill="none" stroke="rgba(0,0,0,0.3)" stroke-width="0.6" stroke-dasharray="1.2,1.8"/>
<path d="M453.5,182.9 L458.8,182.1 L464.2,181.3 L469.5,180.6 L474.8,180.0 L480.1,179.6 L485.4,179.4 L490.8,179.4 L496.1,179.4 L501.4,179.5 L506.8,179.6 L512.1,179.6 L517.4,179.6 L522.7,179.5 L528.0,179.5 L533.4,179.6 L538.7,179.8 L544.0,180.0 L549.4,180.1 L554.7,180.1 L560.0,179.9 L565.3,179.4 L570.6,178.5 L576.0,177.2 L581.3,175.4 L586.6,173.2 L592.0,170.4 L597.3,167.3 L602.6,163.7 L607.9,160.0 L613.2,156.2 L618.6,152.4 L623.9,148.7 L629.2,145.2 L634.5,141.9 L639.9,139.0 L646.5,135.9 L653.2,134.0 L659.8,133.5 L666.5,134.0" fill="none" stroke="rgba(0,0,0,0.3)" stroke-width="0.6" stroke-dasharray="1.2,1.8"/>
<path d="M453.5,179.0 L458.8,177.0 L464.2,174.9 L469.5,172.9 L474.8,170.9 L480.1,169.0 L485.4,167.2 L490.8,165.4 L496.1,163.6 L501.4,161.9 L506.8,160.1 L512.1,158.3 L517.4,156.5 L522.7,154.5 L528.0,152.4 L533.4,150.1 L538.7,147.6 L544.0,144.8 L549.4,141.9 L554.7,138.7 L560.0,135.3 L565.3,131.8 L570.6,128.0 L576.0,123.9 L581.3,119.4 L586.6,114.5 L592.0,109.1 L597.3,103.3 L602.6,97.4 L607.9,91.4 L613.2,85.5 L618.6,79.9 L623.9,74.3 L629.2,68.9 L634.5,63.4 L639.9,57.7 L646.5,50.5 L653.2,44.3 L659.8,40.1 L666.5,37.1" fill="none" stroke="rgba(0,0,255,0.3)" stroke-width="0.6" stroke-dasharray="1.2,1.8"/>
<path d="M453.5,182.4 L458.8,181.5 L464.2,180.6 L469.5,179.7 L474.8,178.8 L480.1,177.9 L485.4,177.0 L490.8,176.2 L496.1,175.4 L501.4,174.7 L506.8,174.0 L512.1,173.5 L517.4,173.1 L522.7,172.7 L528.0,172.3 L533.4,171.8 L538.7,171.2 L544.0,170.5 L549.4,169.6 L554.7,168.4 L560.0,167.1 L565.3,165.5 L570.6,163.5 L576.0,161.1 L581.3,158.1 L586.6,154.6 L592.0,150.3 L597.3,145.6 L602.6,140.6 L607.9,135.5 L613.2,130.6 L618.6,126.0 L623.9,121.5 L629.2,117.0 L634.5,112.3 L639.9,107.2 L646.5,100.4 L653.2,94.4 L659.8,90.7 L666.5,88.3" fill="none" stroke="rgba(0,0,255,0.3)" stroke-width="0.6" stroke-dasharray="1.2,1.8"/>
<path d="M453.5,180.7 L458.8,179.0 L464.2,177.3 L469.5,175.7 L474.8,174.2 L480.1,172.9 L485.4,171.8 L490.8,170.9 L496.1,170.1 L501.4,169.5 L506.8,169.0 L512.1,168.6 L517.4,168.4 L522.7,168.2 L528.0,168.0 L533.4,167.9 L538.7,167.8 L544.0,167.7 L549.4,167.5 L554.7,167.2 L560.0,166.5 L565.3,165.6 L570.6,164.3 L576.0,162.7 L581.3,160.8 L586.6,158.4 L592.0,155.8 L597.3,152.8 L602.6,149.6 L607.9,146.3 L613.2,142.9 L618.6,139.5 L623.9,136.2 L629.2,133.2 L634.5,130.6 L639.9,128.4 L646.5,126.5 L653.2,125.6 L659.8,125.7 L666.5,126.4" fill="none" stroke="rgba(255,0,0,0.3)" stroke-width="0.6" stroke-dasharray="1.2,1.8"/>
<path d="M453.5,182.9 L458.8,181.8 L464.2,180.8 L469.5,179.8 L474.8,179.0 L480.1,178.5 L485.4,178.2 L490.8,178.1 L496.1,178.0 L501.4,178.0 L506.8,177.9 L512.1,177.7 L517.4,177.4 L522.7,177.1 L528.0,176.9 L533.4,176.8 L538.7,177.0 L544.0,177.4 L549.4,177.7 L554.7,177.8 L560.0,177.7 L565.3,177.1 L570.6,176.0 L576.0,174.6 L581.3,172.8 L586.6,170.7 L592.0,168.2 L597.3,165.5 L602.6,162.6 L607.9,159.5 L613.2,156.2 L618.6,152.9 L623.9,149.7 L629.2,146.7 L634.5,144.0 L639.9,141.8 L646.5,139.8 L653.2,139.0 L659.8,139.1 L666.5,139.8" fill="none" stroke="rgba(255,0,0,0.3)" stroke-width="0.6" stroke-dasharray="1.2,1.8"/>
<path d="M453.5,180.7 L458.8,179.6 L464.2,178.5 L469.5,177.5 L474.8,176.4 L480.1,175.4 L485.4,174.5 L490.8,173.6 L496.1,172.7 L501.4,172.0 L506.8,171.3 L512.1,170.6 L517.4,170.1 L522.7,169.8 L528.0,169.6 L533.4,169.6 L538.7,169.8 L544.0,170.1 L549.4,170.3 L554.7,170.4 L560.0,170.1 L565.3,169.5 L570.6,168.3 L576.0,166.8 L581.3,164.8 L586.6,162.3 L592.0,159.5 L597.3,156.4 L602.6,153.1 L607.9,149.6 L613.2,146.2 L618.6,142.9 L623.9,139.7 L629.2,136.9 L634.5,134.4 L639.9,132.3 L646.5,130.4 L653.2,129.5 L659.8,129.5 L666.5,130.1" fill="none" stroke="rgba(0,200,0,0.25)" stroke-width="0.6" stroke-dasharray="1.2,1.8"/>
<path d="M453.5,182.9 L458.8,182.6 L464.2,182.2 L469.5,181.8 L474.8,181.4 L480.1,181.0 L485.4,180.6 L490.8,180.2 L496.1,179.8 L501.4,179.4 L506.8,179.0 L512.1,178.7 L517.4,178.5 L522.7,178.4 L528.0,178.3 L533.4,178.5 L538.7,178.8 L544.0,179.2 L549.4,179.7 L554.7,180.0 L560.0,180.2 L565.3,180.1 L570.6,179.7 L576.0,179.0 L581.3,178.0 L586.6,176.8 L592.0,175.3 L597.3,173.5 L602.6,171.4 L607.9,169.0 L613.2,166.2 L618.6,163.2 L623.9,160.0 L629.2,156.8 L634.5,153.8 L639.9,151.2 L646.5,148.7 L653.2,147.3 L659.8,147.2 L666.5,147.9" fill="none" stroke="rgba(0,200,0,0.25)" stroke-width="0.6" stroke-dasharray="1.2,1.8"/>
<path d="M453.5,181.8 L458.8,180.8 L464.2,179.9 L469.5,179.0 L474.8,178.1 L480.1,177.4 L485.4,176.8 L490.8,176.3 L496.1,175.8 L501.4,175.5 L506.8,175.2 L512.1,174.9 L517.4,174.6 L522.7,174.4 L528.0,174.2 L533.4,174.0 L538.7,173.9 L544.0,173.8 L549.4,173.5 L554.7,173.0 L560.0,172.1 L565.3,170.8 L570.6,169.0 L576.0,166.8 L581.3,164.2 L586.6,161.2 L592.0,157.9 L597.3,154.3 L602.6,150.5 L607.9,146.6 L613.2,142.6 L618.6,138.6 L623.9,134.8 L629.2,131.0 L634.5,127.4 L639.9,123.9 L646.5,120.1 L653.2,117.3 L659.8,116.0 L666.5,115.6" fill="none" stroke="#2a2a2a" stroke-width="1.00" stroke-linejoin="round"/>
<path d="M453.5,180.7 L458.8,179.2 L464.2,177.7 L469.5,176.3 L474.8,174.8 L480.1,173.5 L485.4,172.2 L490.8,170.9 L496.1,169.7 L501.4,168.6 L506.8,167.4 L512.1,166.1 L517.4,164.9 L522.7,163.6 L528.0,162.2 L533.4,160.7 L538.7,159.1 L544.0,157.3 L549.4,155.4 L554.7,153.3 L560.0,150.9 L565.3,148.3 L570.6,145.4 L576.0,142.1 L581.3,138.3 L586.6,134.0 L592.0,129.1 L597.3,123.7 L602.6,118.1 L607.9,112.4 L613.2,106.7 L618.6,101.2 L623.9,95.8 L629.2,90.6 L634.5,85.5 L639.9,80.5 L646.5,74.4 L653.2,69.4 L659.8,66.0 L666.5,63.5" fill="none" stroke="#3a3aff" stroke-width="1.00" stroke-linejoin="round"/>
<path d="M453.5,181.8 L458.8,180.4 L464.2,179.0 L469.5,177.8 L474.8,176.6 L480.1,175.7 L485.4,175.0 L490.8,174.5 L496.1,174.1 L501.4,173.8 L506.8,173.5 L512.1,173.2 L517.4,172.9 L522.7,172.6 L528.0,172.4 L533.4,172.4 L538.7,172.4 L544.0,172.5 L549.4,172.6 L554.7,172.5 L560.0,172.1 L565.3,171.3 L570.6,170.2 L576.0,168.7 L581.3,166.8 L586.6,164.6 L592.0,162.0 L597.3,159.2 L602.6,156.1 L607.9,152.9 L613.2,149.5 L618.6,146.2 L623.9,143.0 L629.2,139.9 L634.5,137.3 L639.9,135.1 L646.5,133.2 L653.2,132.3 L659.8,132.4 L666.5,133.1" fill="none" stroke="#ff2a2a" stroke-width="1.00" stroke-linejoin="round"/>
<path d="M453.5,181.8 L458.8,181.1 L464.2,180.4 L469.5,179.6 L474.8,178.9 L480.1,178.2 L485.4,177.5 L490.8,176.9 L496.1,176.3 L501.4,175.7 L506.8,175.2 L512.1,174.7 L517.4,174.3 L522.7,174.1 L528.0,174.0 L533.4,174.0 L538.7,174.3 L544.0,174.7 L549.4,175.0 L554.7,175.2 L560.0,175.2 L565.3,174.8 L570.6,174.0 L576.0,172.9 L581.3,171.4 L586.6,169.6 L592.0,167.4 L597.3,165.0 L602.6,162.2 L607.9,159.3 L613.2,156.2 L618.6,153.0 L623.9,149.9 L629.2,146.9 L634.5,144.1 L639.9,141.8 L646.5,139.6 L653.2,138.4 L659.8,138.4 L666.5,139.0" fill="none" stroke="#22dd22" stroke-width="1.00" stroke-linejoin="round"/>
</g>
<line x1="461.10" y1="27.50" x2="480.60" y2="27.50" stroke="#2a2a2a" stroke-width="1.1"/>
<text x="482.20" y="30.20" font-size="7.80" text-anchor="start" fill="#262626" stroke="#262626" stroke-width="0.13">No application</text>
<line x1="461.10" y1="36.50" x2="480.60" y2="36.50" stroke="#3a3aff" stroke-width="1.1"/>
<text x="482.20" y="39.70" font-size="7.80" text-anchor="start" fill="#262626" stroke="#262626" stroke-width="0.13">Water application</text>
<line x1="461.10" y1="46.50" x2="480.60" y2="46.50" stroke="#ff2a2a" stroke-width="1.1"/>
<text x="482.20" y="49.20" font-size="7.80" text-anchor="start" fill="#262626" stroke="#262626" stroke-width="0.13">Rosin powder application</text>
<line x1="461.10" y1="55.50" x2="480.60" y2="55.50" stroke="#22dd22" stroke-width="1.1"/>
<text x="482.20" y="58.70" font-size="7.80" text-anchor="start" fill="#262626" stroke="#262626" stroke-width="0.13">Pine resin application</text>
<rect x="453.50" y="16.50" width="213.00" height="167.00" fill="none" stroke="#404040" stroke-width="1"/>
<line x1="453.50" y1="183.50" x2="453.50" y2="181.30" stroke="#404040" stroke-width="0.8"/>
<line x1="453.50" y1="16.50" x2="453.50" y2="18.70" stroke="#404040" stroke-width="0.8"/>
<text x="453.50" y="194.40" font-size="7.70" text-anchor="middle" fill="#262626" stroke="#262626" stroke-width="0.13">-8</text>
<line x1="480.12" y1="183.50" x2="480.12" y2="181.30" stroke="#404040" stroke-width="0.8"/>
<line x1="480.12" y1="16.50" x2="480.12" y2="18.70" stroke="#404040" stroke-width="0.8"/>
<text x="480.12" y="194.40" font-size="7.70" text-anchor="middle" fill="#262626" stroke="#262626" stroke-width="0.13">-7</text>
<line x1="506.75" y1="183.50" x2="506.75" y2="181.30" stroke="#404040" stroke-width="0.8"/>
<line x1="506.75" y1="16.50" x2="506.75" y2="18.70" stroke="#404040" stroke-width="0.8"/>
<text x="506.75" y="194.40" font-size="7.70" text-anchor="middle" fill="#262626" stroke="#262626" stroke-width="0.13">-6</text>
<line x1="533.38" y1="183.50" x2="533.38" y2="181.30" stroke="#404040" stroke-width="0.8"/>
<line x1="533.38" y1="16.50" x2="533.38" y2="18.70" stroke="#404040" stroke-width="0.8"/>
<text x="533.38" y="194.40" font-size="7.70" text-anchor="middle" fill="#262626" stroke="#262626" stroke-width="0.13">-5</text>
<line x1="560.00" y1="183.50" x2="560.00" y2="181.30" stroke="#404040" stroke-width="0.8"/>
<line x1="560.00" y1="16.50" x2="560.00" y2="18.70" stroke="#404040" stroke-width="0.8"/>
<text x="560.00" y="194.40" font-size="7.70" text-anchor="middle" fill="#262626" stroke="#262626" stroke-width="0.13">-4</text>
<line x1="586.62" y1="183.50" x2="586.62" y2="181.30" stroke="#404040" stroke-width="0.8"/>
<line x1="586.62" y1="16.50" x2="586.62" y2="18.70" stroke="#404040" stroke-width="0.8"/>
<text x="586.62" y="194.40" font-size="7.70" text-anchor="middle" fill="#262626" stroke="#262626" stroke-width="0.13">-3</text>
<line x1="613.25" y1="183.50" x2="613.25" y2="181.30" stroke="#404040" stroke-width="0.8"/>
<line x1="613.25" y1="16.50" x2="613.25" y2="18.70" stroke="#404040" stroke-width="0.8"/>
<text x="613.25" y="194.40" font-size="7.70" text-anchor="middle" fill="#262626" stroke="#262626" stroke-width="0.13">-2</text>
<line x1="639.88" y1="183.50" x2="639.88" y2="181.30" stroke="#404040" stroke-width="0.8"/>
<line x1="639.88" y1="16.50" x2="639.88" y2="18.70" stroke="#404040" stroke-width="0.8"/>
<text x="639.88" y="194.40" font-size="7.70" text-anchor="middle" fill="#262626" stroke="#262626" stroke-width="0.13">-1</text>
<line x1="666.50" y1="183.50" x2="666.50" y2="181.30" stroke="#404040" stroke-width="0.8"/>
<line x1="666.50" y1="16.50" x2="666.50" y2="18.70" stroke="#404040" stroke-width="0.8"/>
<text x="666.50" y="194.40" font-size="7.70" text-anchor="middle" fill="#262626" stroke="#262626" stroke-width="0.13">0</text>
<line x1="453.50" y1="183.50" x2="455.70" y2="183.50" stroke="#404040" stroke-width="0.8"/>
<line x1="666.50" y1="183.50" x2="664.30" y2="183.50" stroke="#404040" stroke-width="0.8"/>
<text x="450.50" y="186.30" font-size="7.70" text-anchor="end" fill="#262626" stroke="#262626" stroke-width="0.13">0</text>
<line x1="453.50" y1="155.67" x2="455.70" y2="155.67" stroke="#404040" stroke-width="0.8"/>
<line x1="666.50" y1="155.67" x2="664.30" y2="155.67" stroke="#404040" stroke-width="0.8"/>
<text x="450.50" y="158.47" font-size="7.70" text-anchor="end" fill="#262626" stroke="#262626" stroke-width="0.13">5</text>
<line x1="453.50" y1="127.83" x2="455.70" y2="127.83" stroke="#404040" stroke-width="0.8"/>
<line x1="666.50" y1="127.83" x2="664.30" y2="127.83" stroke="#404040" stroke-width="0.8"/>
<text x="450.50" y="130.63" font-size="7.70" text-anchor="end" fill="#262626" stroke="#262626" stroke-width="0.13">10</text>
<line x1="453.50" y1="100.00" x2="455.70" y2="100.00" stroke="#404040" stroke-width="0.8"/>
<line x1="666.50" y1="100.00" x2="664.30" y2="100.00" stroke="#404040" stroke-width="0.8"/>
<text x="450.50" y="102.80" font-size="7.70" text-anchor="end" fill="#262626" stroke="#262626" stroke-width="0.13">15</text>
<line x1="453.50" y1="72.17" x2="455.70" y2="72.17" stroke="#404040" stroke-width="0.8"/>
<line x1="666.50" y1="72.17" x2="664.30" y2="72.17" stroke="#404040" stroke-width="0.8"/>
<text x="450.50" y="74.97" font-size="7.70" text-anchor="end" fill="#262626" stroke="#262626" stroke-width="0.13">20</text>
<line x1="453.50" y1="44.33" x2="455.70" y2="44.33" stroke="#404040" stroke-width="0.8"/>
<line x1="666.50" y1="44.33" x2="664.30" y2="44.33" stroke="#404040" stroke-width="0.8"/>
<text x="450.50" y="47.13" font-size="7.70" text-anchor="end" fill="#262626" stroke="#262626" stroke-width="0.13">25</text>
<line x1="453.50" y1="16.50" x2="455.70" y2="16.50" stroke="#404040" stroke-width="0.8"/>
<line x1="666.50" y1="16.50" x2="664.30" y2="16.50" stroke="#404040" stroke-width="0.8"/>
<text x="450.50" y="19.30" font-size="7.70" text-anchor="end" fill="#262626" stroke="#262626" stroke-width="0.13">30</text>
<text x="560.00" y="204.90" font-size="8.45" text-anchor="middle" fill="#262626" stroke="#262626" stroke-width="0.13">Time <tspan font-style="italic">t</tspan>, ms</text>
<text transform="translate(435.3,100.0) rotate(-90)" font-size="8.8" text-anchor="middle" fill="#1e1e1e" stroke="#1e1e1e" stroke-width="0.12">Slip distance <tspan font-style="italic">D</tspan><tspan font-size="6.4" dy="2.5">slip</tspan><tspan dy="-2.5">, mm</tspan></text>
<text x="666.70" y="6.00" font-size="7.00" text-anchor="middle" fill="#262626" stroke="#262626" stroke-width="0.13">Ball release</text>
<line x1="666.50" y1="8.20" x2="666.50" y2="13.00" stroke="#111" stroke-width="0.8"/>
<path d="M664.90,12.30 L668.10,12.30 L666.50,16.00 Z" fill="#111"/>
<line x1="481.12" y1="308.23" x2="481.12" y2="333.72" stroke="#000000" stroke-width="0.9" stroke-dasharray="4,2.5"/>
<line x1="481.12" y1="362.95" x2="481.12" y2="382.10" stroke="#000000" stroke-width="0.9" stroke-dasharray="4,2.5"/>
<line x1="478.43" y1="308.23" x2="483.82" y2="308.23" stroke="#000000" stroke-width="0.9"/>
<line x1="478.43" y1="382.10" x2="483.82" y2="382.10" stroke="#000000" stroke-width="0.9"/>
<rect x="475.82" y="333.72" width="10.60" height="29.22" fill="none" stroke="#000000" stroke-width="0.95"/>
<line x1="475.82" y1="356.04" x2="486.43" y2="356.04" stroke="#000000" stroke-width="0.95"/>
<line x1="534.38" y1="266.70" x2="534.38" y2="270.60" stroke="#2a2aff" stroke-width="0.9" stroke-dasharray="4,2.5"/>
<line x1="534.38" y1="314.41" x2="534.38" y2="350.37" stroke="#2a2aff" stroke-width="0.9" stroke-dasharray="4,2.5"/>
<line x1="531.67" y1="266.70" x2="537.08" y2="266.70" stroke="#2a2aff" stroke-width="0.9"/>
<line x1="531.67" y1="350.37" x2="537.08" y2="350.37" stroke="#2a2aff" stroke-width="0.9"/>
<rect x="529.08" y="270.60" width="10.60" height="43.81" fill="none" stroke="#2a2aff" stroke-width="0.95"/>
<line x1="529.08" y1="290.91" x2="539.67" y2="290.91" stroke="#2a2aff" stroke-width="0.95"/>
<line x1="587.62" y1="339.96" x2="587.62" y2="344.86" stroke="#ff2a2a" stroke-width="0.9" stroke-dasharray="4,2.5"/>
<line x1="587.62" y1="385.77" x2="587.62" y2="389.89" stroke="#ff2a2a" stroke-width="0.9" stroke-dasharray="4,2.5"/>
<line x1="584.92" y1="339.96" x2="590.33" y2="339.96" stroke="#ff2a2a" stroke-width="0.9"/>
<line x1="584.92" y1="389.89" x2="590.33" y2="389.89" stroke="#ff2a2a" stroke-width="0.9"/>
<rect x="582.33" y="344.86" width="10.60" height="40.91" fill="none" stroke="#ff2a2a" stroke-width="0.95"/>
<line x1="582.33" y1="373.47" x2="592.92" y2="373.47" stroke="#ff2a2a" stroke-width="0.95"/>
<line x1="640.88" y1="358.27" x2="640.88" y2="362.06" stroke="#22ee22" stroke-width="0.9" stroke-dasharray="4,2.5"/>
<line x1="640.88" y1="385.66" x2="640.88" y2="391.50" stroke="#22ee22" stroke-width="0.9" stroke-dasharray="4,2.5"/>
<line x1="638.17" y1="358.27" x2="643.58" y2="358.27" stroke="#22ee22" stroke-width="0.9"/>
<line x1="638.17" y1="391.50" x2="643.58" y2="391.50" stroke="#22ee22" stroke-width="0.9"/>
<rect x="635.58" y="362.06" width="10.60" height="23.60" fill="none" stroke="#22ee22" stroke-width="0.95"/>
<line x1="635.58" y1="366.95" x2="646.17" y2="366.95" stroke="#22ee22" stroke-width="0.95"/>
<line x1="491.62" y1="307.84" x2="544.88" y2="278.00" stroke="#c4c4c4" stroke-width="0.6"/>
<line x1="491.62" y1="333.44" x2="544.88" y2="314.52" stroke="#c4c4c4" stroke-width="0.6"/>
<line x1="491.62" y1="349.87" x2="544.88" y2="266.31" stroke="#c4c4c4" stroke-width="0.6"/>
<line x1="491.62" y1="360.16" x2="544.88" y2="270.21" stroke="#c4c4c4" stroke-width="0.6"/>
<line x1="491.62" y1="361.83" x2="544.88" y2="297.82" stroke="#c4c4c4" stroke-width="0.6"/>
<line x1="491.62" y1="363.50" x2="544.88" y2="350.37" stroke="#c4c4c4" stroke-width="0.6"/>
<line x1="491.62" y1="381.87" x2="544.88" y2="302.83" stroke="#c4c4c4" stroke-width="0.6"/>
<line x1="544.88" y1="314.52" x2="598.12" y2="339.85" stroke="#c4c4c4" stroke-width="0.6"/>
<line x1="544.88" y1="350.37" x2="598.12" y2="389.89" stroke="#c4c4c4" stroke-width="0.6"/>
<line x1="544.88" y1="302.83" x2="598.12" y2="344.86" stroke="#c4c4c4" stroke-width="0.6"/>
<line x1="544.88" y1="266.31" x2="598.12" y2="365.73" stroke="#c4c4c4" stroke-width="0.6"/>
<line x1="544.88" y1="278.00" x2="598.12" y2="368.51" stroke="#c4c4c4" stroke-width="0.6"/>
<line x1="544.88" y1="270.21" x2="598.12" y2="380.48" stroke="#c4c4c4" stroke-width="0.6"/>
<line x1="544.88" y1="297.82" x2="598.12" y2="385.77" stroke="#c4c4c4" stroke-width="0.6"/>
<line x1="598.12" y1="339.85" x2="651.38" y2="357.94" stroke="#c4c4c4" stroke-width="0.6"/>
<line x1="598.12" y1="344.86" x2="651.38" y2="361.83" stroke="#c4c4c4" stroke-width="0.6"/>
<line x1="598.12" y1="365.73" x2="651.38" y2="362.95" stroke="#c4c4c4" stroke-width="0.6"/>
<line x1="598.12" y1="368.51" x2="651.38" y2="370.18" stroke="#c4c4c4" stroke-width="0.6"/>
<line x1="598.12" y1="380.48" x2="651.38" y2="385.66" stroke="#c4c4c4" stroke-width="0.6"/>
<line x1="598.12" y1="385.77" x2="651.38" y2="371.85" stroke="#c4c4c4" stroke-width="0.6"/>
<line x1="598.12" y1="389.89" x2="651.38" y2="391.39" stroke="#c4c4c4" stroke-width="0.6"/>
<circle cx="491.62" cy="307.84" r="1.9" fill="#fff" stroke="#505050" stroke-width="0.7"/>
<circle cx="491.62" cy="333.44" r="1.9" fill="#fff" stroke="#505050" stroke-width="0.7"/>
<circle cx="491.62" cy="349.87" r="1.9" fill="#fff" stroke="#505050" stroke-width="0.7"/>
<circle cx="491.62" cy="360.16" r="1.9" fill="#fff" stroke="#505050" stroke-width="0.7"/>
<circle cx="491.62" cy="361.83" r="1.9" fill="#fff" stroke="#505050" stroke-width="0.7"/>
<circle cx="491.62" cy="363.50" r="1.9" fill="#fff" stroke="#505050" stroke-width="0.7"/>
<circle cx="491.62" cy="381.87" r="1.9" fill="#fff" stroke="#505050" stroke-width="0.7"/>
<circle cx="491.62" cy="349.87" r="2.3" fill="#000"/>
<circle cx="544.88" cy="266.31" r="1.9" fill="#fff" stroke="#505050" stroke-width="0.7"/>
<circle cx="544.88" cy="270.21" r="1.9" fill="#fff" stroke="#505050" stroke-width="0.7"/>
<circle cx="544.88" cy="278.00" r="1.9" fill="#fff" stroke="#505050" stroke-width="0.7"/>
<circle cx="544.88" cy="297.82" r="1.9" fill="#fff" stroke="#505050" stroke-width="0.7"/>
<circle cx="544.88" cy="302.83" r="1.9" fill="#fff" stroke="#505050" stroke-width="0.7"/>
<circle cx="544.88" cy="314.52" r="1.9" fill="#fff" stroke="#505050" stroke-width="0.7"/>
<circle cx="544.88" cy="350.37" r="1.9" fill="#fff" stroke="#505050" stroke-width="0.7"/>
<circle cx="544.88" cy="297.26" r="2.3" fill="#000"/>
<circle cx="598.12" cy="339.85" r="1.9" fill="#fff" stroke="#505050" stroke-width="0.7"/>
<circle cx="598.12" cy="344.86" r="1.9" fill="#fff" stroke="#505050" stroke-width="0.7"/>
<circle cx="598.12" cy="365.73" r="1.9" fill="#fff" stroke="#505050" stroke-width="0.7"/>
<circle cx="598.12" cy="368.51" r="1.9" fill="#fff" stroke="#505050" stroke-width="0.7"/>
<circle cx="598.12" cy="380.48" r="1.9" fill="#fff" stroke="#505050" stroke-width="0.7"/>
<circle cx="598.12" cy="385.77" r="1.9" fill="#fff" stroke="#505050" stroke-width="0.7"/>
<circle cx="598.12" cy="389.89" r="1.9" fill="#fff" stroke="#505050" stroke-width="0.7"/>
<circle cx="598.12" cy="367.96" r="2.3" fill="#000"/>
<circle cx="651.38" cy="357.94" r="1.9" fill="#fff" stroke="#505050" stroke-width="0.7"/>
<circle cx="651.38" cy="361.83" r="1.9" fill="#fff" stroke="#505050" stroke-width="0.7"/>
<circle cx="651.38" cy="362.95" r="1.9" fill="#fff" stroke="#505050" stroke-width="0.7"/>
<circle cx="651.38" cy="370.18" r="1.9" fill="#fff" stroke="#505050" stroke-width="0.7"/>
<circle cx="651.38" cy="371.85" r="1.9" fill="#fff" stroke="#505050" stroke-width="0.7"/>
<circle cx="651.38" cy="385.66" r="1.9" fill="#fff" stroke="#505050" stroke-width="0.7"/>
<circle cx="651.38" cy="391.39" r="1.9" fill="#fff" stroke="#505050" stroke-width="0.7"/>
<circle cx="651.38" cy="371.69" r="2.3" fill="#000"/>
<rect x="454.50" y="250.50" width="213.00" height="167.00" fill="none" stroke="#404040" stroke-width="1"/>
<line x1="481.12" y1="417.50" x2="481.12" y2="415.30" stroke="#404040" stroke-width="0.8"/>
<line x1="481.12" y1="250.50" x2="481.12" y2="252.70" stroke="#404040" stroke-width="0.8"/>
<line x1="534.38" y1="417.50" x2="534.38" y2="415.30" stroke="#404040" stroke-width="0.8"/>
<line x1="534.38" y1="250.50" x2="534.38" y2="252.70" stroke="#404040" stroke-width="0.8"/>
<line x1="587.62" y1="417.50" x2="587.62" y2="415.30" stroke="#404040" stroke-width="0.8"/>
<line x1="587.62" y1="250.50" x2="587.62" y2="252.70" stroke="#404040" stroke-width="0.8"/>
<line x1="640.88" y1="417.50" x2="640.88" y2="415.30" stroke="#404040" stroke-width="0.8"/>
<line x1="640.88" y1="250.50" x2="640.88" y2="252.70" stroke="#404040" stroke-width="0.8"/>
<line x1="454.50" y1="417.50" x2="456.70" y2="417.50" stroke="#404040" stroke-width="0.8"/>
<line x1="667.50" y1="417.50" x2="665.30" y2="417.50" stroke="#404040" stroke-width="0.8"/>
<text x="451.70" y="420.40" font-size="8.20" text-anchor="end" fill="#262626" stroke="#262626" stroke-width="0.13">0</text>
<line x1="454.50" y1="389.67" x2="456.70" y2="389.67" stroke="#404040" stroke-width="0.8"/>
<line x1="667.50" y1="389.67" x2="665.30" y2="389.67" stroke="#404040" stroke-width="0.8"/>
<text x="451.70" y="392.57" font-size="8.20" text-anchor="end" fill="#262626" stroke="#262626" stroke-width="0.13">5</text>
<line x1="454.50" y1="361.83" x2="456.70" y2="361.83" stroke="#404040" stroke-width="0.8"/>
<line x1="667.50" y1="361.83" x2="665.30" y2="361.83" stroke="#404040" stroke-width="0.8"/>
<text x="451.70" y="364.73" font-size="8.20" text-anchor="end" fill="#262626" stroke="#262626" stroke-width="0.13">10</text>
<line x1="454.50" y1="334.00" x2="456.70" y2="334.00" stroke="#404040" stroke-width="0.8"/>
<line x1="667.50" y1="334.00" x2="665.30" y2="334.00" stroke="#404040" stroke-width="0.8"/>
<text x="451.70" y="336.90" font-size="8.20" text-anchor="end" fill="#262626" stroke="#262626" stroke-width="0.13">15</text>
<line x1="454.50" y1="306.17" x2="456.70" y2="306.17" stroke="#404040" stroke-width="0.8"/>
<line x1="667.50" y1="306.17" x2="665.30" y2="306.17" stroke="#404040" stroke-width="0.8"/>
<text x="451.70" y="309.07" font-size="8.20" text-anchor="end" fill="#262626" stroke="#262626" stroke-width="0.13">20</text>
<line x1="454.50" y1="278.33" x2="456.70" y2="278.33" stroke="#404040" stroke-width="0.8"/>
<line x1="667.50" y1="278.33" x2="665.30" y2="278.33" stroke="#404040" stroke-width="0.8"/>
<text x="451.70" y="281.23" font-size="8.20" text-anchor="end" fill="#262626" stroke="#262626" stroke-width="0.13">25</text>
<line x1="454.50" y1="250.50" x2="456.70" y2="250.50" stroke="#404040" stroke-width="0.8"/>
<line x1="667.50" y1="250.50" x2="665.30" y2="250.50" stroke="#404040" stroke-width="0.8"/>
<text x="451.70" y="253.40" font-size="8.20" text-anchor="end" fill="#262626" stroke="#262626" stroke-width="0.13">30</text>
<text x="481.20" y="428.90" font-size="8.55" text-anchor="middle" fill="#1e1e1e" stroke="#1e1e1e" stroke-width="0.2">No</text>
<text x="481.10" y="438.80" font-size="8.55" text-anchor="middle" fill="#1e1e1e" stroke="#1e1e1e" stroke-width="0.2">application</text>
<text x="534.20" y="428.90" font-size="8.55" text-anchor="middle" fill="#1e1e1e" stroke="#1e1e1e" stroke-width="0.2">Water</text>
<text x="531.70" y="438.80" font-size="8.55" text-anchor="middle" fill="#1e1e1e" stroke="#1e1e1e" stroke-width="0.2">application</text>
<text x="591.50" y="428.90" font-size="8.55" text-anchor="middle" fill="#1e1e1e" stroke="#1e1e1e" stroke-width="0.2">Rosin powder</text>
<text x="590.40" y="438.80" font-size="8.55" text-anchor="middle" fill="#1e1e1e" stroke="#1e1e1e" stroke-width="0.2">application</text>
<text x="644.20" y="428.90" font-size="8.55" text-anchor="middle" fill="#1e1e1e" stroke="#1e1e1e" stroke-width="0.2">Pine resin</text>
<text x="643.50" y="438.80" font-size="8.55" text-anchor="middle" fill="#1e1e1e" stroke="#1e1e1e" stroke-width="0.2">application</text>
<text transform="translate(435.6,334.0) rotate(-90)" font-size="8.85" text-anchor="middle" fill="#1e1e1e" stroke="#1e1e1e" stroke-width="0.12">Total slip distance <tspan font-style="italic">D</tspan><tspan font-size="6.6" dy="2.6">total</tspan><tspan dy="-2.6">, mm</tspan></text>
<line x1="533.9" y1="232.5" x2="640.6" y2="232.5" stroke="#333" stroke-width="0.9"/>
<line x1="532.9" y1="241.5" x2="587.9" y2="241.5" stroke="#333" stroke-width="0.9"/>
<polygon points="590.50,226.30 591.18,228.07 593.07,228.17 591.59,229.36 592.09,231.18 590.50,230.15 588.91,231.18 589.41,229.36 587.93,228.17 589.82,228.07" fill="#1a1a1a"/>
<polygon points="595.60,226.30 596.28,228.07 598.17,228.17 596.69,229.36 597.19,231.18 595.60,230.15 594.01,231.18 594.51,229.36 593.03,228.17 594.92,228.07" fill="#1a1a1a"/>
<polygon points="561.40,235.60 562.08,237.37 563.97,237.47 562.49,238.66 562.99,240.48 561.40,239.45 559.81,240.48 560.31,238.66 558.83,237.47 560.72,237.37" fill="#1a1a1a"/>
</svg></body></html>
